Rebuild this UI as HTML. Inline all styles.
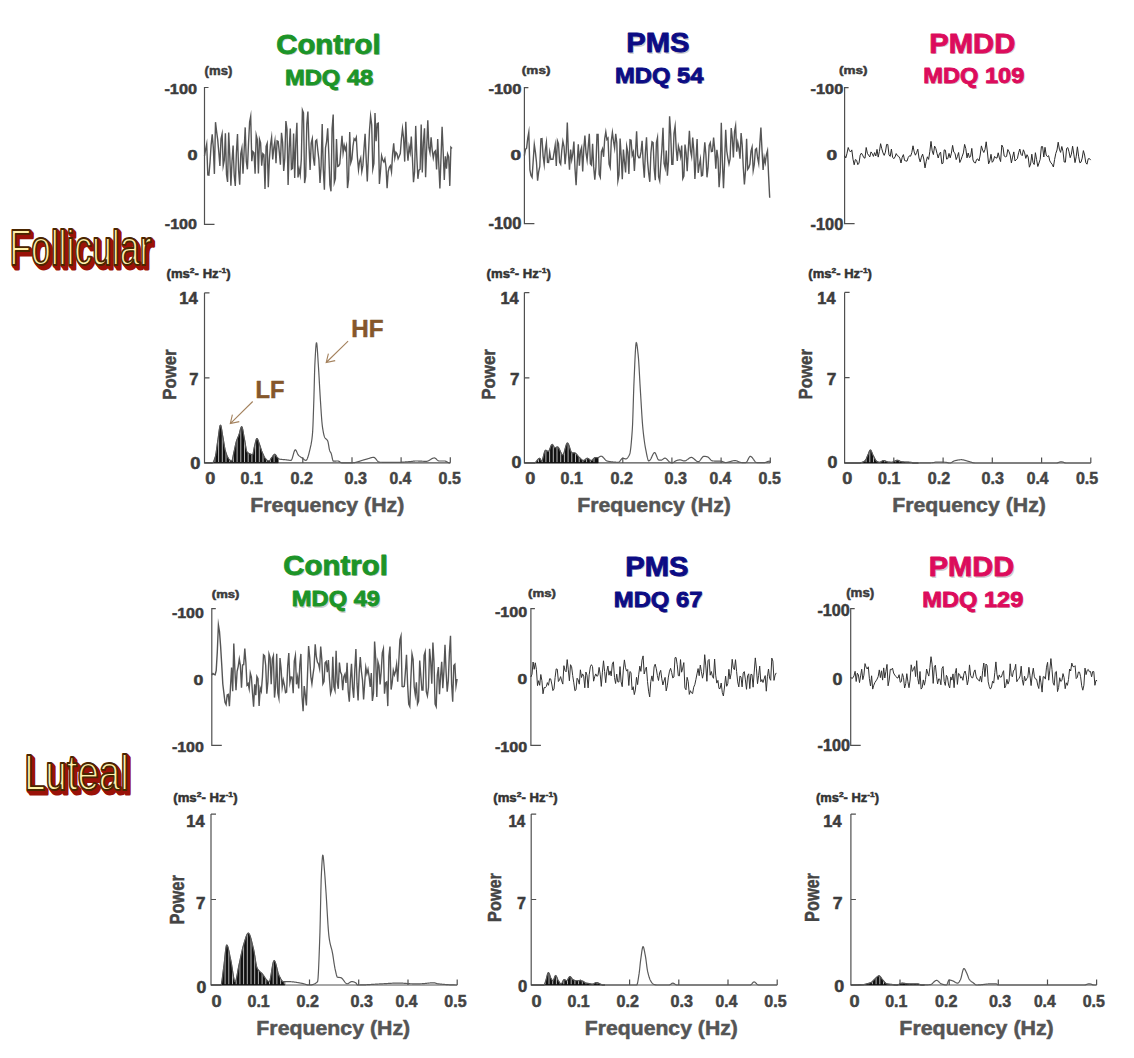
<!DOCTYPE html>
<html><head><meta charset="utf-8"><style>html,body{margin:0;padding:0;background:#fff;width:1134px;height:1058px;overflow:hidden}svg{display:block}text{font-family:"Liberation Sans",sans-serif}</style></head>
<body><svg width="1134" height="1058" viewBox="0 0 1134 1058" font-family="Liberation Sans, sans-serif">
<rect width="1134" height="1058" fill="#fff"/>
<path d="M208.5,87.5H204.5V224.3H214.5" fill="none" stroke="#505050" stroke-width="1.2"/><polyline points="204.5,155.9 205.6,149.5 206.7,144.1 207.8,174.9 208.9,175.2 210.0,162.6 211.1,145.4 212.2,134.3 213.3,147.3 214.4,173.9 215.5,122.2 216.6,131.7 217.7,139.6 218.8,152.1 219.9,165.9 221.0,138.9 222.1,134.0 223.2,165.9 224.3,160.2 225.4,133.3 226.5,174.5 227.6,181.9 228.7,132.6 229.8,156.1 230.9,185.8 232.0,161.5 233.1,145.6 234.2,175.3 235.3,186.0 236.4,152.6 237.5,134.1 238.6,170.3 239.7,184.8 240.8,153.5 241.9,148.0 243.0,173.8 244.1,151.2 245.2,127.4 246.3,161.5 247.4,169.3 248.5,143.7 249.6,122.1 250.7,116.3 251.8,161.2 252.9,151.6 254.0,152.8 255.1,173.8 256.2,135.1 257.3,139.7 258.4,173.6 259.5,139.3 260.6,142.9 261.7,165.7 262.8,153.6 263.9,154.8 265.0,189.1 266.1,146.5 267.2,143.4 268.3,187.2 269.4,159.1 270.5,144.7 271.6,137.5 272.7,159.4 273.8,148.0 274.9,141.1 276.0,163.3 277.1,140.9 278.2,141.5 279.3,152.1 280.4,164.7 281.5,132.8 282.6,142.3 283.7,171.0 284.8,158.4 285.9,121.0 287.0,129.3 288.1,184.9 289.2,148.4 290.3,128.5 291.4,169.3 292.5,168.4 293.6,133.6 294.7,177.9 295.8,142.2 296.9,122.7 298.0,177.5 299.1,169.2 300.2,175.0 301.3,159.4 302.4,110.0 303.5,112.9 304.6,183.1 305.7,176.3 306.8,124.2 307.9,111.6 309.0,145.6 310.1,170.0 311.2,143.1 312.3,138.7 313.4,158.2 314.5,165.7 315.6,141.0 316.7,139.8 317.8,150.3 318.9,159.6 320.0,182.9 321.1,165.7 322.2,123.9 323.3,169.4 324.4,189.7 325.5,147.9 326.6,141.6 327.7,128.4 328.8,153.7 329.9,185.0 331.0,191.3 332.1,128.6 333.2,114.6 334.3,182.5 335.4,178.6 336.5,139.1 337.6,166.4 338.7,165.9 339.8,163.7 340.9,149.1 342.0,135.7 343.1,152.8 344.2,145.3 345.3,150.0 346.4,145.9 347.5,188.1 348.6,179.3 349.7,132.0 350.8,162.8 351.9,159.2 353.0,146.2 354.1,138.7 355.2,140.2 356.3,137.3 357.4,157.0 358.5,169.8 359.6,161.3 360.7,157.8 361.8,171.5 362.9,165.4 364.0,148.9 365.1,133.9 366.2,159.5 367.3,181.4 368.4,155.3 369.5,130.3 370.6,116.1 371.7,124.8 372.8,169.0 373.9,163.4 375.0,113.0 376.1,141.2 377.2,123.6 378.3,123.1 379.4,183.9 380.5,171.0 381.6,155.8 382.7,159.9 383.8,161.8 384.9,158.7 386.0,167.0 387.1,188.1 388.2,171.5 389.3,167.4 390.4,165.6 391.5,171.9 392.6,154.1 393.7,143.2 394.8,158.0 395.9,152.3 397.0,153.9 398.1,158.8 399.2,156.3 400.3,153.5 401.4,139.0 402.5,128.7 403.6,138.1 404.7,161.6 405.8,121.7 406.9,147.5 408.0,160.7 409.1,146.6 410.2,152.3 411.3,136.5 412.4,157.8 413.5,182.2 414.6,171.7 415.7,125.9 416.8,156.4 417.9,178.8 419.0,170.2 420.1,169.2 421.2,124.4 422.3,172.5 423.4,142.4 424.5,128.2 425.6,177.3 426.7,147.8 427.8,120.3 428.9,147.7 430.0,152.8 431.1,137.2 432.2,150.1 433.3,157.9 434.4,152.1 435.5,150.8 436.6,169.4 437.7,139.1 438.8,164.7 439.9,188.4 441.0,158.0 442.1,126.7 443.2,152.4 444.3,179.9 445.4,156.3 446.5,168.8 447.6,154.0 448.7,156.9 449.8,185.9 450.9,147.3 452.0,148.5" fill="none" stroke="#555555" stroke-width="1.4" stroke-linejoin="miter" stroke-miterlimit="10"/><path d="M528.4,87.7H524.4V223.7H534.4" fill="none" stroke="#505050" stroke-width="1.2"/><polyline points="524.4,155.7 525.5,149.4 526.6,148.2 527.7,138.3 528.8,132.2 529.9,170.0 531.0,175.6 532.1,177.4 533.2,160.7 534.3,144.6 535.4,152.1 536.5,162.5 537.6,180.6 538.7,171.5 539.8,166.5 540.9,138.9 542.0,138.7 543.1,156.1 544.2,164.4 545.3,150.0 546.4,142.5 547.5,162.4 548.6,162.5 549.7,152.2 550.8,159.4 551.9,159.1 553.0,159.3 554.1,152.3 555.2,145.2 556.3,166.0 557.4,140.7 558.5,143.7 559.6,162.2 560.7,164.3 561.8,150.3 562.9,141.2 564.0,146.5 565.1,164.3 566.2,151.7 567.3,122.5 568.4,152.4 569.5,169.7 570.6,149.5 571.7,159.8 572.8,153.6 573.9,141.6 575.0,168.5 576.1,185.3 577.2,162.8 578.3,144.2 579.4,165.6 580.5,151.1 581.6,147.4 582.7,171.5 583.8,148.8 584.9,135.5 586.0,152.6 587.1,160.2 588.2,147.2 589.3,133.7 590.4,163.8 591.5,165.1 592.6,143.7 593.7,166.9 594.8,179.8 595.9,167.2 597.0,134.4 598.1,134.4 599.2,174.3 600.3,177.3 601.4,151.7 602.5,148.8 603.6,156.8 604.7,138.8 605.8,131.9 606.9,139.5 608.0,138.1 609.1,164.1 610.2,167.5 611.3,140.7 612.4,132.5 613.5,141.4 614.6,148.1 615.7,133.8 616.8,142.8 617.9,180.7 619.0,174.9 620.1,138.5 621.2,156.2 622.3,179.2 623.4,149.5 624.5,161.7 625.6,172.5 626.7,146.4 627.8,152.2 628.9,174.0 630.0,139.8 631.1,140.2 632.2,155.3 633.3,152.1 634.4,171.0 635.5,153.0 636.6,131.3 637.7,155.3 638.8,157.8 639.9,157.6 641.0,151.9 642.1,140.7 643.2,163.0 644.3,177.8 645.4,152.5 646.5,137.2 647.6,161.6 648.7,173.6 649.8,181.8 650.9,153.0 652.0,141.8 653.1,142.7 654.2,168.8 655.3,180.3 656.4,142.9 657.5,137.7 658.6,176.9 659.7,180.8 660.8,163.8 661.9,149.0 663.0,127.8 664.1,163.3 665.2,168.0 666.3,150.5 667.4,175.7 668.5,161.0 669.6,116.3 670.7,133.9 671.8,164.2 672.9,164.2 674.0,133.2 675.1,126.1 676.2,148.5 677.3,161.0 678.4,146.0 679.5,150.2 680.6,156.4 681.7,145.5 682.8,178.6 683.9,176.1 685.0,144.5 686.1,152.7 687.2,171.3 688.3,149.7 689.4,130.7 690.5,150.6 691.6,156.3 692.7,137.5 693.8,150.3 694.9,179.0 696.0,158.9 697.1,139.0 698.2,172.8 699.3,165.0 700.4,159.1 701.5,175.9 702.6,175.4 703.7,157.7 704.8,142.4 705.9,154.6 707.0,177.3 708.1,167.3 709.2,145.5 710.3,142.7 711.4,151.5 712.5,151.2 713.6,137.5 714.7,149.0 715.8,168.6 716.9,149.8 718.0,158.2 719.1,187.1 720.2,171.5 721.3,122.7 722.4,162.8 723.5,188.3 724.6,161.9 725.7,129.8 726.8,151.1 727.9,158.3 729.0,164.1 730.1,159.0 731.2,128.1 732.3,138.1 733.4,157.5 734.5,131.7 735.6,125.9 736.7,151.6 737.8,142.4 738.9,148.0 740.0,158.7 741.1,133.1 742.2,144.8 743.3,167.5 744.4,184.5 745.5,170.9 746.6,138.7 747.7,169.3 748.8,167.7 749.9,164.0 751.0,151.2 752.1,147.2 753.2,170.5 754.3,164.4 755.4,149.5 756.5,148.4 757.6,158.0 758.7,163.5 759.8,144.0 760.9,127.5 762.0,150.0 763.1,170.0 764.2,157.4 765.3,162.8 766.4,154.6 767.5,150.7 768.6,175.7 769.7,197.7" fill="none" stroke="#555555" stroke-width="1.4" stroke-linejoin="miter" stroke-miterlimit="10"/><path d="M848.6,87.7H844.6V223.7H854.6" fill="none" stroke="#505050" stroke-width="1.2"/><polyline points="844.6,155.7 845.8,157.9 847.0,153.3 848.2,147.5 849.4,150.7 850.6,152.0 851.8,149.9 853.0,159.2 854.2,164.8 855.4,159.5 856.6,160.3 857.8,164.7 859.0,163.1 860.2,155.2 861.4,153.1 862.6,155.1 863.8,157.6 865.0,158.2 866.2,147.5 867.4,153.3 868.6,155.3 869.8,156.9 871.0,151.9 872.2,153.5 873.4,156.4 874.6,152.6 875.8,156.0 877.0,149.4 878.2,157.1 879.4,151.5 880.6,143.7 881.8,148.8 883.0,152.9 884.2,155.4 885.4,152.2 886.6,144.4 887.8,144.5 889.0,154.9 890.2,156.4 891.4,149.1 892.6,157.2 893.8,158.7 895.0,157.0 896.2,153.6 897.4,155.7 898.6,156.3 899.8,158.1 901.0,163.0 902.2,157.3 903.4,154.6 904.6,160.5 905.8,160.9 907.0,161.2 908.2,157.6 909.4,155.8 910.6,156.2 911.8,152.6 913.0,145.8 914.2,151.9 915.4,155.2 916.6,152.6 917.8,149.2 919.0,158.0 920.2,161.9 921.4,157.2 922.6,154.1 923.8,159.0 925.0,167.9 926.2,161.4 927.4,156.8 928.6,159.4 929.8,151.6 931.0,141.4 932.2,150.9 933.4,154.6 934.6,146.1 935.8,148.5 937.0,153.3 938.2,158.0 939.4,153.7 940.6,152.1 941.8,163.7 943.0,163.2 944.2,149.9 945.4,150.2 946.6,159.1 947.8,158.6 949.0,153.4 950.2,157.8 951.4,153.2 952.6,145.4 953.8,152.2 955.0,153.3 956.2,159.6 957.4,156.6 958.6,152.5 959.8,162.5 961.0,159.8 962.2,156.3 963.4,152.9 964.6,144.4 965.8,148.6 967.0,157.9 968.2,153.0 969.4,157.5 970.6,156.6 971.8,148.4 973.0,160.0 974.2,162.5 975.4,163.0 976.6,159.5 977.8,158.9 979.0,161.0 980.2,155.0 981.4,145.9 982.6,150.0 983.8,152.5 985.0,149.5 986.2,141.8 987.4,152.0 988.6,163.9 989.8,160.9 991.0,154.3 992.2,162.3 993.4,160.8 994.6,156.4 995.8,157.8 997.0,158.1 998.2,152.8 999.4,157.9 1000.6,161.6 1001.8,145.1 1003.0,147.4 1004.2,156.0 1005.4,156.8 1006.6,156.4 1007.8,149.5 1009.0,151.7 1010.2,155.1 1011.4,162.9 1012.6,157.1 1013.8,151.9 1015.0,161.0 1016.2,159.8 1017.4,158.6 1018.6,152.8 1019.8,149.0 1021.0,154.4 1022.2,155.7 1023.4,149.8 1024.6,152.8 1025.8,158.4 1027.0,154.7 1028.2,157.1 1029.4,167.2 1030.6,164.0 1031.8,154.2 1033.0,162.5 1034.2,164.5 1035.4,152.7 1036.6,159.6 1037.8,166.5 1039.0,163.0 1040.2,159.2 1041.4,146.6 1042.6,146.6 1043.8,157.0 1045.0,147.3 1046.2,155.1 1047.4,156.6 1048.6,155.7 1049.8,160.9 1051.0,162.9 1052.2,164.3 1053.4,167.0 1054.6,159.5 1055.8,153.4 1057.0,150.0 1058.2,142.2 1059.4,149.2 1060.6,152.4 1061.8,146.5 1063.0,151.4 1064.2,162.0 1065.4,162.2 1066.6,148.4 1067.8,147.6 1069.0,151.8 1070.2,157.7 1071.4,154.2 1072.6,146.2 1073.8,154.1 1075.0,162.6 1076.2,156.8 1077.4,146.8 1078.6,156.2 1079.8,162.7 1081.0,162.2 1082.2,158.1 1083.4,150.6 1084.6,155.0 1085.8,162.7 1087.0,164.2 1088.2,158.8 1089.4,158.5 1090.6,160.1" fill="none" stroke="#2a2a2a" stroke-width="1.0" stroke-linejoin="miter" stroke-miterlimit="10"/><path d="M215.8,608.6H211.8V745.4H221.8" fill="none" stroke="#505050" stroke-width="1.2"/><polyline points="211.8,675.0 212.9,673.5 214.0,674.4 215.1,674.8 216.2,670.6 217.3,651.9 218.4,624.9 219.5,631.7 220.6,646.1 221.7,664.3 222.8,684.0 223.9,693.1 225.0,702.2 226.1,704.5 227.2,695.0 228.3,694.4 229.4,706.2 230.5,686.9 231.6,667.6 232.7,691.3 233.8,643.5 234.9,670.4 236.0,690.2 237.1,671.3 238.2,666.6 239.3,659.0 240.4,665.6 241.5,687.8 242.6,664.9 243.7,664.6 244.8,648.5 245.9,662.9 247.0,685.0 248.1,683.5 249.2,688.8 250.3,673.2 251.4,677.2 252.5,693.3 253.6,706.8 254.7,684.3 255.8,695.3 256.9,676.4 258.0,678.6 259.1,705.9 260.2,688.1 261.3,691.3 262.4,677.5 263.5,654.8 264.6,655.8 265.7,665.5 266.8,693.7 267.9,682.0 269.0,653.9 270.1,657.5 271.2,684.3 272.3,659.1 273.4,655.7 274.5,697.6 275.6,686.4 276.7,653.7 277.8,692.9 278.9,698.2 280.0,658.0 281.1,668.7 282.2,687.2 283.3,680.0 284.4,685.0 285.5,692.7 286.6,692.0 287.7,665.7 288.8,653.1 289.9,682.5 291.0,677.0 292.1,677.1 293.2,693.2 294.3,661.2 295.4,655.6 296.5,684.3 297.6,677.2 298.7,688.4 299.8,664.8 300.9,653.9 302.0,696.0 303.1,711.2 304.2,686.0 305.3,695.0 306.4,705.4 307.5,675.1 308.6,646.0 309.7,657.2 310.8,676.5 311.9,683.8 313.0,674.6 314.1,667.0 315.2,644.3 316.3,656.5 317.4,662.1 318.5,663.9 319.6,668.8 320.7,646.5 321.8,659.4 322.9,683.9 324.0,681.6 325.1,662.8 326.2,661.5 327.3,672.2 328.4,660.1 329.5,679.4 330.6,693.5 331.7,689.7 332.8,656.8 333.9,687.0 335.0,690.6 336.1,650.8 337.2,681.9 338.3,688.8 339.4,662.6 340.5,672.0 341.6,674.4 342.7,690.3 343.8,676.8 344.9,674.2 346.0,682.9 347.1,662.7 348.2,691.3 349.3,701.7 350.4,679.4 351.5,663.9 352.6,687.8 353.7,697.8 354.8,669.7 355.9,649.0 357.0,683.4 358.1,700.4 359.2,672.2 360.3,657.1 361.4,671.3 362.5,680.1 363.6,699.4 364.7,683.3 365.8,667.5 366.9,673.6 368.0,669.2 369.1,676.5 370.2,687.0 371.3,673.1 372.4,701.0 373.5,693.1 374.6,641.5 375.7,658.2 376.8,696.9 377.9,661.7 379.0,665.8 380.1,684.5 381.2,671.7 382.3,652.9 383.4,648.8 384.5,693.8 385.6,682.8 386.7,681.9 387.8,706.1 388.9,656.4 390.0,646.5 391.1,689.6 392.2,682.7 393.3,670.5 394.4,675.0 395.5,671.5 396.6,664.4 397.7,681.8 398.8,661.5 399.9,639.9 401.0,636.0 402.1,686.5 403.2,686.7 404.3,686.2 405.4,671.7 406.5,654.8 407.6,684.3 408.7,704.0 409.8,706.5 410.9,678.1 412.0,654.0 413.1,659.4 414.2,686.8 415.3,695.0 416.4,682.4 417.5,704.0 418.6,701.1 419.7,660.5 420.8,675.6 421.9,690.0 423.0,690.0 424.1,655.4 425.2,651.8 426.3,691.6 427.4,695.8 428.5,687.3 429.6,648.7 430.7,661.7 431.8,683.7 432.9,642.5 434.0,662.1 435.1,704.1 436.2,706.6 437.3,675.0 438.4,667.0 439.5,694.3 440.6,676.4 441.7,661.8 442.8,688.1 443.9,671.4 445.0,644.8 446.1,672.0 447.2,691.6 448.3,680.6 449.4,652.9 450.5,635.7 451.6,683.6 452.7,701.8 453.8,665.6 454.9,664.3 456.0,686.1 457.1,679.0" fill="none" stroke="#555555" stroke-width="1.4" stroke-linejoin="miter" stroke-miterlimit="10"/><path d="M534.9,608.6H530.9V745.4H540.9" fill="none" stroke="#505050" stroke-width="1.2"/><polyline points="530.9,677.0 532.0,674.2 533.1,662.0 534.2,669.3 535.3,662.8 536.4,669.3 537.5,685.6 538.6,680.7 539.7,685.3 540.8,674.5 541.9,680.7 543.0,693.8 544.1,687.6 545.2,687.7 546.3,686.6 547.4,682.6 548.5,685.3 549.6,678.7 550.7,678.9 551.8,684.1 552.9,690.6 554.0,688.9 555.1,677.5 556.2,668.9 557.3,669.3 558.4,681.5 559.5,679.9 560.6,676.6 561.7,680.9 562.8,684.1 563.9,665.7 565.0,670.5 566.1,671.8 567.2,659.6 568.3,669.8 569.4,680.8 570.5,664.7 571.6,666.7 572.7,675.6 573.8,682.8 574.9,690.7 576.0,689.8 577.1,678.2 578.2,680.0 579.3,684.2 580.4,669.8 581.5,677.5 582.6,673.9 583.7,676.2 584.8,687.8 585.9,672.0 587.0,675.2 588.1,687.9 589.2,674.7 590.3,666.9 591.4,664.7 592.5,666.5 593.6,681.2 594.7,676.7 595.8,673.9 596.9,676.3 598.0,675.5 599.1,667.4 600.2,674.2 601.3,686.4 602.4,672.2 603.5,660.8 604.6,671.5 605.7,682.7 606.8,671.3 607.9,666.0 609.0,675.2 610.1,670.9 611.2,675.9 612.3,664.2 613.4,661.8 614.5,677.6 615.6,683.5 616.7,674.1 617.8,681.9 618.9,682.0 620.0,666.6 621.1,681.8 622.2,686.7 623.3,670.1 624.4,659.9 625.5,667.7 626.6,671.1 627.7,669.5 628.8,685.5 629.9,671.5 631.0,672.5 632.1,689.9 633.2,686.7 634.3,694.6 635.4,689.9 636.5,677.3 637.6,684.6 638.7,674.8 639.8,666.2 640.9,671.4 642.0,660.1 643.1,655.9 644.2,674.0 645.3,669.6 646.4,667.1 647.5,681.4 648.6,691.2 649.7,696.9 650.8,681.6 651.9,675.9 653.0,681.3 654.1,666.9 655.2,664.2 656.3,668.8 657.4,675.6 658.5,680.5 659.6,673.0 660.7,670.3 661.8,678.8 662.9,685.0 664.0,680.9 665.1,677.4 666.2,690.9 667.3,685.8 668.4,677.1 669.5,671.2 670.6,668.3 671.7,672.6 672.8,678.0 673.9,677.0 675.0,657.7 676.1,657.6 677.2,664.7 678.3,675.6 679.4,675.9 680.5,659.6 681.6,672.2 682.7,668.1 683.8,662.6 684.9,687.9 686.0,689.8 687.1,677.3 688.2,681.5 689.3,694.4 690.4,690.7 691.5,692.9 692.6,693.6 693.7,687.2 694.8,684.7 695.9,679.5 697.0,673.9 698.1,668.6 699.2,675.7 700.3,665.0 701.4,671.6 702.5,678.2 703.6,672.9 704.7,654.7 705.8,665.9 706.9,681.3 708.0,660.7 709.1,659.4 710.2,675.2 711.3,671.5 712.4,676.3 713.5,678.3 714.6,659.0 715.7,675.2 716.8,683.1 717.9,680.4 719.0,688.5 720.1,688.6 721.2,683.0 722.3,692.5 723.4,696.0 724.5,687.0 725.6,676.2 726.7,686.3 727.8,683.6 728.9,669.3 730.0,679.1 731.1,673.7 732.2,659.3 733.3,667.8 734.4,669.7 735.5,659.7 736.6,671.6 737.7,681.9 738.8,686.9 739.9,676.1 741.0,676.8 742.1,686.9 743.2,673.1 744.3,671.6 745.4,679.9 746.5,689.3 747.6,675.7 748.7,673.8 749.8,688.6 750.9,674.3 752.0,674.6 753.1,687.2 754.2,672.1 755.3,657.9 756.4,668.1 757.5,683.7 758.6,675.7 759.7,666.1 760.8,681.8 761.9,679.5 763.0,682.5 764.1,678.9 765.2,675.6 766.3,691.2 767.4,676.8 768.5,669.0 769.6,678.4 770.7,680.3 771.8,658.1 772.9,661.1 774.0,680.4 775.1,675.1 776.2,672.9" fill="none" stroke="#333333" stroke-width="1.0" stroke-linejoin="miter" stroke-miterlimit="10"/><path d="M854.7,608.6H850.7V745.4H860.7" fill="none" stroke="#505050" stroke-width="1.2"/><polyline points="850.7,677.0 851.8,678.6 852.9,677.8 854.0,675.8 855.1,671.3 856.2,681.5 857.3,673.2 858.4,674.9 859.5,682.6 860.6,675.9 861.7,669.2 862.8,679.6 863.9,675.2 865.0,663.6 866.1,667.2 867.2,669.0 868.3,666.8 869.4,678.7 870.5,686.0 871.6,675.8 872.7,689.1 873.8,685.2 874.9,682.5 876.0,680.9 877.1,679.1 878.2,676.5 879.3,669.9 880.4,677.6 881.5,670.8 882.6,680.1 883.7,667.9 884.8,678.0 885.9,671.4 887.0,664.4 888.1,685.8 889.2,680.1 890.3,669.3 891.4,669.7 892.5,668.1 893.6,673.0 894.7,675.0 895.8,676.3 896.9,677.8 898.0,678.0 899.1,674.7 900.2,682.3 901.3,681.7 902.4,673.7 903.5,677.5 904.6,688.0 905.7,683.7 906.8,673.7 907.9,681.6 909.0,687.7 910.1,680.0 911.2,664.8 912.3,671.4 913.4,669.5 914.5,666.5 915.6,676.6 916.7,660.7 917.8,678.7 918.9,684.2 920.0,671.5 921.1,689.1 922.2,687.6 923.3,679.9 924.4,685.2 925.5,679.7 926.6,669.0 927.7,673.0 928.8,676.1 929.9,667.4 931.0,656.7 932.1,664.2 933.2,683.4 934.3,667.3 935.4,665.2 936.5,676.2 937.6,683.9 938.7,678.9 939.8,679.2 940.9,684.8 942.0,668.3 943.1,666.5 944.2,681.4 945.3,685.4 946.4,675.3 947.5,677.5 948.6,685.1 949.7,687.9 950.8,676.9 951.9,680.1 953.0,673.9 954.1,687.7 955.2,673.4 956.3,668.4 957.4,684.4 958.5,673.4 959.6,674.3 960.7,678.2 961.8,676.7 962.9,680.3 964.0,673.3 965.1,671.0 966.2,675.7 967.3,684.9 968.4,679.8 969.5,664.9 970.6,675.3 971.7,677.7 972.8,677.8 973.9,672.2 975.0,669.9 976.1,676.2 977.2,679.0 978.3,679.6 979.4,681.2 980.5,676.2 981.6,682.1 982.7,670.5 983.8,663.0 984.9,676.6 986.0,664.0 987.1,665.6 988.2,681.8 989.3,686.7 990.4,689.1 991.5,687.0 992.6,681.2 993.7,683.1 994.8,672.6 995.9,661.9 997.0,674.6 998.1,679.6 999.2,674.9 1000.3,677.2 1001.4,677.0 1002.5,673.3 1003.6,670.7 1004.7,688.0 1005.8,685.4 1006.9,679.3 1008.0,684.1 1009.1,681.0 1010.2,663.8 1011.3,675.7 1012.4,676.8 1013.5,670.5 1014.6,669.9 1015.7,664.3 1016.8,681.7 1017.9,679.7 1019.0,678.5 1020.1,676.0 1021.2,666.2 1022.3,679.7 1023.4,685.3 1024.5,676.2 1025.6,680.9 1026.7,678.8 1027.8,677.3 1028.9,667.3 1030.0,675.7 1031.1,685.6 1032.2,675.0 1033.3,668.2 1034.4,676.8 1035.5,679.1 1036.6,679.3 1037.7,685.1 1038.8,688.5 1039.9,675.8 1041.0,682.8 1042.1,692.1 1043.2,676.7 1044.3,676.8 1045.4,679.1 1046.5,667.2 1047.6,662.3 1048.7,680.2 1049.8,670.1 1050.9,658.6 1052.0,669.6 1053.1,682.9 1054.2,685.3 1055.3,672.4 1056.4,671.4 1057.5,691.6 1058.6,687.5 1059.7,677.7 1060.8,681.5 1061.9,680.5 1063.0,673.6 1064.1,677.7 1065.2,688.7 1066.3,682.8 1067.4,685.3 1068.5,679.5 1069.6,669.0 1070.7,671.0 1071.8,663.1 1072.9,666.5 1074.0,666.8 1075.1,665.7 1076.2,678.6 1077.3,677.3 1078.4,672.0 1079.5,672.1 1080.6,676.7 1081.7,685.8 1082.8,690.2 1083.9,685.2 1085.0,668.1 1086.1,674.6 1087.2,670.3 1088.3,669.5 1089.4,671.8 1090.5,671.5 1091.6,676.8 1092.7,671.5 1093.8,671.6 1094.9,685.3 1096.0,680.3 1097.1,680.8" fill="none" stroke="#333333" stroke-width="1.0" stroke-linejoin="miter" stroke-miterlimit="10"/>
<path d="M204.5,292.8V462.8H450.3M204.5,292.8H209.5M204.5,377.8H209.5M253.7,462.8V457.3M302.8,462.8V457.3M352.0,462.8V457.3M401.1,462.8V457.3M450.3,462.8V457.3" fill="none" stroke="#505050" stroke-width="1.2"/><clipPath id="lf0"><polygon points="204.5,462.8 204.50,462.80 204.81,462.80 205.11,462.80 205.42,462.80 205.73,462.80 206.04,462.80 206.34,462.80 206.65,462.80 206.96,462.80 207.27,462.80 207.57,462.80 207.88,462.80 208.19,462.80 208.49,462.80 208.80,462.80 209.11,462.80 209.42,462.80 209.72,462.80 210.03,462.80 210.34,462.80 210.65,462.80 210.95,462.80 211.26,462.80 211.57,462.80 211.87,462.80 212.18,462.80 212.49,462.78 212.80,462.62 213.10,462.29 213.41,461.81 213.72,461.21 214.02,460.49 214.33,459.69 214.64,458.81 214.95,457.88 215.25,456.92 215.56,455.79 215.87,454.23 216.18,452.33 216.48,450.20 216.79,447.93 217.10,445.62 217.40,443.39 217.71,441.33 218.02,439.32 218.33,437.07 218.63,434.68 218.94,432.29 219.25,430.04 219.56,428.05 219.86,426.46 220.17,425.42 220.48,425.04 220.78,425.43 221.09,426.48 221.40,428.04 221.71,429.91 222.01,431.94 222.32,433.95 222.63,435.76 222.94,437.40 223.24,439.17 223.55,441.01 223.86,442.89 224.16,444.75 224.47,446.54 224.78,448.22 225.09,449.73 225.39,451.02 225.70,452.06 226.01,452.97 226.31,453.84 226.62,454.65 226.93,455.42 227.24,456.13 227.54,456.79 227.85,457.39 228.16,457.93 228.47,458.40 228.77,458.81 229.08,459.16 229.39,459.46 229.69,459.76 230.00,460.05 230.31,460.31 230.62,460.54 230.92,460.73 231.23,460.87 231.54,460.96 231.85,460.96 232.15,460.52 232.46,459.55 232.77,458.21 233.07,456.62 233.38,454.94 233.69,453.31 234.00,451.87 234.30,450.53 234.61,449.11 234.92,447.67 235.22,446.22 235.53,444.82 235.84,443.48 236.15,442.26 236.45,441.19 236.76,440.25 237.07,439.40 237.38,438.62 237.68,437.88 237.99,437.16 238.30,436.43 238.60,435.68 238.91,434.87 239.22,433.93 239.53,432.83 239.83,431.64 240.14,430.44 240.45,429.29 240.76,428.26 241.06,427.43 241.37,426.86 241.68,426.62 241.98,426.85 242.29,427.64 242.60,428.86 242.91,430.40 243.21,432.16 243.52,434.02 243.83,435.87 244.14,437.59 244.44,439.12 244.75,440.80 245.06,442.64 245.36,444.54 245.67,446.41 245.98,448.16 246.29,449.68 246.59,450.89 246.90,451.69 247.21,452.07 247.52,452.38 247.82,452.65 248.13,452.88 248.44,453.09 248.74,453.28 249.05,453.44 249.36,453.59 249.67,453.73 249.97,453.86 250.28,453.98 250.59,454.11 250.89,454.25 251.20,454.40 251.51,454.56 251.82,454.72 252.12,454.84 252.43,454.90 252.74,454.73 253.05,453.90 253.35,452.56 253.66,450.92 253.97,449.15 254.27,447.46 254.58,446.04 254.89,444.84 255.20,443.54 255.50,442.22 255.81,440.97 256.12,439.89 256.43,439.06 256.73,438.59 257.04,438.54 257.35,438.81 257.65,439.30 257.96,439.98 258.27,440.80 258.58,441.70 258.88,442.63 259.19,443.56 259.50,444.42 259.81,445.25 260.11,446.16 260.42,447.11 260.73,448.10 261.03,449.08 261.34,450.03 261.65,450.92 261.96,451.72 262.26,452.45 262.57,453.18 262.88,453.90 263.18,454.59 263.49,455.27 263.80,455.91 264.11,456.52 264.41,457.08 264.72,457.58 265.03,458.03 265.34,458.42 265.64,458.74 265.95,459.06 266.26,459.37 266.56,459.67 266.87,459.95 267.18,460.21 267.49,460.44 267.79,460.64 268.10,460.79 268.41,460.91 268.72,460.97 269.02,460.97 269.33,460.83 269.64,460.56 269.94,460.20 270.25,459.76 270.56,459.28 270.87,458.77 271.17,458.27 271.48,457.81 271.79,457.41 272.10,457.04 272.40,456.65 272.71,456.23 273.02,455.81 273.32,455.40 273.63,455.04 273.94,454.72 274.25,454.49 274.55,454.34 274.86,454.30 275.17,454.44 275.47,454.74 275.78,455.15 276.09,455.63 276.40,456.14 276.70,456.64 277.01,457.07 277.32,457.39 277.63,457.68 277.93,457.98 278.24,458.26 278.2,462.8"/></clipPath><polygon points="204.5,462.8 204.50,462.80 204.81,462.80 205.11,462.80 205.42,462.80 205.73,462.80 206.04,462.80 206.34,462.80 206.65,462.80 206.96,462.80 207.27,462.80 207.57,462.80 207.88,462.80 208.19,462.80 208.49,462.80 208.80,462.80 209.11,462.80 209.42,462.80 209.72,462.80 210.03,462.80 210.34,462.80 210.65,462.80 210.95,462.80 211.26,462.80 211.57,462.80 211.87,462.80 212.18,462.80 212.49,462.78 212.80,462.62 213.10,462.29 213.41,461.81 213.72,461.21 214.02,460.49 214.33,459.69 214.64,458.81 214.95,457.88 215.25,456.92 215.56,455.79 215.87,454.23 216.18,452.33 216.48,450.20 216.79,447.93 217.10,445.62 217.40,443.39 217.71,441.33 218.02,439.32 218.33,437.07 218.63,434.68 218.94,432.29 219.25,430.04 219.56,428.05 219.86,426.46 220.17,425.42 220.48,425.04 220.78,425.43 221.09,426.48 221.40,428.04 221.71,429.91 222.01,431.94 222.32,433.95 222.63,435.76 222.94,437.40 223.24,439.17 223.55,441.01 223.86,442.89 224.16,444.75 224.47,446.54 224.78,448.22 225.09,449.73 225.39,451.02 225.70,452.06 226.01,452.97 226.31,453.84 226.62,454.65 226.93,455.42 227.24,456.13 227.54,456.79 227.85,457.39 228.16,457.93 228.47,458.40 228.77,458.81 229.08,459.16 229.39,459.46 229.69,459.76 230.00,460.05 230.31,460.31 230.62,460.54 230.92,460.73 231.23,460.87 231.54,460.96 231.85,460.96 232.15,460.52 232.46,459.55 232.77,458.21 233.07,456.62 233.38,454.94 233.69,453.31 234.00,451.87 234.30,450.53 234.61,449.11 234.92,447.67 235.22,446.22 235.53,444.82 235.84,443.48 236.15,442.26 236.45,441.19 236.76,440.25 237.07,439.40 237.38,438.62 237.68,437.88 237.99,437.16 238.30,436.43 238.60,435.68 238.91,434.87 239.22,433.93 239.53,432.83 239.83,431.64 240.14,430.44 240.45,429.29 240.76,428.26 241.06,427.43 241.37,426.86 241.68,426.62 241.98,426.85 242.29,427.64 242.60,428.86 242.91,430.40 243.21,432.16 243.52,434.02 243.83,435.87 244.14,437.59 244.44,439.12 244.75,440.80 245.06,442.64 245.36,444.54 245.67,446.41 245.98,448.16 246.29,449.68 246.59,450.89 246.90,451.69 247.21,452.07 247.52,452.38 247.82,452.65 248.13,452.88 248.44,453.09 248.74,453.28 249.05,453.44 249.36,453.59 249.67,453.73 249.97,453.86 250.28,453.98 250.59,454.11 250.89,454.25 251.20,454.40 251.51,454.56 251.82,454.72 252.12,454.84 252.43,454.90 252.74,454.73 253.05,453.90 253.35,452.56 253.66,450.92 253.97,449.15 254.27,447.46 254.58,446.04 254.89,444.84 255.20,443.54 255.50,442.22 255.81,440.97 256.12,439.89 256.43,439.06 256.73,438.59 257.04,438.54 257.35,438.81 257.65,439.30 257.96,439.98 258.27,440.80 258.58,441.70 258.88,442.63 259.19,443.56 259.50,444.42 259.81,445.25 260.11,446.16 260.42,447.11 260.73,448.10 261.03,449.08 261.34,450.03 261.65,450.92 261.96,451.72 262.26,452.45 262.57,453.18 262.88,453.90 263.18,454.59 263.49,455.27 263.80,455.91 264.11,456.52 264.41,457.08 264.72,457.58 265.03,458.03 265.34,458.42 265.64,458.74 265.95,459.06 266.26,459.37 266.56,459.67 266.87,459.95 267.18,460.21 267.49,460.44 267.79,460.64 268.10,460.79 268.41,460.91 268.72,460.97 269.02,460.97 269.33,460.83 269.64,460.56 269.94,460.20 270.25,459.76 270.56,459.28 270.87,458.77 271.17,458.27 271.48,457.81 271.79,457.41 272.10,457.04 272.40,456.65 272.71,456.23 273.02,455.81 273.32,455.40 273.63,455.04 273.94,454.72 274.25,454.49 274.55,454.34 274.86,454.30 275.17,454.44 275.47,454.74 275.78,455.15 276.09,455.63 276.40,456.14 276.70,456.64 277.01,457.07 277.32,457.39 277.63,457.68 277.93,457.98 278.24,458.26 278.2,462.8" fill="#111" stroke="#111" stroke-width="0.6"/><path d="M207.5,219.9V462.0M211.2,219.9V462.0M214.9,219.9V462.0M218.6,219.9V462.0M222.3,219.9V462.0M226.0,219.9V462.0M229.7,219.9V462.0M233.4,219.9V462.0M237.1,219.9V462.0M240.8,219.9V462.0M244.5,219.9V462.0M248.2,219.9V462.0M251.9,219.9V462.0M255.6,219.9V462.0M259.3,219.9V462.0M263.0,219.9V462.0M266.7,219.9V462.0M270.4,219.9V462.0M274.1,219.9V462.0" stroke="#c8c8c8" stroke-width="0.9" clip-path="url(#lf0)"/><polyline points="204.50,462.80 204.81,462.80 205.11,462.80 205.42,462.80 205.73,462.80 206.04,462.80 206.34,462.80 206.65,462.80 206.96,462.80 207.27,462.80 207.57,462.80 207.88,462.80 208.19,462.80 208.49,462.80 208.80,462.80 209.11,462.80 209.42,462.80 209.72,462.80 210.03,462.80 210.34,462.80 210.65,462.80 210.95,462.80 211.26,462.80 211.57,462.80 211.87,462.80 212.18,462.80 212.49,462.78 212.80,462.62 213.10,462.29 213.41,461.81 213.72,461.21 214.02,460.49 214.33,459.69 214.64,458.81 214.95,457.88 215.25,456.92 215.56,455.79 215.87,454.23 216.18,452.33 216.48,450.20 216.79,447.93 217.10,445.62 217.40,443.39 217.71,441.33 218.02,439.32 218.33,437.07 218.63,434.68 218.94,432.29 219.25,430.04 219.56,428.05 219.86,426.46 220.17,425.42 220.48,425.04 220.78,425.43 221.09,426.48 221.40,428.04 221.71,429.91 222.01,431.94 222.32,433.95 222.63,435.76 222.94,437.40 223.24,439.17 223.55,441.01 223.86,442.89 224.16,444.75 224.47,446.54 224.78,448.22 225.09,449.73 225.39,451.02 225.70,452.06 226.01,452.97 226.31,453.84 226.62,454.65 226.93,455.42 227.24,456.13 227.54,456.79 227.85,457.39 228.16,457.93 228.47,458.40 228.77,458.81 229.08,459.16 229.39,459.46 229.69,459.76 230.00,460.05 230.31,460.31 230.62,460.54 230.92,460.73 231.23,460.87 231.54,460.96 231.85,460.96 232.15,460.52 232.46,459.55 232.77,458.21 233.07,456.62 233.38,454.94 233.69,453.31 234.00,451.87 234.30,450.53 234.61,449.11 234.92,447.67 235.22,446.22 235.53,444.82 235.84,443.48 236.15,442.26 236.45,441.19 236.76,440.25 237.07,439.40 237.38,438.62 237.68,437.88 237.99,437.16 238.30,436.43 238.60,435.68 238.91,434.87 239.22,433.93 239.53,432.83 239.83,431.64 240.14,430.44 240.45,429.29 240.76,428.26 241.06,427.43 241.37,426.86 241.68,426.62 241.98,426.85 242.29,427.64 242.60,428.86 242.91,430.40 243.21,432.16 243.52,434.02 243.83,435.87 244.14,437.59 244.44,439.12 244.75,440.80 245.06,442.64 245.36,444.54 245.67,446.41 245.98,448.16 246.29,449.68 246.59,450.89 246.90,451.69 247.21,452.07 247.52,452.38 247.82,452.65 248.13,452.88 248.44,453.09 248.74,453.28 249.05,453.44 249.36,453.59 249.67,453.73 249.97,453.86 250.28,453.98 250.59,454.11 250.89,454.25 251.20,454.40 251.51,454.56 251.82,454.72 252.12,454.84 252.43,454.90 252.74,454.73 253.05,453.90 253.35,452.56 253.66,450.92 253.97,449.15 254.27,447.46 254.58,446.04 254.89,444.84 255.20,443.54 255.50,442.22 255.81,440.97 256.12,439.89 256.43,439.06 256.73,438.59 257.04,438.54 257.35,438.81 257.65,439.30 257.96,439.98 258.27,440.80 258.58,441.70 258.88,442.63 259.19,443.56 259.50,444.42 259.81,445.25 260.11,446.16 260.42,447.11 260.73,448.10 261.03,449.08 261.34,450.03 261.65,450.92 261.96,451.72 262.26,452.45 262.57,453.18 262.88,453.90 263.18,454.59 263.49,455.27 263.80,455.91 264.11,456.52 264.41,457.08 264.72,457.58 265.03,458.03 265.34,458.42 265.64,458.74 265.95,459.06 266.26,459.37 266.56,459.67 266.87,459.95 267.18,460.21 267.49,460.44 267.79,460.64 268.10,460.79 268.41,460.91 268.72,460.97 269.02,460.97 269.33,460.83 269.64,460.56 269.94,460.20 270.25,459.76 270.56,459.28 270.87,458.77 271.17,458.27 271.48,457.81 271.79,457.41 272.10,457.04 272.40,456.65 272.71,456.23 273.02,455.81 273.32,455.40 273.63,455.04 273.94,454.72 274.25,454.49 274.55,454.34 274.86,454.30 275.17,454.44 275.47,454.74 275.78,455.15 276.09,455.63 276.40,456.14 276.70,456.64 277.01,457.07 277.32,457.39 277.63,457.68 277.93,457.98 278.24,458.26 278.55,458.52 278.85,458.75 279.16,458.94 279.47,459.09 279.78,459.17 280.08,459.23 280.39,459.28 280.70,459.33 281.01,459.37 281.31,459.40 281.62,459.44 281.93,459.47 282.23,459.50 282.54,459.52 282.85,459.54 283.16,459.57 283.46,459.59 283.77,459.61 284.08,459.63 284.38,459.65 284.69,459.68 285.00,459.70 285.31,459.73 285.61,459.76 285.92,459.80 286.23,459.84 286.54,459.88 286.84,459.92 287.15,459.97 287.46,460.01 287.76,460.06 288.07,460.11 288.38,460.15 288.69,460.19 288.99,460.23 289.30,460.27 289.61,460.30 289.92,460.32 290.22,460.35 290.53,460.36 290.84,460.37 291.14,460.35 291.45,460.07 291.76,459.54 292.07,458.79 292.37,457.87 292.68,456.84 292.99,455.73 293.30,454.59 293.60,453.47 293.91,452.43 294.22,451.49 294.52,450.72 294.83,450.16 295.14,449.85 295.45,449.84 295.75,450.06 296.06,450.47 296.37,451.02 296.68,451.67 296.98,452.38 297.29,453.11 297.60,453.80 297.90,454.42 298.21,454.92 298.52,455.28 298.83,455.58 299.13,455.87 299.44,456.13 299.75,456.38 300.05,456.61 300.36,456.83 300.67,457.04 300.98,457.24 301.28,457.44 301.59,457.64 301.90,457.83 302.21,458.03 302.51,458.23 302.82,458.45 303.13,458.68 303.43,458.93 303.74,459.19 304.05,459.44 304.36,459.68 304.66,459.90 304.97,460.09 305.28,460.24 305.59,460.33 305.89,460.37 306.20,460.29 306.51,460.04 306.81,459.63 307.12,459.08 307.43,458.38 307.74,457.57 308.04,456.65 308.35,455.63 308.66,454.54 308.97,453.37 309.27,452.15 309.58,450.88 309.89,449.59 310.19,448.28 310.50,446.96 310.81,445.61 311.12,444.14 311.42,442.46 311.73,440.48 312.04,438.13 312.34,435.32 312.65,431.67 312.96,425.48 313.27,417.34 313.57,408.27 313.88,399.01 314.19,387.48 314.50,375.39 314.80,365.79 315.11,359.55 315.42,353.75 315.72,348.72 316.03,344.94 316.34,342.85 316.65,342.87 316.95,344.83 317.26,348.26 317.57,352.70 317.88,357.68 318.18,362.73 318.49,367.41 318.80,372.23 319.10,377.54 319.41,383.12 319.72,388.73 320.03,394.13 320.33,399.10 320.64,403.78 320.95,408.54 321.25,413.21 321.56,417.58 321.87,421.47 322.18,424.68 322.48,427.06 322.79,429.09 323.10,430.95 323.41,432.62 323.71,434.10 324.02,435.36 324.33,436.39 324.63,437.17 324.94,437.74 325.25,438.19 325.56,438.54 325.86,438.83 326.17,439.09 326.48,439.34 326.79,439.63 327.09,439.98 327.40,440.41 327.71,440.97 328.01,441.94 328.32,443.42 328.63,445.20 328.94,447.05 329.24,448.78 329.55,450.15 329.86,451.02 330.17,451.62 330.47,452.11 330.78,452.60 331.09,453.21 331.39,454.12 331.70,455.39 332.01,456.85 332.32,458.33 332.62,459.65 332.93,460.63 333.24,461.09 333.55,461.10 333.85,461.10 334.16,461.09 334.47,461.08 334.77,461.07 335.08,461.06 335.39,461.05 335.70,461.04 336.00,461.03 336.31,461.01 336.62,461.00 336.92,461.00 337.23,460.99 337.54,460.98 337.85,460.98 338.15,460.99 338.46,461.06 338.77,461.19 339.08,461.38 339.38,461.60 339.69,461.83 340.00,462.07 340.30,462.30 340.61,462.50 340.92,462.66 341.23,462.77 341.53,462.80 341.84,462.80 342.15,462.80 342.46,462.80 342.76,462.80 343.07,462.80 343.38,462.80 343.68,462.80 343.99,462.80 344.30,462.80 344.61,462.80 344.91,462.80 345.22,462.80 345.53,462.80 345.84,462.80 346.14,462.80 346.45,462.80 346.76,462.80 347.06,462.80 347.37,462.80 347.68,462.80 347.99,462.80 348.29,462.80 348.60,462.80 348.91,462.80 349.21,462.80 349.52,462.80 349.83,462.80 350.14,462.80 350.44,462.80 350.75,462.80 351.06,462.80 351.37,462.80 351.67,462.80 351.98,462.80 352.29,462.80 352.59,462.79 352.90,462.77 353.21,462.74 353.52,462.71 353.82,462.68 354.13,462.64 354.44,462.59 354.75,462.54 355.05,462.48 355.36,462.42 355.67,462.35 355.97,462.28 356.28,462.21 356.59,462.13 356.90,462.05 357.20,461.96 357.51,461.87 357.82,461.78 358.12,461.69 358.43,461.60 358.74,461.50 359.05,461.40 359.35,461.31 359.66,461.21 359.97,461.10 360.28,461.00 360.58,460.90 360.89,460.80 361.20,460.70 361.50,460.60 361.81,460.50 362.12,460.40 362.43,460.30 362.73,460.21 363.04,460.11 363.35,460.02 363.66,459.93 363.96,459.85 364.27,459.76 364.58,459.68 364.88,459.60 365.19,459.51 365.50,459.42 365.81,459.33 366.11,459.24 366.42,459.15 366.73,459.06 367.04,458.98 367.34,458.89 367.65,458.81 367.96,458.73 368.26,458.64 368.57,458.54 368.88,458.45 369.19,458.35 369.49,458.24 369.80,458.14 370.11,458.04 370.42,457.94 370.72,457.85 371.03,457.76 371.34,457.68 371.64,457.60 371.95,457.53 372.26,457.47 372.57,457.42 372.87,457.38 373.18,457.35 373.49,457.34 373.79,457.35 374.10,457.44 374.41,457.59 374.72,457.81 375.02,458.07 375.33,458.38 375.64,458.72 375.95,459.09 376.25,459.47 376.56,459.86 376.87,460.25 377.17,460.62 377.48,460.98 377.79,461.31 378.10,461.60 378.40,461.84 378.71,462.02 379.02,462.15 379.33,462.19 379.63,462.20 379.94,462.22 380.25,462.23 380.55,462.24 380.86,462.25 381.17,462.26 381.48,462.27 381.78,462.27 382.09,462.28 382.40,462.29 382.71,462.30 383.01,462.31 383.32,462.32 383.63,462.32 383.93,462.33 384.24,462.34 384.55,462.34 384.86,462.35 385.16,462.36 385.47,462.36 385.78,462.37 386.08,462.37 386.39,462.38 386.70,462.38 387.01,462.39 387.31,462.39 387.62,462.40 387.93,462.40 388.24,462.40 388.54,462.41 388.85,462.41 389.16,462.41 389.46,462.42 389.77,462.42 390.08,462.42 390.39,462.42 390.69,462.42 391.00,462.43 391.31,462.43 391.62,462.43 391.92,462.43 392.23,462.43 392.54,462.43 392.84,462.43 393.15,462.43 393.46,462.44 393.77,462.44 394.07,462.44 394.38,462.44 394.69,462.43 395.00,462.43 395.30,462.43 395.61,462.43 395.92,462.42 396.22,462.42 396.53,462.41 396.84,462.40 397.15,462.40 397.45,462.39 397.76,462.38 398.07,462.37 398.37,462.36 398.68,462.34 398.99,462.33 399.30,462.32 399.60,462.30 399.91,462.29 400.22,462.28 400.53,462.26 400.83,462.24 401.14,462.23 401.45,462.21 401.75,462.19 402.06,462.17 402.37,462.16 402.68,462.14 402.98,462.12 403.29,462.10 403.60,462.08 403.91,462.06 404.21,462.04 404.52,462.01 404.83,461.99 405.13,461.97 405.44,461.95 405.75,461.93 406.06,461.90 406.36,461.88 406.67,461.86 406.98,461.84 407.29,461.81 407.59,461.79 407.90,461.77 408.21,461.74 408.51,461.72 408.82,461.70 409.13,461.67 409.44,461.65 409.74,461.63 410.05,461.60 410.36,461.58 410.66,461.55 410.97,461.52 411.28,461.48 411.59,461.44 411.89,461.40 412.20,461.36 412.51,461.31 412.82,461.27 413.12,461.22 413.43,461.18 413.74,461.14 414.04,461.10 414.35,461.07 414.66,461.04 414.97,461.01 415.27,460.99 415.58,460.98 415.89,460.98 416.20,460.98 416.50,460.98 416.81,460.99 417.12,460.99 417.42,461.00 417.73,461.01 418.04,461.02 418.35,461.03 418.65,461.04 418.96,461.06 419.27,461.07 419.58,461.08 419.88,461.10 420.19,461.12 420.50,461.13 420.80,461.15 421.11,461.16 421.42,461.18 421.73,461.20 422.03,461.21 422.34,461.23 422.65,461.24 422.95,461.26 423.26,461.27 423.57,461.28 423.88,461.30 424.18,461.31 424.49,461.32 424.80,461.32 425.11,461.33 425.41,461.34 425.72,461.34 426.03,461.34 426.33,461.34 426.64,461.32 426.95,461.27 427.26,461.19 427.56,461.10 427.87,460.98 428.18,460.85 428.49,460.70 428.79,460.55 429.10,460.38 429.41,460.20 429.71,460.01 430.02,459.83 430.33,459.64 430.64,459.44 430.94,459.26 431.25,459.07 431.56,458.90 431.87,458.73 432.17,458.57 432.48,458.42 432.79,458.29 433.09,458.18 433.40,458.09 433.71,458.02 434.02,457.97 434.32,457.94 434.63,457.96 434.94,458.05 435.24,458.20 435.55,458.41 435.86,458.65 436.17,458.93 436.47,459.23 436.78,459.53 437.09,459.84 437.40,460.13 437.70,460.39 438.01,460.62 438.32,460.80 438.62,460.92 438.93,460.98 439.24,460.98 439.55,460.98 439.85,460.98 440.16,460.98 440.47,460.98 440.78,460.98 441.08,460.98 441.39,460.98 441.70,460.98 442.00,460.98 442.31,460.98 442.62,460.98 442.93,460.98 443.23,460.98 443.54,460.98 443.85,460.98 444.15,460.98 444.46,460.98 444.77,460.98 445.08,461.01 445.38,461.09 445.69,461.20 446.00,461.33 446.31,461.49 446.61,461.66 446.92,461.84 447.23,462.02 447.53,462.20 447.84,462.36 448.15,462.51 448.46,462.63 448.76,462.73 449.07,462.79 449.38,462.80 449.69,462.80 449.99,462.80 450.30,462.80" fill="none" stroke="#5a5a5a" stroke-width="1.2" stroke-linejoin="round"/><path d="M524.4,292.6V462.9H770.3M524.4,292.6H529.4M524.4,377.8H529.4M573.6,462.9V457.4M622.8,462.9V457.4M671.9,462.9V457.4M721.1,462.9V457.4M770.3,462.9V457.4" fill="none" stroke="#505050" stroke-width="1.2"/><clipPath id="lf1"><polygon points="524.4,462.9 524.40,462.90 524.71,462.90 525.01,462.90 525.32,462.90 525.63,462.90 525.94,462.90 526.24,462.90 526.55,462.90 526.86,462.90 527.17,462.90 527.47,462.90 527.78,462.90 528.09,462.90 528.40,462.90 528.70,462.90 529.01,462.90 529.32,462.90 529.63,462.90 529.93,462.90 530.24,462.90 530.55,462.90 530.85,462.90 531.16,462.90 531.47,462.90 531.78,462.90 532.08,462.90 532.39,462.90 532.70,462.90 533.01,462.90 533.31,462.90 533.62,462.90 533.93,462.90 534.24,462.90 534.54,462.89 534.85,462.80 535.16,462.63 535.47,462.39 535.77,462.10 536.08,461.77 536.39,461.40 536.69,461.01 537.00,460.60 537.31,460.20 537.62,459.81 537.92,459.44 538.23,459.10 538.54,458.80 538.85,458.57 539.15,458.39 539.46,458.29 539.77,458.31 540.08,458.62 540.38,459.16 540.69,459.81 541.00,460.43 541.31,460.89 541.61,461.08 541.92,460.89 542.23,460.37 542.54,459.57 542.84,458.56 543.15,457.41 543.46,456.17 543.76,454.90 544.07,453.67 544.38,452.55 544.69,451.58 544.99,450.83 545.30,450.37 545.61,450.25 545.92,450.30 546.22,450.41 546.53,450.57 546.84,450.75 547.15,450.93 547.45,451.10 547.76,451.23 548.07,451.32 548.38,451.34 548.68,451.16 548.99,450.77 549.30,450.21 549.60,449.53 549.91,448.76 550.22,447.94 550.53,447.13 550.83,446.35 551.14,445.65 551.45,445.07 551.76,444.65 552.06,444.43 552.37,444.45 552.68,444.70 552.99,445.10 553.29,445.61 553.60,446.16 553.91,446.71 554.22,447.18 554.52,447.53 554.83,447.69 555.14,447.68 555.44,447.61 555.75,447.51 556.06,447.40 556.37,447.27 556.67,447.15 556.98,447.05 557.29,446.98 557.60,446.97 557.90,447.07 558.21,447.32 558.52,447.69 558.83,448.16 559.13,448.72 559.44,449.34 559.75,450.00 560.06,450.69 560.36,451.39 560.67,452.08 560.98,452.73 561.28,453.33 561.59,453.86 561.90,454.30 562.21,454.62 562.51,454.82 562.82,454.87 563.13,454.66 563.44,454.19 563.74,453.51 564.05,452.64 564.36,451.64 564.67,450.54 564.97,449.38 565.28,448.21 565.59,447.06 565.90,445.97 566.20,444.99 566.51,444.16 566.82,443.52 567.13,443.10 567.43,442.95 567.74,443.07 568.05,443.42 568.35,443.96 568.66,444.66 568.97,445.48 569.28,446.39 569.58,447.35 569.89,448.33 570.20,449.30 570.51,450.22 570.81,451.06 571.12,451.79 571.43,452.36 571.74,452.75 572.04,452.92 572.35,452.93 572.66,452.93 572.97,452.93 573.27,452.93 573.58,452.93 573.89,452.93 574.19,452.93 574.50,452.93 574.81,452.95 575.12,453.04 575.42,453.20 575.73,453.41 576.04,453.67 576.35,453.97 576.65,454.30 576.96,454.66 577.27,455.03 577.58,455.41 577.88,455.80 578.19,456.18 578.50,456.55 578.81,456.89 579.11,457.21 579.42,457.50 579.73,457.76 580.03,458.04 580.34,458.34 580.65,458.64 580.96,458.95 581.26,459.24 581.57,459.52 581.88,459.78 582.19,460.01 582.49,460.20 582.80,460.34 583.11,460.43 583.42,460.47 583.72,460.43 584.03,460.32 584.34,460.16 584.65,459.96 584.95,459.73 585.26,459.47 585.57,459.22 585.88,458.97 586.18,458.74 586.49,458.55 586.80,458.40 587.10,458.30 587.41,458.28 587.72,458.33 588.03,458.45 588.33,458.62 588.64,458.83 588.95,459.07 589.26,459.32 589.56,459.58 589.87,459.82 590.18,460.04 590.49,460.23 590.79,460.37 591.10,460.45 591.41,460.46 591.72,460.37 592.02,460.20 592.33,459.96 592.64,459.67 592.94,459.35 593.25,459.01 593.56,458.67 593.87,458.35 594.17,458.06 594.48,457.82 594.79,457.64 595.10,457.56 595.40,457.55 595.71,457.55 596.02,457.55 596.33,457.55 596.63,457.55 596.94,457.55 597.25,457.55 597.56,457.55 597.86,457.54 598.17,457.47 598.2,462.9"/></clipPath><polygon points="524.4,462.9 524.40,462.90 524.71,462.90 525.01,462.90 525.32,462.90 525.63,462.90 525.94,462.90 526.24,462.90 526.55,462.90 526.86,462.90 527.17,462.90 527.47,462.90 527.78,462.90 528.09,462.90 528.40,462.90 528.70,462.90 529.01,462.90 529.32,462.90 529.63,462.90 529.93,462.90 530.24,462.90 530.55,462.90 530.85,462.90 531.16,462.90 531.47,462.90 531.78,462.90 532.08,462.90 532.39,462.90 532.70,462.90 533.01,462.90 533.31,462.90 533.62,462.90 533.93,462.90 534.24,462.90 534.54,462.89 534.85,462.80 535.16,462.63 535.47,462.39 535.77,462.10 536.08,461.77 536.39,461.40 536.69,461.01 537.00,460.60 537.31,460.20 537.62,459.81 537.92,459.44 538.23,459.10 538.54,458.80 538.85,458.57 539.15,458.39 539.46,458.29 539.77,458.31 540.08,458.62 540.38,459.16 540.69,459.81 541.00,460.43 541.31,460.89 541.61,461.08 541.92,460.89 542.23,460.37 542.54,459.57 542.84,458.56 543.15,457.41 543.46,456.17 543.76,454.90 544.07,453.67 544.38,452.55 544.69,451.58 544.99,450.83 545.30,450.37 545.61,450.25 545.92,450.30 546.22,450.41 546.53,450.57 546.84,450.75 547.15,450.93 547.45,451.10 547.76,451.23 548.07,451.32 548.38,451.34 548.68,451.16 548.99,450.77 549.30,450.21 549.60,449.53 549.91,448.76 550.22,447.94 550.53,447.13 550.83,446.35 551.14,445.65 551.45,445.07 551.76,444.65 552.06,444.43 552.37,444.45 552.68,444.70 552.99,445.10 553.29,445.61 553.60,446.16 553.91,446.71 554.22,447.18 554.52,447.53 554.83,447.69 555.14,447.68 555.44,447.61 555.75,447.51 556.06,447.40 556.37,447.27 556.67,447.15 556.98,447.05 557.29,446.98 557.60,446.97 557.90,447.07 558.21,447.32 558.52,447.69 558.83,448.16 559.13,448.72 559.44,449.34 559.75,450.00 560.06,450.69 560.36,451.39 560.67,452.08 560.98,452.73 561.28,453.33 561.59,453.86 561.90,454.30 562.21,454.62 562.51,454.82 562.82,454.87 563.13,454.66 563.44,454.19 563.74,453.51 564.05,452.64 564.36,451.64 564.67,450.54 564.97,449.38 565.28,448.21 565.59,447.06 565.90,445.97 566.20,444.99 566.51,444.16 566.82,443.52 567.13,443.10 567.43,442.95 567.74,443.07 568.05,443.42 568.35,443.96 568.66,444.66 568.97,445.48 569.28,446.39 569.58,447.35 569.89,448.33 570.20,449.30 570.51,450.22 570.81,451.06 571.12,451.79 571.43,452.36 571.74,452.75 572.04,452.92 572.35,452.93 572.66,452.93 572.97,452.93 573.27,452.93 573.58,452.93 573.89,452.93 574.19,452.93 574.50,452.93 574.81,452.95 575.12,453.04 575.42,453.20 575.73,453.41 576.04,453.67 576.35,453.97 576.65,454.30 576.96,454.66 577.27,455.03 577.58,455.41 577.88,455.80 578.19,456.18 578.50,456.55 578.81,456.89 579.11,457.21 579.42,457.50 579.73,457.76 580.03,458.04 580.34,458.34 580.65,458.64 580.96,458.95 581.26,459.24 581.57,459.52 581.88,459.78 582.19,460.01 582.49,460.20 582.80,460.34 583.11,460.43 583.42,460.47 583.72,460.43 584.03,460.32 584.34,460.16 584.65,459.96 584.95,459.73 585.26,459.47 585.57,459.22 585.88,458.97 586.18,458.74 586.49,458.55 586.80,458.40 587.10,458.30 587.41,458.28 587.72,458.33 588.03,458.45 588.33,458.62 588.64,458.83 588.95,459.07 589.26,459.32 589.56,459.58 589.87,459.82 590.18,460.04 590.49,460.23 590.79,460.37 591.10,460.45 591.41,460.46 591.72,460.37 592.02,460.20 592.33,459.96 592.64,459.67 592.94,459.35 593.25,459.01 593.56,458.67 593.87,458.35 594.17,458.06 594.48,457.82 594.79,457.64 595.10,457.56 595.40,457.55 595.71,457.55 596.02,457.55 596.33,457.55 596.63,457.55 596.94,457.55 597.25,457.55 597.56,457.55 597.86,457.54 598.17,457.47 598.2,462.9" fill="#111" stroke="#111" stroke-width="0.6"/><path d="M527.4,219.6V462.1M531.1,219.6V462.1M534.8,219.6V462.1M538.5,219.6V462.1M542.2,219.6V462.1M545.9,219.6V462.1M549.6,219.6V462.1M553.3,219.6V462.1M557.0,219.6V462.1M560.7,219.6V462.1M564.4,219.6V462.1M568.1,219.6V462.1M571.8,219.6V462.1M575.5,219.6V462.1M579.2,219.6V462.1M582.9,219.6V462.1M586.6,219.6V462.1M590.3,219.6V462.1M594.0,219.6V462.1" stroke="#c8c8c8" stroke-width="0.9" clip-path="url(#lf1)"/><polyline points="524.40,462.90 524.71,462.90 525.01,462.90 525.32,462.90 525.63,462.90 525.94,462.90 526.24,462.90 526.55,462.90 526.86,462.90 527.17,462.90 527.47,462.90 527.78,462.90 528.09,462.90 528.40,462.90 528.70,462.90 529.01,462.90 529.32,462.90 529.63,462.90 529.93,462.90 530.24,462.90 530.55,462.90 530.85,462.90 531.16,462.90 531.47,462.90 531.78,462.90 532.08,462.90 532.39,462.90 532.70,462.90 533.01,462.90 533.31,462.90 533.62,462.90 533.93,462.90 534.24,462.90 534.54,462.89 534.85,462.80 535.16,462.63 535.47,462.39 535.77,462.10 536.08,461.77 536.39,461.40 536.69,461.01 537.00,460.60 537.31,460.20 537.62,459.81 537.92,459.44 538.23,459.10 538.54,458.80 538.85,458.57 539.15,458.39 539.46,458.29 539.77,458.31 540.08,458.62 540.38,459.16 540.69,459.81 541.00,460.43 541.31,460.89 541.61,461.08 541.92,460.89 542.23,460.37 542.54,459.57 542.84,458.56 543.15,457.41 543.46,456.17 543.76,454.90 544.07,453.67 544.38,452.55 544.69,451.58 544.99,450.83 545.30,450.37 545.61,450.25 545.92,450.30 546.22,450.41 546.53,450.57 546.84,450.75 547.15,450.93 547.45,451.10 547.76,451.23 548.07,451.32 548.38,451.34 548.68,451.16 548.99,450.77 549.30,450.21 549.60,449.53 549.91,448.76 550.22,447.94 550.53,447.13 550.83,446.35 551.14,445.65 551.45,445.07 551.76,444.65 552.06,444.43 552.37,444.45 552.68,444.70 552.99,445.10 553.29,445.61 553.60,446.16 553.91,446.71 554.22,447.18 554.52,447.53 554.83,447.69 555.14,447.68 555.44,447.61 555.75,447.51 556.06,447.40 556.37,447.27 556.67,447.15 556.98,447.05 557.29,446.98 557.60,446.97 557.90,447.07 558.21,447.32 558.52,447.69 558.83,448.16 559.13,448.72 559.44,449.34 559.75,450.00 560.06,450.69 560.36,451.39 560.67,452.08 560.98,452.73 561.28,453.33 561.59,453.86 561.90,454.30 562.21,454.62 562.51,454.82 562.82,454.87 563.13,454.66 563.44,454.19 563.74,453.51 564.05,452.64 564.36,451.64 564.67,450.54 564.97,449.38 565.28,448.21 565.59,447.06 565.90,445.97 566.20,444.99 566.51,444.16 566.82,443.52 567.13,443.10 567.43,442.95 567.74,443.07 568.05,443.42 568.35,443.96 568.66,444.66 568.97,445.48 569.28,446.39 569.58,447.35 569.89,448.33 570.20,449.30 570.51,450.22 570.81,451.06 571.12,451.79 571.43,452.36 571.74,452.75 572.04,452.92 572.35,452.93 572.66,452.93 572.97,452.93 573.27,452.93 573.58,452.93 573.89,452.93 574.19,452.93 574.50,452.93 574.81,452.95 575.12,453.04 575.42,453.20 575.73,453.41 576.04,453.67 576.35,453.97 576.65,454.30 576.96,454.66 577.27,455.03 577.58,455.41 577.88,455.80 578.19,456.18 578.50,456.55 578.81,456.89 579.11,457.21 579.42,457.50 579.73,457.76 580.03,458.04 580.34,458.34 580.65,458.64 580.96,458.95 581.26,459.24 581.57,459.52 581.88,459.78 582.19,460.01 582.49,460.20 582.80,460.34 583.11,460.43 583.42,460.47 583.72,460.43 584.03,460.32 584.34,460.16 584.65,459.96 584.95,459.73 585.26,459.47 585.57,459.22 585.88,458.97 586.18,458.74 586.49,458.55 586.80,458.40 587.10,458.30 587.41,458.28 587.72,458.33 588.03,458.45 588.33,458.62 588.64,458.83 588.95,459.07 589.26,459.32 589.56,459.58 589.87,459.82 590.18,460.04 590.49,460.23 590.79,460.37 591.10,460.45 591.41,460.46 591.72,460.37 592.02,460.20 592.33,459.96 592.64,459.67 592.94,459.35 593.25,459.01 593.56,458.67 593.87,458.35 594.17,458.06 594.48,457.82 594.79,457.64 595.10,457.56 595.40,457.55 595.71,457.55 596.02,457.55 596.33,457.55 596.63,457.55 596.94,457.55 597.25,457.55 597.56,457.55 597.86,457.54 598.17,457.47 598.48,457.36 598.78,457.22 599.09,457.06 599.40,456.88 599.71,456.70 600.01,456.54 600.32,456.39 600.63,456.28 600.94,456.22 601.24,456.22 601.55,456.27 601.86,456.39 602.17,456.56 602.47,456.77 602.78,457.03 603.09,457.31 603.40,457.62 603.70,457.95 604.01,458.30 604.32,458.65 604.62,458.99 604.93,459.34 605.24,459.66 605.55,459.97 605.85,460.25 606.16,460.50 606.47,460.70 606.78,460.86 607.08,460.97 607.39,461.06 607.70,461.14 608.01,461.22 608.31,461.29 608.62,461.36 608.93,461.42 609.24,461.48 609.54,461.54 609.85,461.60 610.16,461.65 610.46,461.69 610.77,461.74 611.08,461.78 611.39,461.82 611.69,461.85 612.00,461.88 612.31,461.92 612.62,461.94 612.92,461.97 613.23,462.00 613.54,462.03 613.85,462.06 614.15,462.08 614.46,462.11 614.77,462.13 615.08,462.16 615.38,462.18 615.69,462.20 616.00,462.22 616.31,462.23 616.61,462.25 616.92,462.26 617.23,462.27 617.53,462.28 617.84,462.29 618.15,462.29 618.46,462.28 618.76,462.19 619.07,461.99 619.38,461.73 619.69,461.40 619.99,461.02 620.30,460.62 620.61,460.20 620.92,459.79 621.22,459.39 621.53,459.03 621.84,458.73 622.15,458.49 622.45,458.33 622.76,458.28 623.07,458.30 623.37,458.35 623.68,458.42 623.99,458.51 624.30,458.60 624.60,458.69 624.91,458.78 625.22,458.84 625.53,458.88 625.83,458.88 626.14,458.82 626.45,458.71 626.76,458.53 627.06,458.29 627.37,458.00 627.68,457.65 627.99,457.25 628.29,456.80 628.60,456.31 628.91,455.76 629.21,455.17 629.52,454.53 629.83,453.75 630.14,452.40 630.44,450.50 630.75,448.08 631.06,445.18 631.37,441.86 631.67,438.15 631.98,434.09 632.29,429.74 632.60,424.06 632.90,415.56 633.21,405.52 633.52,395.28 633.83,386.18 634.13,379.04 634.44,371.85 634.75,364.62 635.05,357.76 635.36,351.70 635.67,346.85 635.98,343.64 636.28,342.47 636.59,342.96 636.90,344.31 637.21,346.34 637.51,348.86 637.82,351.70 638.13,354.67 638.44,357.85 638.74,362.03 639.05,367.03 639.36,372.53 639.67,378.21 639.97,383.77 640.28,388.89 640.59,393.85 640.90,398.97 641.20,404.15 641.51,409.27 641.82,414.21 642.12,418.87 642.43,423.13 642.74,426.88 643.05,430.05 643.35,432.94 643.66,435.65 643.97,438.18 644.28,440.54 644.58,442.72 644.89,444.74 645.20,446.59 645.51,448.28 645.81,449.85 646.12,451.45 646.43,453.06 646.74,454.63 647.04,456.11 647.35,457.47 647.66,458.67 647.96,459.66 648.27,460.40 648.58,460.84 648.89,460.95 649.19,460.82 649.50,460.56 649.81,460.24 650.12,459.92 650.42,459.53 650.73,459.05 651.04,458.49 651.35,457.88 651.65,457.22 651.96,456.54 652.27,455.86 652.58,455.20 652.88,454.57 653.19,453.99 653.50,453.49 653.80,453.07 654.11,452.77 654.42,452.60 654.73,452.57 655.03,452.76 655.34,453.15 655.65,453.71 655.96,454.39 656.26,455.16 656.57,455.98 656.88,456.81 657.19,457.62 657.49,458.36 657.80,459.01 658.11,459.52 658.42,459.86 658.72,459.99 659.03,460.05 659.34,460.10 659.64,460.14 659.95,460.17 660.26,460.20 660.57,460.22 660.87,460.22 661.18,460.20 661.49,460.11 661.80,459.98 662.10,459.80 662.41,459.59 662.72,459.36 663.03,459.12 663.33,458.89 663.64,458.67 663.95,458.48 664.26,458.32 664.56,458.21 664.87,458.16 665.18,458.17 665.49,458.26 665.79,458.40 666.10,458.60 666.41,458.84 666.71,459.11 667.02,459.42 667.33,459.74 667.64,460.08 667.94,460.42 668.25,460.77 668.56,461.09 668.87,461.40 669.17,461.69 669.48,461.94 669.79,462.15 670.10,462.30 670.40,462.44 670.71,462.58 671.02,462.70 671.33,462.80 671.63,462.87 671.94,462.90 672.25,462.88 672.55,462.81 672.86,462.70 673.17,462.55 673.48,462.38 673.78,462.19 674.09,461.99 674.40,461.78 674.71,461.56 675.01,461.35 675.32,461.15 675.63,460.96 675.94,460.80 676.24,460.66 676.55,460.56 676.86,460.47 677.17,460.38 677.47,460.29 677.78,460.20 678.09,460.12 678.39,460.04 678.70,459.98 679.01,459.93 679.32,459.89 679.62,459.86 679.93,459.86 680.24,459.88 680.55,459.93 680.85,459.99 681.16,460.07 681.47,460.17 681.78,460.28 682.08,460.38 682.39,460.49 682.70,460.60 683.01,460.70 683.31,460.79 683.62,460.86 683.93,460.92 684.23,460.95 684.54,460.95 684.85,460.92 685.16,460.84 685.46,460.74 685.77,460.60 686.08,460.44 686.39,460.26 686.69,460.06 687.00,459.85 687.31,459.62 687.62,459.39 687.92,459.15 688.23,458.92 688.54,458.69 688.85,458.46 689.15,458.25 689.46,458.06 689.77,457.88 690.08,457.73 690.38,457.60 690.69,457.51 691.00,457.45 691.30,457.43 691.61,457.45 691.92,457.52 692.23,457.63 692.53,457.78 692.84,457.96 693.15,458.17 693.46,458.40 693.76,458.66 694.07,458.92 694.38,459.20 694.69,459.49 694.99,459.77 695.30,460.05 695.61,460.33 695.92,460.59 696.22,460.83 696.53,461.05 696.84,461.25 697.14,461.41 697.45,461.54 697.76,461.63 698.07,461.68 698.37,461.67 698.68,461.58 698.99,461.41 699.30,461.17 699.60,460.87 699.91,460.53 700.22,460.15 700.53,459.74 700.83,459.32 701.14,458.89 701.45,458.46 701.76,458.04 702.06,457.65 702.37,457.29 702.68,456.97 702.98,456.71 703.29,456.50 703.60,456.38 703.91,456.33 704.21,456.34 704.52,456.35 704.83,456.38 705.14,456.41 705.44,456.45 705.75,456.50 706.06,456.55 706.37,456.61 706.67,456.67 706.98,456.73 707.29,456.80 707.60,456.90 707.90,457.05 708.21,457.25 708.52,457.51 708.82,457.79 709.13,458.11 709.44,458.44 709.75,458.79 710.05,459.13 710.36,459.47 710.67,459.80 710.98,460.10 711.28,460.37 711.59,460.60 711.90,460.78 712.21,460.90 712.51,460.95 712.82,460.97 713.13,460.99 713.44,461.00 713.74,461.01 714.05,461.02 714.36,461.03 714.67,461.04 714.97,461.05 715.28,461.05 715.59,461.06 715.89,461.07 716.20,461.07 716.51,461.07 716.82,461.08 717.12,461.08 717.43,461.09 717.74,461.09 718.05,461.10 718.35,461.10 718.66,461.11 718.97,461.11 719.28,461.12 719.58,461.13 719.89,461.14 720.20,461.15 720.51,461.17 720.81,461.18 721.12,461.20 721.43,461.23 721.73,461.29 722.04,461.37 722.35,461.47 722.66,461.59 722.96,461.71 723.27,461.84 723.58,461.97 723.89,462.10 724.19,462.22 724.50,462.32 724.81,462.41 725.12,462.48 725.42,462.52 725.73,462.53 726.04,462.53 726.35,462.51 726.65,462.48 726.96,462.43 727.27,462.38 727.57,462.32 727.88,462.26 728.19,462.18 728.50,462.10 728.80,462.02 729.11,461.93 729.42,461.84 729.73,461.74 730.03,461.64 730.34,461.55 730.65,461.45 730.96,461.35 731.26,461.26 731.57,461.17 731.88,461.08 732.19,460.99 732.49,460.92 732.80,460.84 733.11,460.78 733.41,460.72 733.72,460.67 734.03,460.64 734.34,460.61 734.64,460.59 734.95,460.59 735.26,460.60 735.57,460.64 735.87,460.70 736.18,460.77 736.49,460.85 736.80,460.95 737.10,461.06 737.41,461.18 737.72,461.30 738.03,461.43 738.33,461.56 738.64,461.69 738.95,461.82 739.26,461.94 739.56,462.06 739.87,462.17 740.18,462.27 740.48,462.36 740.79,462.43 741.10,462.48 741.41,462.52 741.71,462.53 742.02,462.54 742.33,462.54 742.64,462.54 742.94,462.54 743.25,462.54 743.56,462.54 743.87,462.54 744.17,462.54 744.48,462.54 744.79,462.54 745.10,462.54 745.40,462.54 745.71,462.54 746.02,462.50 746.32,462.31 746.63,461.99 746.94,461.57 747.25,461.05 747.55,460.48 747.86,459.86 748.17,459.23 748.48,458.61 748.78,458.02 749.09,457.48 749.40,457.02 749.71,456.66 750.01,456.42 750.32,456.33 750.63,456.37 750.94,456.49 751.24,456.67 751.55,456.92 751.86,457.22 752.16,457.57 752.47,457.95 752.78,458.36 753.09,458.79 753.39,459.24 753.70,459.68 754.01,460.13 754.32,460.56 754.62,460.96 754.93,461.34 755.24,461.68 755.55,461.98 755.85,462.22 756.16,462.40 756.47,462.51 756.78,462.54 757.08,462.54 757.39,462.54 757.70,462.54 758.00,462.54 758.31,462.54 758.62,462.54 758.93,462.54 759.23,462.54 759.54,462.54 759.85,462.54 760.16,462.54 760.46,462.54 760.77,462.54 761.08,462.54 761.39,462.54 761.69,462.54 762.00,462.54 762.31,462.54 762.62,462.54 762.92,462.54 763.23,462.54 763.54,462.54 763.85,462.54 764.15,462.54 764.46,462.54 764.77,462.53 765.07,462.51 765.38,462.45 765.69,462.38 766.00,462.28 766.30,462.16 766.61,462.04 766.92,461.90 767.23,461.77 767.53,461.64 767.84,461.52 768.15,461.41 768.46,461.32 768.76,461.25 769.07,461.21 769.38,461.20 769.69,461.30 769.99,461.48 770.30,461.68" fill="none" stroke="#5a5a5a" stroke-width="1.2" stroke-linejoin="round"/><path d="M844.6,292.4V463.0H1090.8M844.6,292.4H849.6M844.6,377.7H849.6M893.8,463.0V457.5M943.1,463.0V457.5M992.3,463.0V457.5M1041.6,463.0V457.5M1090.8,463.0V457.5" fill="none" stroke="#505050" stroke-width="1.2"/><clipPath id="lf2"><polygon points="844.6,463.0 844.60,463.00 844.91,463.00 845.22,463.00 845.52,463.00 845.83,463.00 846.14,463.00 846.45,463.00 846.75,463.00 847.06,463.00 847.37,463.00 847.68,463.00 847.99,463.00 848.29,463.00 848.60,463.00 848.91,463.00 849.22,463.00 849.52,463.00 849.83,463.00 850.14,463.00 850.45,463.00 850.75,463.00 851.06,463.00 851.37,463.00 851.68,463.00 851.99,463.00 852.29,463.00 852.60,463.00 852.91,463.00 853.22,463.00 853.52,463.00 853.83,463.00 854.14,463.00 854.45,463.00 854.76,463.00 855.06,463.00 855.37,463.00 855.68,463.00 855.99,463.00 856.29,463.00 856.60,463.00 856.91,463.00 857.22,463.00 857.53,463.00 857.83,463.00 858.14,463.00 858.45,463.00 858.76,463.00 859.06,463.00 859.37,463.00 859.68,462.99 859.99,462.94 860.30,462.88 860.60,462.80 860.91,462.70 861.22,462.60 861.53,462.50 861.83,462.39 862.14,462.28 862.45,462.17 862.76,462.05 863.07,461.92 863.37,461.77 863.68,461.61 863.99,461.44 864.30,461.24 864.60,461.03 864.91,460.79 865.22,460.53 865.53,460.16 865.83,459.67 866.14,459.06 866.45,458.38 866.76,457.64 867.07,456.87 867.37,456.11 867.68,455.36 867.99,454.68 868.30,454.01 868.60,453.24 868.91,452.43 869.22,451.64 869.53,450.93 869.84,450.37 870.14,450.03 870.45,449.97 870.76,450.18 871.07,450.59 871.37,451.17 871.68,451.87 871.99,452.65 872.30,453.46 872.61,454.25 872.91,454.99 873.22,455.62 873.53,456.18 873.84,456.77 874.14,457.37 874.45,457.97 874.76,458.56 875.07,459.13 875.38,459.66 875.68,460.14 875.99,460.55 876.30,460.89 876.61,461.14 876.91,461.33 877.22,461.50 877.53,461.67 877.84,461.82 878.14,461.95 878.45,462.07 878.76,462.16 879.07,462.23 879.38,462.26 879.68,462.26 879.99,462.21 880.30,462.12 880.61,461.98 880.91,461.81 881.22,461.63 881.53,461.43 881.84,461.24 882.15,461.05 882.45,460.88 882.76,460.74 883.07,460.63 883.38,460.57 883.68,460.57 883.99,460.60 884.30,460.66 884.61,460.74 884.92,460.84 885.22,460.96 885.53,461.09 885.84,461.23 886.15,461.37 886.45,461.51 886.76,461.64 887.07,461.76 887.38,461.86 887.69,461.95 887.99,462.01 888.30,462.04 888.61,462.08 888.92,462.11 889.22,462.14 889.53,462.17 889.84,462.20 890.15,462.22 890.45,462.24 890.76,462.25 891.07,462.26 891.38,462.27 891.69,462.26 891.99,462.23 892.30,462.17 892.61,462.09 892.92,461.98 893.22,461.86 893.53,461.72 893.84,461.58 894.15,461.42 894.46,461.27 894.76,461.11 895.07,460.96 895.38,460.82 895.69,460.69 895.99,460.57 896.30,460.47 896.61,460.39 896.92,460.34 897.23,460.32 897.53,460.33 897.84,460.37 898.15,460.45 898.46,460.54 898.76,460.66 899.07,460.79 899.38,460.93 899.69,461.07 900.00,461.21 900.30,461.35 900.61,461.48 900.92,461.59 901.23,461.69 901.53,461.75 901.84,461.80 902.15,461.83 902.46,461.86 902.76,461.89 903.07,461.91 903.38,461.94 903.69,461.96 904.00,461.98 904.30,462.00 904.61,462.01 904.92,462.03 905.23,462.04 905.53,462.05 905.84,462.07 906.15,462.08 906.46,462.09 906.77,462.10 907.07,462.12 907.38,462.13 907.69,462.14 908.00,462.16 908.30,462.17 908.61,462.19 908.92,462.21 909.23,462.23 909.54,462.25 909.84,462.27 910.15,462.30 910.46,462.33 910.77,462.36 911.07,462.39 911.38,462.44 911.69,462.53 912.00,462.63 912.31,462.73 912.61,462.83 912.92,462.92 913.23,462.98 913.54,463.00 913.84,463.00 914.15,463.00 914.46,463.00 914.77,463.00 915.07,463.00 915.38,463.00 915.69,463.00 916.00,463.00 916.31,462.99 916.61,462.99 916.92,462.99 917.23,462.99 917.54,462.99 917.84,462.99 918.15,462.99 918.46,462.98 918.5,463.0"/></clipPath><polygon points="844.6,463.0 844.60,463.00 844.91,463.00 845.22,463.00 845.52,463.00 845.83,463.00 846.14,463.00 846.45,463.00 846.75,463.00 847.06,463.00 847.37,463.00 847.68,463.00 847.99,463.00 848.29,463.00 848.60,463.00 848.91,463.00 849.22,463.00 849.52,463.00 849.83,463.00 850.14,463.00 850.45,463.00 850.75,463.00 851.06,463.00 851.37,463.00 851.68,463.00 851.99,463.00 852.29,463.00 852.60,463.00 852.91,463.00 853.22,463.00 853.52,463.00 853.83,463.00 854.14,463.00 854.45,463.00 854.76,463.00 855.06,463.00 855.37,463.00 855.68,463.00 855.99,463.00 856.29,463.00 856.60,463.00 856.91,463.00 857.22,463.00 857.53,463.00 857.83,463.00 858.14,463.00 858.45,463.00 858.76,463.00 859.06,463.00 859.37,463.00 859.68,462.99 859.99,462.94 860.30,462.88 860.60,462.80 860.91,462.70 861.22,462.60 861.53,462.50 861.83,462.39 862.14,462.28 862.45,462.17 862.76,462.05 863.07,461.92 863.37,461.77 863.68,461.61 863.99,461.44 864.30,461.24 864.60,461.03 864.91,460.79 865.22,460.53 865.53,460.16 865.83,459.67 866.14,459.06 866.45,458.38 866.76,457.64 867.07,456.87 867.37,456.11 867.68,455.36 867.99,454.68 868.30,454.01 868.60,453.24 868.91,452.43 869.22,451.64 869.53,450.93 869.84,450.37 870.14,450.03 870.45,449.97 870.76,450.18 871.07,450.59 871.37,451.17 871.68,451.87 871.99,452.65 872.30,453.46 872.61,454.25 872.91,454.99 873.22,455.62 873.53,456.18 873.84,456.77 874.14,457.37 874.45,457.97 874.76,458.56 875.07,459.13 875.38,459.66 875.68,460.14 875.99,460.55 876.30,460.89 876.61,461.14 876.91,461.33 877.22,461.50 877.53,461.67 877.84,461.82 878.14,461.95 878.45,462.07 878.76,462.16 879.07,462.23 879.38,462.26 879.68,462.26 879.99,462.21 880.30,462.12 880.61,461.98 880.91,461.81 881.22,461.63 881.53,461.43 881.84,461.24 882.15,461.05 882.45,460.88 882.76,460.74 883.07,460.63 883.38,460.57 883.68,460.57 883.99,460.60 884.30,460.66 884.61,460.74 884.92,460.84 885.22,460.96 885.53,461.09 885.84,461.23 886.15,461.37 886.45,461.51 886.76,461.64 887.07,461.76 887.38,461.86 887.69,461.95 887.99,462.01 888.30,462.04 888.61,462.08 888.92,462.11 889.22,462.14 889.53,462.17 889.84,462.20 890.15,462.22 890.45,462.24 890.76,462.25 891.07,462.26 891.38,462.27 891.69,462.26 891.99,462.23 892.30,462.17 892.61,462.09 892.92,461.98 893.22,461.86 893.53,461.72 893.84,461.58 894.15,461.42 894.46,461.27 894.76,461.11 895.07,460.96 895.38,460.82 895.69,460.69 895.99,460.57 896.30,460.47 896.61,460.39 896.92,460.34 897.23,460.32 897.53,460.33 897.84,460.37 898.15,460.45 898.46,460.54 898.76,460.66 899.07,460.79 899.38,460.93 899.69,461.07 900.00,461.21 900.30,461.35 900.61,461.48 900.92,461.59 901.23,461.69 901.53,461.75 901.84,461.80 902.15,461.83 902.46,461.86 902.76,461.89 903.07,461.91 903.38,461.94 903.69,461.96 904.00,461.98 904.30,462.00 904.61,462.01 904.92,462.03 905.23,462.04 905.53,462.05 905.84,462.07 906.15,462.08 906.46,462.09 906.77,462.10 907.07,462.12 907.38,462.13 907.69,462.14 908.00,462.16 908.30,462.17 908.61,462.19 908.92,462.21 909.23,462.23 909.54,462.25 909.84,462.27 910.15,462.30 910.46,462.33 910.77,462.36 911.07,462.39 911.38,462.44 911.69,462.53 912.00,462.63 912.31,462.73 912.61,462.83 912.92,462.92 913.23,462.98 913.54,463.00 913.84,463.00 914.15,463.00 914.46,463.00 914.77,463.00 915.07,463.00 915.38,463.00 915.69,463.00 916.00,463.00 916.31,462.99 916.61,462.99 916.92,462.99 917.23,462.99 917.54,462.99 917.84,462.99 918.15,462.99 918.46,462.98 918.5,463.0" fill="#111" stroke="#111" stroke-width="0.6"/><path d="M847.6,219.3V462.2M851.3,219.3V462.2M855.0,219.3V462.2M858.7,219.3V462.2M862.4,219.3V462.2M866.1,219.3V462.2M869.8,219.3V462.2M873.5,219.3V462.2M877.2,219.3V462.2M880.9,219.3V462.2M884.6,219.3V462.2M888.3,219.3V462.2M892.0,219.3V462.2M895.7,219.3V462.2M899.4,219.3V462.2M903.1,219.3V462.2M906.8,219.3V462.2M910.5,219.3V462.2M914.2,219.3V462.2M917.9,219.3V462.2" stroke="#c8c8c8" stroke-width="0.9" clip-path="url(#lf2)"/><polyline points="844.60,463.00 844.91,463.00 845.22,463.00 845.52,463.00 845.83,463.00 846.14,463.00 846.45,463.00 846.75,463.00 847.06,463.00 847.37,463.00 847.68,463.00 847.99,463.00 848.29,463.00 848.60,463.00 848.91,463.00 849.22,463.00 849.52,463.00 849.83,463.00 850.14,463.00 850.45,463.00 850.75,463.00 851.06,463.00 851.37,463.00 851.68,463.00 851.99,463.00 852.29,463.00 852.60,463.00 852.91,463.00 853.22,463.00 853.52,463.00 853.83,463.00 854.14,463.00 854.45,463.00 854.76,463.00 855.06,463.00 855.37,463.00 855.68,463.00 855.99,463.00 856.29,463.00 856.60,463.00 856.91,463.00 857.22,463.00 857.53,463.00 857.83,463.00 858.14,463.00 858.45,463.00 858.76,463.00 859.06,463.00 859.37,463.00 859.68,462.99 859.99,462.94 860.30,462.88 860.60,462.80 860.91,462.70 861.22,462.60 861.53,462.50 861.83,462.39 862.14,462.28 862.45,462.17 862.76,462.05 863.07,461.92 863.37,461.77 863.68,461.61 863.99,461.44 864.30,461.24 864.60,461.03 864.91,460.79 865.22,460.53 865.53,460.16 865.83,459.67 866.14,459.06 866.45,458.38 866.76,457.64 867.07,456.87 867.37,456.11 867.68,455.36 867.99,454.68 868.30,454.01 868.60,453.24 868.91,452.43 869.22,451.64 869.53,450.93 869.84,450.37 870.14,450.03 870.45,449.97 870.76,450.18 871.07,450.59 871.37,451.17 871.68,451.87 871.99,452.65 872.30,453.46 872.61,454.25 872.91,454.99 873.22,455.62 873.53,456.18 873.84,456.77 874.14,457.37 874.45,457.97 874.76,458.56 875.07,459.13 875.38,459.66 875.68,460.14 875.99,460.55 876.30,460.89 876.61,461.14 876.91,461.33 877.22,461.50 877.53,461.67 877.84,461.82 878.14,461.95 878.45,462.07 878.76,462.16 879.07,462.23 879.38,462.26 879.68,462.26 879.99,462.21 880.30,462.12 880.61,461.98 880.91,461.81 881.22,461.63 881.53,461.43 881.84,461.24 882.15,461.05 882.45,460.88 882.76,460.74 883.07,460.63 883.38,460.57 883.68,460.57 883.99,460.60 884.30,460.66 884.61,460.74 884.92,460.84 885.22,460.96 885.53,461.09 885.84,461.23 886.15,461.37 886.45,461.51 886.76,461.64 887.07,461.76 887.38,461.86 887.69,461.95 887.99,462.01 888.30,462.04 888.61,462.08 888.92,462.11 889.22,462.14 889.53,462.17 889.84,462.20 890.15,462.22 890.45,462.24 890.76,462.25 891.07,462.26 891.38,462.27 891.69,462.26 891.99,462.23 892.30,462.17 892.61,462.09 892.92,461.98 893.22,461.86 893.53,461.72 893.84,461.58 894.15,461.42 894.46,461.27 894.76,461.11 895.07,460.96 895.38,460.82 895.69,460.69 895.99,460.57 896.30,460.47 896.61,460.39 896.92,460.34 897.23,460.32 897.53,460.33 897.84,460.37 898.15,460.45 898.46,460.54 898.76,460.66 899.07,460.79 899.38,460.93 899.69,461.07 900.00,461.21 900.30,461.35 900.61,461.48 900.92,461.59 901.23,461.69 901.53,461.75 901.84,461.80 902.15,461.83 902.46,461.86 902.76,461.89 903.07,461.91 903.38,461.94 903.69,461.96 904.00,461.98 904.30,462.00 904.61,462.01 904.92,462.03 905.23,462.04 905.53,462.05 905.84,462.07 906.15,462.08 906.46,462.09 906.77,462.10 907.07,462.12 907.38,462.13 907.69,462.14 908.00,462.16 908.30,462.17 908.61,462.19 908.92,462.21 909.23,462.23 909.54,462.25 909.84,462.27 910.15,462.30 910.46,462.33 910.77,462.36 911.07,462.39 911.38,462.44 911.69,462.53 912.00,462.63 912.31,462.73 912.61,462.83 912.92,462.92 913.23,462.98 913.54,463.00 913.84,463.00 914.15,463.00 914.46,463.00 914.77,463.00 915.07,463.00 915.38,463.00 915.69,463.00 916.00,463.00 916.31,462.99 916.61,462.99 916.92,462.99 917.23,462.99 917.54,462.99 917.84,462.99 918.15,462.99 918.46,462.98 918.77,462.98 919.08,462.98 919.38,462.98 919.69,462.97 920.00,462.97 920.31,462.97 920.61,462.97 920.92,462.96 921.23,462.96 921.54,462.96 921.85,462.95 922.15,462.95 922.46,462.94 922.77,462.94 923.08,462.94 923.38,462.93 923.69,462.93 924.00,462.92 924.31,462.92 924.62,462.91 924.92,462.91 925.23,462.90 925.54,462.90 925.85,462.89 926.15,462.89 926.46,462.88 926.77,462.87 927.08,462.87 927.38,462.86 927.69,462.85 928.00,462.85 928.31,462.84 928.62,462.83 928.92,462.83 929.23,462.82 929.54,462.81 929.85,462.80 930.15,462.80 930.46,462.79 930.77,462.78 931.08,462.77 931.39,462.76 931.69,462.75 932.00,462.74 932.31,462.71 932.62,462.67 932.92,462.63 933.23,462.58 933.54,462.53 933.85,462.47 934.16,462.42 934.46,462.36 934.77,462.30 935.08,462.24 935.39,462.19 935.69,462.14 936.00,462.10 936.31,462.07 936.62,462.04 936.92,462.03 937.23,462.03 937.54,462.03 937.85,462.03 938.16,462.03 938.46,462.03 938.77,462.04 939.08,462.04 939.39,462.05 939.69,462.05 940.00,462.06 940.31,462.07 940.62,462.07 940.93,462.08 941.23,462.09 941.54,462.10 941.85,462.11 942.16,462.12 942.46,462.13 942.77,462.15 943.08,462.16 943.39,462.17 943.70,462.19 944.00,462.20 944.31,462.22 944.62,462.23 944.93,462.25 945.23,462.26 945.54,462.28 945.85,462.31 946.16,462.36 946.47,462.41 946.77,462.47 947.08,462.54 947.39,462.60 947.70,462.67 948.00,462.74 948.31,462.81 948.62,462.86 948.93,462.91 949.24,462.96 949.54,462.98 949.85,463.00 950.16,462.99 950.47,462.94 950.77,462.85 951.08,462.73 951.39,462.58 951.70,462.40 952.00,462.21 952.31,462.01 952.62,461.81 952.93,461.61 953.24,461.41 953.54,461.23 953.85,461.07 954.16,460.93 954.47,460.83 954.77,460.75 955.08,460.68 955.39,460.60 955.70,460.53 956.01,460.46 956.31,460.39 956.62,460.32 956.93,460.25 957.24,460.19 957.54,460.13 957.85,460.07 958.16,460.02 958.47,459.97 958.78,459.92 959.08,459.88 959.39,459.84 959.70,459.80 960.01,459.77 960.31,459.75 960.62,459.73 960.93,459.72 961.24,459.71 961.54,459.71 961.85,459.72 962.16,459.74 962.47,459.78 962.78,459.82 963.08,459.87 963.39,459.93 963.70,460.00 964.01,460.07 964.31,460.15 964.62,460.23 964.93,460.32 965.24,460.41 965.55,460.51 965.85,460.60 966.16,460.70 966.47,460.79 966.78,460.89 967.08,460.98 967.39,461.07 967.70,461.15 968.01,461.24 968.32,461.31 968.62,461.39 968.93,461.48 969.24,461.57 969.55,461.66 969.85,461.76 970.16,461.86 970.47,461.96 970.78,462.07 971.09,462.17 971.39,462.27 971.70,462.36 972.01,462.46 972.32,462.55 972.62,462.63 972.93,462.71 973.24,462.78 973.55,462.84 973.86,462.90 974.16,462.94 974.47,462.97 974.78,462.99 975.09,463.00 975.39,463.00 975.70,463.00 976.01,463.00 976.32,463.00 976.62,463.00 976.93,463.00 977.24,463.00 977.55,463.00 977.86,463.00 978.16,463.00 978.47,463.00 978.78,463.00 979.09,463.00 979.39,463.00 979.70,463.00 980.01,463.00 980.32,463.00 980.63,463.00 980.93,463.00 981.24,463.00 981.55,463.00 981.86,463.00 982.16,463.00 982.47,463.00 982.78,463.00 983.09,463.00 983.40,463.00 983.70,463.00 984.01,463.00 984.32,463.00 984.63,463.00 984.93,463.00 985.24,463.00 985.55,463.00 985.86,463.00 986.16,463.00 986.47,463.00 986.78,463.00 987.09,463.00 987.40,463.00 987.70,463.00 988.01,463.00 988.32,463.00 988.63,463.00 988.93,463.00 989.24,463.00 989.55,463.00 989.86,463.00 990.17,463.00 990.47,463.00 990.78,463.00 991.09,463.00 991.40,463.00 991.70,463.00 992.01,463.00 992.32,463.00 992.63,463.00 992.94,463.00 993.24,463.00 993.55,463.00 993.86,463.00 994.17,463.00 994.47,463.00 994.78,463.00 995.09,463.00 995.40,463.00 995.71,463.00 996.01,463.00 996.32,463.00 996.63,463.00 996.94,463.00 997.24,463.00 997.55,463.00 997.86,463.00 998.17,463.00 998.47,463.00 998.78,463.00 999.09,463.00 999.40,463.00 999.71,463.00 1000.01,463.00 1000.32,463.00 1000.63,463.00 1000.94,463.00 1001.24,463.00 1001.55,463.00 1001.86,463.00 1002.17,463.00 1002.48,463.00 1002.78,463.00 1003.09,463.00 1003.40,463.00 1003.71,463.00 1004.01,463.00 1004.32,463.00 1004.63,463.00 1004.94,463.00 1005.25,463.00 1005.55,463.00 1005.86,463.00 1006.17,463.00 1006.48,463.00 1006.78,463.00 1007.09,463.00 1007.40,463.00 1007.71,463.00 1008.02,463.00 1008.32,463.00 1008.63,463.00 1008.94,463.00 1009.25,463.00 1009.55,463.00 1009.86,463.00 1010.17,463.00 1010.48,463.00 1010.78,463.00 1011.09,463.00 1011.40,463.00 1011.71,463.00 1012.02,463.00 1012.32,463.00 1012.63,463.00 1012.94,463.00 1013.25,463.00 1013.55,463.00 1013.86,463.00 1014.17,463.00 1014.48,463.00 1014.79,463.00 1015.09,463.00 1015.40,463.00 1015.71,463.00 1016.02,463.00 1016.32,463.00 1016.63,463.00 1016.94,463.00 1017.25,463.00 1017.56,463.00 1017.86,463.00 1018.17,463.00 1018.48,463.00 1018.79,463.00 1019.09,463.00 1019.40,463.00 1019.71,463.00 1020.02,463.00 1020.33,463.00 1020.63,463.00 1020.94,463.00 1021.25,463.00 1021.56,463.00 1021.86,463.00 1022.17,463.00 1022.48,463.00 1022.79,463.00 1023.10,463.00 1023.40,463.00 1023.71,463.00 1024.02,463.00 1024.33,463.00 1024.63,463.00 1024.94,463.00 1025.25,463.00 1025.56,463.00 1025.86,463.00 1026.17,463.00 1026.48,463.00 1026.79,463.00 1027.10,463.00 1027.40,463.00 1027.71,463.00 1028.02,463.00 1028.33,463.00 1028.63,463.00 1028.94,463.00 1029.25,463.00 1029.56,463.00 1029.87,463.00 1030.17,463.00 1030.48,463.00 1030.79,463.00 1031.10,463.00 1031.40,463.00 1031.71,463.00 1032.02,463.00 1032.33,463.00 1032.64,463.00 1032.94,463.00 1033.25,463.00 1033.56,463.00 1033.87,463.00 1034.17,463.00 1034.48,463.00 1034.79,463.00 1035.10,463.00 1035.40,463.00 1035.71,463.00 1036.02,463.00 1036.33,463.00 1036.64,463.00 1036.94,463.00 1037.25,463.00 1037.56,463.00 1037.87,463.00 1038.17,463.00 1038.48,463.00 1038.79,463.00 1039.10,463.00 1039.41,463.00 1039.71,463.00 1040.02,463.00 1040.33,463.00 1040.64,463.00 1040.94,463.00 1041.25,463.00 1041.56,463.00 1041.87,463.00 1042.18,463.00 1042.48,463.00 1042.79,463.00 1043.10,463.00 1043.41,463.00 1043.71,463.00 1044.02,463.00 1044.33,463.00 1044.64,463.00 1044.95,463.00 1045.25,463.00 1045.56,463.00 1045.87,463.00 1046.18,463.00 1046.48,463.00 1046.79,463.00 1047.10,463.00 1047.41,463.00 1047.71,463.00 1048.02,463.00 1048.33,463.00 1048.64,463.00 1048.95,463.00 1049.25,463.00 1049.56,463.00 1049.87,463.00 1050.18,463.00 1050.48,463.00 1050.79,463.00 1051.10,463.00 1051.41,463.00 1051.72,463.00 1052.02,463.00 1052.33,463.00 1052.64,463.00 1052.95,463.00 1053.25,463.00 1053.56,463.00 1053.87,463.00 1054.18,463.00 1054.49,463.00 1054.79,463.00 1055.10,463.00 1055.41,463.00 1055.72,463.00 1056.02,463.00 1056.33,463.00 1056.64,462.99 1056.95,462.95 1057.26,462.89 1057.56,462.81 1057.87,462.72 1058.18,462.61 1058.49,462.50 1058.79,462.39 1059.10,462.28 1059.41,462.17 1059.72,462.06 1060.03,461.97 1060.33,461.89 1060.64,461.83 1060.95,461.80 1061.26,461.78 1061.56,461.80 1061.87,461.83 1062.18,461.89 1062.49,461.97 1062.79,462.06 1063.10,462.17 1063.41,462.28 1063.72,462.39 1064.03,462.50 1064.33,462.61 1064.64,462.72 1064.95,462.81 1065.26,462.89 1065.56,462.95 1065.87,462.99 1066.18,463.00 1066.49,463.00 1066.80,463.00 1067.10,463.00 1067.41,463.00 1067.72,463.00 1068.03,463.00 1068.33,463.00 1068.64,463.00 1068.95,463.00 1069.26,463.00 1069.57,463.00 1069.87,463.00 1070.18,463.00 1070.49,463.00 1070.80,463.00 1071.10,463.00 1071.41,463.00 1071.72,463.00 1072.03,463.00 1072.34,463.00 1072.64,463.00 1072.95,463.00 1073.26,463.00 1073.57,463.00 1073.87,463.00 1074.18,463.00 1074.49,463.00 1074.80,463.00 1075.10,463.00 1075.41,463.00 1075.72,463.00 1076.03,463.00 1076.34,463.00 1076.64,463.00 1076.95,463.00 1077.26,463.00 1077.57,463.00 1077.87,463.00 1078.18,463.00 1078.49,463.00 1078.80,463.00 1079.11,463.00 1079.41,463.00 1079.72,463.00 1080.03,463.00 1080.34,463.00 1080.64,463.00 1080.95,463.00 1081.26,463.00 1081.57,463.00 1081.88,463.00 1082.18,463.00 1082.49,463.00 1082.80,463.00 1083.11,463.00 1083.41,463.00 1083.72,463.00 1084.03,463.00 1084.34,463.00 1084.64,463.00 1084.95,463.00 1085.26,463.00 1085.57,463.00 1085.88,463.00 1086.18,463.00 1086.49,463.00 1086.80,463.00 1087.11,463.00 1087.41,463.00 1087.72,463.00 1088.03,463.00 1088.34,463.00 1088.65,463.00 1088.95,463.00 1089.26,463.00 1089.57,463.00 1089.88,463.00 1090.18,463.00 1090.49,463.00 1090.80,463.00" fill="none" stroke="#5a5a5a" stroke-width="1.2" stroke-linejoin="round"/><path d="M211.0,814.1V985.0H457.2M211.0,814.1H216.0M211.0,899.5H216.0M260.2,985.0V979.5M309.5,985.0V979.5M358.7,985.0V979.5M408.0,985.0V979.5M457.2,985.0V979.5" fill="none" stroke="#505050" stroke-width="1.2"/><clipPath id="lf3"><polygon points="211.0,985.0 211.00,985.00 211.31,985.00 211.62,985.00 211.92,985.00 212.23,985.00 212.54,985.00 212.85,985.00 213.15,985.00 213.46,985.00 213.77,985.00 214.08,985.00 214.39,985.00 214.69,985.00 215.00,985.00 215.31,985.00 215.62,985.00 215.92,985.00 216.23,985.00 216.54,985.00 216.85,985.00 217.16,985.00 217.46,985.00 217.77,985.00 218.08,985.00 218.39,985.00 218.69,985.00 219.00,985.00 219.31,985.00 219.62,985.00 219.92,985.00 220.23,985.00 220.54,985.00 220.85,985.00 221.16,984.64 221.46,983.63 221.77,982.09 222.08,980.12 222.39,977.86 222.69,975.39 223.00,972.85 223.31,970.35 223.62,967.99 223.93,965.82 224.23,963.32 224.54,960.50 224.85,957.51 225.16,954.51 225.46,951.66 225.77,949.12 226.08,947.06 226.39,945.62 226.70,944.98 227.00,945.07 227.31,945.48 227.62,946.17 227.93,947.10 228.23,948.23 228.54,949.52 228.85,950.93 229.16,952.42 229.47,953.96 229.77,955.50 230.08,957.01 230.39,958.45 230.70,959.80 231.00,961.30 231.31,963.01 231.62,964.86 231.93,966.82 232.23,968.84 232.54,970.87 232.85,972.86 233.16,974.76 233.47,976.53 233.77,978.11 234.08,979.47 234.39,980.54 234.70,981.29 235.00,981.67 235.31,981.63 235.62,981.20 235.93,980.42 236.24,979.35 236.54,978.04 236.85,976.55 237.16,974.92 237.47,973.20 237.77,971.44 238.08,969.70 238.39,968.03 238.70,966.48 239.01,965.09 239.31,963.71 239.62,962.29 239.93,960.84 240.24,959.36 240.54,957.88 240.85,956.39 241.16,954.92 241.47,953.46 241.78,952.04 242.08,950.67 242.39,949.35 242.70,948.09 243.01,946.91 243.31,945.82 243.62,944.81 243.93,943.79 244.24,942.74 244.54,941.69 244.85,940.64 245.16,939.60 245.47,938.60 245.78,937.63 246.08,936.73 246.39,935.89 246.70,935.14 247.01,934.49 247.31,933.95 247.62,933.53 247.93,933.25 248.24,933.13 248.55,933.17 248.85,933.40 249.16,933.80 249.47,934.36 249.78,935.05 250.08,935.87 250.39,936.81 250.70,937.84 251.01,938.94 251.32,940.12 251.62,941.34 251.93,942.59 252.24,943.87 252.55,945.15 252.85,946.41 253.16,947.65 253.47,948.88 253.78,950.31 254.09,951.96 254.39,953.77 254.70,955.68 255.01,957.64 255.32,959.59 255.62,961.49 255.93,963.26 256.24,964.86 256.55,966.24 256.85,967.33 257.16,968.08 257.47,968.64 257.78,969.14 258.09,969.60 258.39,970.01 258.70,970.39 259.01,970.73 259.32,971.05 259.62,971.34 259.93,971.62 260.24,971.90 260.55,972.16 260.86,972.43 261.16,972.71 261.47,973.00 261.78,973.30 262.09,973.64 262.39,974.00 262.70,974.39 263.01,974.81 263.32,975.24 263.63,975.69 263.93,976.15 264.24,976.61 264.55,977.08 264.86,977.53 265.16,977.98 265.47,978.41 265.78,978.83 266.09,979.21 266.39,979.57 266.70,979.90 267.01,980.18 267.32,980.47 267.63,980.77 267.93,981.05 268.24,981.30 268.55,981.50 268.86,981.64 269.16,981.70 269.47,981.52 269.78,980.90 270.09,979.90 270.40,978.58 270.70,977.01 271.01,975.24 271.32,973.35 271.63,971.38 271.93,969.41 272.24,967.49 272.55,965.69 272.86,964.07 273.17,962.68 273.47,961.60 273.78,960.88 274.09,960.59 274.40,960.69 274.70,961.05 275.01,961.63 275.32,962.40 275.63,963.33 275.94,964.39 276.24,965.56 276.55,966.79 276.86,968.06 277.17,969.35 277.47,970.61 277.78,971.82 278.09,972.95 278.40,973.96 278.70,974.83 279.01,975.53 279.32,976.11 279.63,976.70 279.94,977.29 280.24,977.87 280.55,978.44 280.86,978.99 281.17,979.50 281.47,979.98 281.78,980.42 282.09,980.81 282.40,981.13 282.71,981.39 283.01,981.58 283.32,981.68 283.63,981.70 283.94,981.70 284.24,981.70 284.55,981.70 284.86,981.70 284.9,985.0"/></clipPath><polygon points="211.0,985.0 211.00,985.00 211.31,985.00 211.62,985.00 211.92,985.00 212.23,985.00 212.54,985.00 212.85,985.00 213.15,985.00 213.46,985.00 213.77,985.00 214.08,985.00 214.39,985.00 214.69,985.00 215.00,985.00 215.31,985.00 215.62,985.00 215.92,985.00 216.23,985.00 216.54,985.00 216.85,985.00 217.16,985.00 217.46,985.00 217.77,985.00 218.08,985.00 218.39,985.00 218.69,985.00 219.00,985.00 219.31,985.00 219.62,985.00 219.92,985.00 220.23,985.00 220.54,985.00 220.85,985.00 221.16,984.64 221.46,983.63 221.77,982.09 222.08,980.12 222.39,977.86 222.69,975.39 223.00,972.85 223.31,970.35 223.62,967.99 223.93,965.82 224.23,963.32 224.54,960.50 224.85,957.51 225.16,954.51 225.46,951.66 225.77,949.12 226.08,947.06 226.39,945.62 226.70,944.98 227.00,945.07 227.31,945.48 227.62,946.17 227.93,947.10 228.23,948.23 228.54,949.52 228.85,950.93 229.16,952.42 229.47,953.96 229.77,955.50 230.08,957.01 230.39,958.45 230.70,959.80 231.00,961.30 231.31,963.01 231.62,964.86 231.93,966.82 232.23,968.84 232.54,970.87 232.85,972.86 233.16,974.76 233.47,976.53 233.77,978.11 234.08,979.47 234.39,980.54 234.70,981.29 235.00,981.67 235.31,981.63 235.62,981.20 235.93,980.42 236.24,979.35 236.54,978.04 236.85,976.55 237.16,974.92 237.47,973.20 237.77,971.44 238.08,969.70 238.39,968.03 238.70,966.48 239.01,965.09 239.31,963.71 239.62,962.29 239.93,960.84 240.24,959.36 240.54,957.88 240.85,956.39 241.16,954.92 241.47,953.46 241.78,952.04 242.08,950.67 242.39,949.35 242.70,948.09 243.01,946.91 243.31,945.82 243.62,944.81 243.93,943.79 244.24,942.74 244.54,941.69 244.85,940.64 245.16,939.60 245.47,938.60 245.78,937.63 246.08,936.73 246.39,935.89 246.70,935.14 247.01,934.49 247.31,933.95 247.62,933.53 247.93,933.25 248.24,933.13 248.55,933.17 248.85,933.40 249.16,933.80 249.47,934.36 249.78,935.05 250.08,935.87 250.39,936.81 250.70,937.84 251.01,938.94 251.32,940.12 251.62,941.34 251.93,942.59 252.24,943.87 252.55,945.15 252.85,946.41 253.16,947.65 253.47,948.88 253.78,950.31 254.09,951.96 254.39,953.77 254.70,955.68 255.01,957.64 255.32,959.59 255.62,961.49 255.93,963.26 256.24,964.86 256.55,966.24 256.85,967.33 257.16,968.08 257.47,968.64 257.78,969.14 258.09,969.60 258.39,970.01 258.70,970.39 259.01,970.73 259.32,971.05 259.62,971.34 259.93,971.62 260.24,971.90 260.55,972.16 260.86,972.43 261.16,972.71 261.47,973.00 261.78,973.30 262.09,973.64 262.39,974.00 262.70,974.39 263.01,974.81 263.32,975.24 263.63,975.69 263.93,976.15 264.24,976.61 264.55,977.08 264.86,977.53 265.16,977.98 265.47,978.41 265.78,978.83 266.09,979.21 266.39,979.57 266.70,979.90 267.01,980.18 267.32,980.47 267.63,980.77 267.93,981.05 268.24,981.30 268.55,981.50 268.86,981.64 269.16,981.70 269.47,981.52 269.78,980.90 270.09,979.90 270.40,978.58 270.70,977.01 271.01,975.24 271.32,973.35 271.63,971.38 271.93,969.41 272.24,967.49 272.55,965.69 272.86,964.07 273.17,962.68 273.47,961.60 273.78,960.88 274.09,960.59 274.40,960.69 274.70,961.05 275.01,961.63 275.32,962.40 275.63,963.33 275.94,964.39 276.24,965.56 276.55,966.79 276.86,968.06 277.17,969.35 277.47,970.61 277.78,971.82 278.09,972.95 278.40,973.96 278.70,974.83 279.01,975.53 279.32,976.11 279.63,976.70 279.94,977.29 280.24,977.87 280.55,978.44 280.86,978.99 281.17,979.50 281.47,979.98 281.78,980.42 282.09,980.81 282.40,981.13 282.71,981.39 283.01,981.58 283.32,981.68 283.63,981.70 283.94,981.70 284.24,981.70 284.55,981.70 284.86,981.70 284.9,985.0" fill="#111" stroke="#111" stroke-width="0.6"/><path d="M214.0,740.9V984.2M217.7,740.9V984.2M221.4,740.9V984.2M225.1,740.9V984.2M228.8,740.9V984.2M232.5,740.9V984.2M236.2,740.9V984.2M239.9,740.9V984.2M243.6,740.9V984.2M247.3,740.9V984.2M251.0,740.9V984.2M254.7,740.9V984.2M258.4,740.9V984.2M262.1,740.9V984.2M265.8,740.9V984.2M269.5,740.9V984.2M273.2,740.9V984.2M276.9,740.9V984.2M280.6,740.9V984.2M284.3,740.9V984.2" stroke="#c8c8c8" stroke-width="0.9" clip-path="url(#lf3)"/><polyline points="211.00,985.00 211.31,985.00 211.62,985.00 211.92,985.00 212.23,985.00 212.54,985.00 212.85,985.00 213.15,985.00 213.46,985.00 213.77,985.00 214.08,985.00 214.39,985.00 214.69,985.00 215.00,985.00 215.31,985.00 215.62,985.00 215.92,985.00 216.23,985.00 216.54,985.00 216.85,985.00 217.16,985.00 217.46,985.00 217.77,985.00 218.08,985.00 218.39,985.00 218.69,985.00 219.00,985.00 219.31,985.00 219.62,985.00 219.92,985.00 220.23,985.00 220.54,985.00 220.85,985.00 221.16,984.64 221.46,983.63 221.77,982.09 222.08,980.12 222.39,977.86 222.69,975.39 223.00,972.85 223.31,970.35 223.62,967.99 223.93,965.82 224.23,963.32 224.54,960.50 224.85,957.51 225.16,954.51 225.46,951.66 225.77,949.12 226.08,947.06 226.39,945.62 226.70,944.98 227.00,945.07 227.31,945.48 227.62,946.17 227.93,947.10 228.23,948.23 228.54,949.52 228.85,950.93 229.16,952.42 229.47,953.96 229.77,955.50 230.08,957.01 230.39,958.45 230.70,959.80 231.00,961.30 231.31,963.01 231.62,964.86 231.93,966.82 232.23,968.84 232.54,970.87 232.85,972.86 233.16,974.76 233.47,976.53 233.77,978.11 234.08,979.47 234.39,980.54 234.70,981.29 235.00,981.67 235.31,981.63 235.62,981.20 235.93,980.42 236.24,979.35 236.54,978.04 236.85,976.55 237.16,974.92 237.47,973.20 237.77,971.44 238.08,969.70 238.39,968.03 238.70,966.48 239.01,965.09 239.31,963.71 239.62,962.29 239.93,960.84 240.24,959.36 240.54,957.88 240.85,956.39 241.16,954.92 241.47,953.46 241.78,952.04 242.08,950.67 242.39,949.35 242.70,948.09 243.01,946.91 243.31,945.82 243.62,944.81 243.93,943.79 244.24,942.74 244.54,941.69 244.85,940.64 245.16,939.60 245.47,938.60 245.78,937.63 246.08,936.73 246.39,935.89 246.70,935.14 247.01,934.49 247.31,933.95 247.62,933.53 247.93,933.25 248.24,933.13 248.55,933.17 248.85,933.40 249.16,933.80 249.47,934.36 249.78,935.05 250.08,935.87 250.39,936.81 250.70,937.84 251.01,938.94 251.32,940.12 251.62,941.34 251.93,942.59 252.24,943.87 252.55,945.15 252.85,946.41 253.16,947.65 253.47,948.88 253.78,950.31 254.09,951.96 254.39,953.77 254.70,955.68 255.01,957.64 255.32,959.59 255.62,961.49 255.93,963.26 256.24,964.86 256.55,966.24 256.85,967.33 257.16,968.08 257.47,968.64 257.78,969.14 258.09,969.60 258.39,970.01 258.70,970.39 259.01,970.73 259.32,971.05 259.62,971.34 259.93,971.62 260.24,971.90 260.55,972.16 260.86,972.43 261.16,972.71 261.47,973.00 261.78,973.30 262.09,973.64 262.39,974.00 262.70,974.39 263.01,974.81 263.32,975.24 263.63,975.69 263.93,976.15 264.24,976.61 264.55,977.08 264.86,977.53 265.16,977.98 265.47,978.41 265.78,978.83 266.09,979.21 266.39,979.57 266.70,979.90 267.01,980.18 267.32,980.47 267.63,980.77 267.93,981.05 268.24,981.30 268.55,981.50 268.86,981.64 269.16,981.70 269.47,981.52 269.78,980.90 270.09,979.90 270.40,978.58 270.70,977.01 271.01,975.24 271.32,973.35 271.63,971.38 271.93,969.41 272.24,967.49 272.55,965.69 272.86,964.07 273.17,962.68 273.47,961.60 273.78,960.88 274.09,960.59 274.40,960.69 274.70,961.05 275.01,961.63 275.32,962.40 275.63,963.33 275.94,964.39 276.24,965.56 276.55,966.79 276.86,968.06 277.17,969.35 277.47,970.61 277.78,971.82 278.09,972.95 278.40,973.96 278.70,974.83 279.01,975.53 279.32,976.11 279.63,976.70 279.94,977.29 280.24,977.87 280.55,978.44 280.86,978.99 281.17,979.50 281.47,979.98 281.78,980.42 282.09,980.81 282.40,981.13 282.71,981.39 283.01,981.58 283.32,981.68 283.63,981.70 283.94,981.70 284.24,981.70 284.55,981.70 284.86,981.70 285.17,981.70 285.48,981.70 285.78,981.70 286.09,981.70 286.40,981.70 286.71,981.70 287.01,981.70 287.32,981.70 287.63,981.70 287.94,981.70 288.25,981.70 288.55,981.70 288.86,981.70 289.17,981.70 289.48,981.70 289.78,981.70 290.09,981.71 290.40,981.71 290.71,981.72 291.01,981.73 291.32,981.75 291.63,981.76 291.94,981.79 292.25,981.81 292.55,981.84 292.86,981.86 293.17,981.90 293.48,981.93 293.78,981.97 294.09,982.00 294.40,982.04 294.71,982.08 295.02,982.13 295.32,982.17 295.63,982.22 295.94,982.27 296.25,982.32 296.55,982.37 296.86,982.42 297.17,982.47 297.48,982.53 297.79,982.58 298.09,982.64 298.40,982.69 298.71,982.75 299.02,982.80 299.32,982.86 299.63,982.91 299.94,982.97 300.25,983.03 300.56,983.08 300.86,983.14 301.17,983.19 301.48,983.24 301.79,983.30 302.09,983.36 302.40,983.42 302.71,983.49 303.02,983.57 303.32,983.65 303.63,983.74 303.94,983.83 304.25,983.93 304.56,984.02 304.86,984.11 305.17,984.21 305.48,984.30 305.79,984.39 306.09,984.48 306.40,984.57 306.71,984.64 307.02,984.72 307.33,984.79 307.63,984.85 307.94,984.90 308.25,984.94 308.56,984.97 308.86,984.99 309.17,985.00 309.48,985.00 309.79,984.99 310.10,984.98 310.40,984.96 310.71,984.93 311.02,984.90 311.33,984.85 311.63,984.80 311.94,984.75 312.25,984.68 312.56,984.60 312.87,984.51 313.17,984.42 313.48,984.31 313.79,984.19 314.10,984.06 314.40,983.92 314.71,983.77 315.02,983.60 315.33,983.42 315.63,983.23 315.94,983.02 316.25,982.80 316.56,982.57 316.87,982.32 317.17,982.05 317.48,981.77 317.79,980.76 318.10,977.53 318.40,972.42 318.71,965.84 319.02,958.18 319.33,949.86 319.64,941.28 319.94,932.38 320.25,920.03 320.56,905.49 320.87,891.20 321.17,879.57 321.48,872.39 321.79,866.38 322.10,861.13 322.41,857.20 322.71,855.16 323.02,855.39 323.33,857.35 323.64,860.45 323.94,864.16 324.25,867.91 324.56,871.49 324.87,875.52 325.18,879.90 325.48,884.46 325.79,889.03 326.10,893.56 326.41,898.45 326.71,903.61 327.02,908.92 327.33,914.22 327.64,919.37 327.94,924.23 328.25,928.66 328.56,932.51 328.87,935.64 329.18,938.06 329.48,940.05 329.79,941.76 330.10,943.30 330.41,944.65 330.71,945.85 331.02,946.97 331.33,948.06 331.64,949.19 331.95,950.41 332.25,951.79 332.56,953.40 332.87,955.21 333.18,957.17 333.48,959.22 333.79,961.29 334.10,963.33 334.41,965.27 334.72,967.06 335.02,968.63 335.33,970.01 335.64,971.43 335.95,972.85 336.25,974.19 336.56,975.36 336.87,976.31 337.18,976.94 337.49,977.20 337.79,977.28 338.10,977.34 338.41,977.38 338.72,977.42 339.02,977.45 339.33,977.47 339.64,977.50 339.95,977.53 340.25,977.57 340.56,977.62 340.87,977.68 341.18,977.79 341.49,977.97 341.79,978.21 342.10,978.49 342.41,978.82 342.72,979.19 343.02,979.58 343.33,979.99 343.64,980.41 343.95,980.84 344.26,981.27 344.56,981.69 344.87,982.09 345.18,982.46 345.49,982.81 345.79,983.11 346.10,983.36 346.41,983.57 346.72,983.70 347.03,983.77 347.33,983.77 347.64,983.71 347.95,983.60 348.26,983.46 348.56,983.28 348.87,983.08 349.18,982.87 349.49,982.65 349.80,982.43 350.10,982.22 350.41,982.02 350.72,981.86 351.03,981.72 351.33,981.63 351.64,981.58 351.95,981.59 352.26,981.61 352.56,981.64 352.87,981.70 353.18,981.76 353.49,981.85 353.80,981.94 354.10,982.05 354.41,982.16 354.72,982.29 355.03,982.43 355.33,982.58 355.64,982.74 355.95,982.95 356.26,983.37 356.57,983.91 356.87,984.43 357.18,984.84 357.49,985.00 357.80,985.00 358.10,985.00 358.41,985.00 358.72,984.99 359.03,984.99 359.34,984.99 359.64,984.98 359.95,984.98 360.26,984.97 360.57,984.97 360.87,984.96 361.18,984.95 361.49,984.94 361.80,984.93 362.11,984.92 362.41,984.92 362.72,984.90 363.03,984.89 363.34,984.88 363.64,984.87 363.95,984.86 364.26,984.85 364.57,984.83 364.88,984.82 365.18,984.81 365.49,984.79 365.80,984.78 366.11,984.76 366.41,984.75 366.72,984.73 367.03,984.71 367.34,984.70 367.64,984.68 367.95,984.66 368.26,984.65 368.57,984.63 368.88,984.61 369.18,984.59 369.49,984.58 369.80,984.56 370.11,984.54 370.41,984.52 370.72,984.50 371.03,984.48 371.34,984.46 371.65,984.44 371.95,984.42 372.26,984.40 372.57,984.38 372.88,984.36 373.18,984.35 373.49,984.33 373.80,984.31 374.11,984.29 374.42,984.27 374.72,984.25 375.03,984.23 375.34,984.21 375.65,984.19 375.95,984.17 376.26,984.15 376.57,984.13 376.88,984.11 377.19,984.09 377.49,984.07 377.80,984.05 378.11,984.03 378.42,984.01 378.72,984.00 379.03,983.98 379.34,983.96 379.65,983.94 379.95,983.92 380.26,983.91 380.57,983.89 380.88,983.87 381.19,983.86 381.49,983.84 381.80,983.83 382.11,983.81 382.42,983.80 382.72,983.78 383.03,983.77 383.34,983.75 383.65,983.74 383.96,983.72 384.26,983.70 384.57,983.69 384.88,983.67 385.19,983.65 385.49,983.63 385.80,983.62 386.11,983.60 386.42,983.58 386.73,983.56 387.03,983.54 387.34,983.52 387.65,983.50 387.96,983.49 388.26,983.47 388.57,983.45 388.88,983.43 389.19,983.41 389.50,983.39 389.80,983.37 390.11,983.36 390.42,983.34 390.73,983.32 391.03,983.30 391.34,983.29 391.65,983.27 391.96,983.25 392.26,983.24 392.57,983.22 392.88,983.21 393.19,983.19 393.50,983.18 393.80,983.16 394.11,983.15 394.42,983.14 394.73,983.13 395.03,983.12 395.34,983.11 395.65,983.10 395.96,983.09 396.27,983.08 396.57,983.07 396.88,983.07 397.19,983.06 397.50,983.06 397.80,983.05 398.11,983.05 398.42,983.05 398.73,983.05 399.04,983.05 399.34,983.05 399.65,983.06 399.96,983.06 400.27,983.07 400.57,983.08 400.88,983.09 401.19,983.11 401.50,983.12 401.81,983.14 402.11,983.16 402.42,983.17 402.73,983.19 403.04,983.21 403.34,983.24 403.65,983.26 403.96,983.28 404.27,983.30 404.57,983.33 404.88,983.35 405.19,983.38 405.50,983.40 405.81,983.42 406.11,983.45 406.42,983.47 406.73,983.50 407.04,983.52 407.34,983.54 407.65,983.57 407.96,983.59 408.27,983.61 408.58,983.63 408.88,983.65 409.19,983.67 409.50,983.69 409.81,983.70 410.11,983.72 410.42,983.73 410.73,983.74 411.04,983.75 411.35,983.76 411.65,983.77 411.96,983.77 412.27,983.78 412.58,983.78 412.88,983.78 413.19,983.78 413.50,983.78 413.81,983.78 414.12,983.78 414.42,983.78 414.73,983.78 415.04,983.78 415.35,983.78 415.65,983.78 415.96,983.78 416.27,983.78 416.58,983.78 416.88,983.78 417.19,983.78 417.50,983.78 417.81,983.78 418.12,983.78 418.42,983.78 418.73,983.78 419.04,983.78 419.35,983.78 419.65,983.78 419.96,983.78 420.27,983.78 420.58,983.77 420.89,983.77 421.19,983.76 421.50,983.75 421.81,983.73 422.12,983.72 422.42,983.70 422.73,983.68 423.04,983.66 423.35,983.63 423.66,983.61 423.96,983.58 424.27,983.55 424.58,983.53 424.89,983.50 425.19,983.47 425.50,983.43 425.81,983.40 426.12,983.37 426.42,983.34 426.73,983.31 427.04,983.27 427.35,983.24 427.66,983.21 427.96,983.18 428.27,983.14 428.58,983.11 428.89,983.08 429.19,983.05 429.50,983.02 429.81,983.00 430.12,982.97 430.43,982.95 430.73,982.92 431.04,982.90 431.35,982.88 431.66,982.86 431.96,982.85 432.27,982.83 432.58,982.82 432.89,982.81 433.20,982.81 433.50,982.80 433.81,982.80 434.12,982.82 434.43,982.86 434.73,982.93 435.04,983.00 435.35,983.09 435.66,983.19 435.97,983.30 436.27,983.40 436.58,983.50 436.89,983.59 437.20,983.67 437.50,983.74 437.81,983.78 438.12,983.82 438.43,983.85 438.74,983.88 439.04,983.92 439.35,983.95 439.66,983.98 439.97,984.02 440.27,984.05 440.58,984.08 440.89,984.11 441.20,984.14 441.50,984.17 441.81,984.20 442.12,984.23 442.43,984.26 442.74,984.29 443.04,984.32 443.35,984.35 443.66,984.37 443.97,984.40 444.27,984.43 444.58,984.45 444.89,984.48 445.20,984.50 445.51,984.52 445.81,984.55 446.12,984.57 446.43,984.59 446.74,984.62 447.04,984.64 447.35,984.66 447.66,984.68 447.97,984.70 448.28,984.72 448.58,984.74 448.89,984.75 449.20,984.77 449.51,984.79 449.81,984.80 450.12,984.82 450.43,984.83 450.74,984.85 451.04,984.86 451.35,984.88 451.66,984.89 451.97,984.90 452.28,984.91 452.58,984.92 452.89,984.93 453.20,984.94 453.51,984.95 453.81,984.96 454.12,984.96 454.43,984.97 454.74,984.98 455.05,984.98 455.35,984.99 455.66,984.99 455.97,984.99 456.28,985.00 456.58,985.00 456.89,985.00 457.20,985.00" fill="none" stroke="#5a5a5a" stroke-width="1.2" stroke-linejoin="round"/><path d="M531.2,814.1V985.0H777.2M531.2,814.1H536.2M531.2,899.5H536.2M580.4,985.0V979.5M629.6,985.0V979.5M678.8,985.0V979.5M728.0,985.0V979.5M777.2,985.0V979.5" fill="none" stroke="#505050" stroke-width="1.2"/><clipPath id="lf4"><polygon points="531.2,985.0 531.20,985.00 531.51,985.00 531.82,985.00 532.12,985.00 532.43,985.00 532.74,985.00 533.05,985.00 533.35,985.00 533.66,985.00 533.97,985.00 534.28,985.00 534.58,985.00 534.89,985.00 535.20,985.00 535.50,985.00 535.81,985.00 536.12,985.00 536.43,985.00 536.74,985.00 537.04,985.00 537.35,985.00 537.66,985.00 537.97,985.00 538.27,985.00 538.58,985.00 538.89,985.00 539.20,985.00 539.50,985.00 539.81,985.00 540.12,985.00 540.43,985.00 540.73,985.00 541.04,985.00 541.35,985.00 541.66,985.00 541.96,985.00 542.27,985.00 542.58,985.00 542.88,985.00 543.19,985.00 543.50,985.00 543.81,985.00 544.12,984.96 544.42,984.58 544.73,983.87 545.04,982.97 545.35,981.98 545.65,981.04 545.96,980.15 546.27,979.07 546.58,977.85 546.88,976.59 547.19,975.36 547.50,974.26 547.81,973.37 548.11,972.77 548.42,972.55 548.73,972.73 549.04,973.21 549.34,973.92 549.65,974.77 549.96,975.70 550.27,976.62 550.57,977.45 550.88,978.12 551.19,978.62 551.50,979.13 551.80,979.62 552.11,980.07 552.42,980.42 552.73,980.66 553.03,980.72 553.34,980.48 553.65,979.91 553.96,979.12 554.26,978.21 554.57,977.30 554.88,976.47 555.19,975.84 555.49,975.51 555.80,975.53 556.11,975.82 556.42,976.31 556.72,976.94 557.03,977.67 557.34,978.44 557.65,979.21 557.95,979.91 558.26,980.50 558.57,980.96 558.88,981.42 559.18,981.89 559.49,982.35 559.80,982.78 560.11,983.15 560.41,983.46 560.72,983.67 561.03,983.77 561.34,983.72 561.64,983.45 561.95,983.01 562.26,982.46 562.57,981.85 562.87,981.21 563.18,980.61 563.49,980.10 563.80,979.72 564.10,979.52 564.41,979.53 564.72,979.66 565.03,979.85 565.33,980.09 565.64,980.33 565.95,980.54 566.26,980.68 566.56,980.73 566.87,980.61 567.18,980.34 567.49,979.94 567.79,979.46 568.10,978.92 568.41,978.36 568.72,977.83 569.02,977.35 569.33,976.95 569.64,976.69 569.95,976.58 570.25,976.64 570.56,976.84 570.87,977.14 571.18,977.52 571.48,977.93 571.79,978.36 572.10,978.77 572.41,979.13 572.71,979.40 573.02,979.59 573.33,979.75 573.63,979.91 573.94,980.06 574.25,980.21 574.56,980.34 574.87,980.46 575.17,980.56 575.48,980.64 575.79,980.69 576.10,980.72 576.40,980.73 576.71,980.73 577.02,980.73 577.33,980.73 577.63,980.73 577.94,980.73 578.25,980.73 578.56,980.73 578.86,980.73 579.17,980.73 579.48,980.73 579.79,980.73 580.09,980.73 580.40,980.73 580.71,980.74 581.02,980.78 581.32,980.82 581.63,980.89 581.94,980.96 582.25,981.04 582.55,981.13 582.86,981.23 583.17,981.33 583.48,981.46 583.78,981.66 584.09,981.91 584.40,982.17 584.71,982.43 585.01,982.67 585.32,982.85 585.63,982.96 585.94,983.04 586.24,983.11 586.55,983.17 586.86,983.22 587.17,983.27 587.47,983.32 587.78,983.36 588.09,983.41 588.40,983.45 588.70,983.50 589.01,983.55 589.32,983.61 589.62,983.68 589.93,983.75 590.24,983.82 590.55,983.89 590.86,983.95 591.16,984.01 591.47,984.07 591.78,984.11 592.09,984.13 592.39,984.15 592.70,984.13 593.01,984.06 593.32,983.96 593.62,983.82 593.93,983.66 594.24,983.49 594.55,983.31 594.85,983.13 595.16,982.96 595.47,982.81 595.78,982.69 596.08,982.60 596.39,982.56 596.70,982.57 597.01,982.61 597.31,982.68 597.62,982.78 597.93,982.90 598.24,983.04 598.54,983.19 598.85,983.35 599.16,983.52 599.47,983.68 599.77,983.83 600.08,983.98 600.39,984.11 600.70,984.24 601.00,984.38 601.31,984.53 601.62,984.68 601.93,984.81 602.23,984.92 602.54,984.98 602.85,985.00 603.16,985.00 603.46,985.00 603.77,985.00 604.08,985.00 604.38,985.00 604.69,985.00 605.00,985.00 605.0,985.0"/></clipPath><polygon points="531.2,985.0 531.20,985.00 531.51,985.00 531.82,985.00 532.12,985.00 532.43,985.00 532.74,985.00 533.05,985.00 533.35,985.00 533.66,985.00 533.97,985.00 534.28,985.00 534.58,985.00 534.89,985.00 535.20,985.00 535.50,985.00 535.81,985.00 536.12,985.00 536.43,985.00 536.74,985.00 537.04,985.00 537.35,985.00 537.66,985.00 537.97,985.00 538.27,985.00 538.58,985.00 538.89,985.00 539.20,985.00 539.50,985.00 539.81,985.00 540.12,985.00 540.43,985.00 540.73,985.00 541.04,985.00 541.35,985.00 541.66,985.00 541.96,985.00 542.27,985.00 542.58,985.00 542.88,985.00 543.19,985.00 543.50,985.00 543.81,985.00 544.12,984.96 544.42,984.58 544.73,983.87 545.04,982.97 545.35,981.98 545.65,981.04 545.96,980.15 546.27,979.07 546.58,977.85 546.88,976.59 547.19,975.36 547.50,974.26 547.81,973.37 548.11,972.77 548.42,972.55 548.73,972.73 549.04,973.21 549.34,973.92 549.65,974.77 549.96,975.70 550.27,976.62 550.57,977.45 550.88,978.12 551.19,978.62 551.50,979.13 551.80,979.62 552.11,980.07 552.42,980.42 552.73,980.66 553.03,980.72 553.34,980.48 553.65,979.91 553.96,979.12 554.26,978.21 554.57,977.30 554.88,976.47 555.19,975.84 555.49,975.51 555.80,975.53 556.11,975.82 556.42,976.31 556.72,976.94 557.03,977.67 557.34,978.44 557.65,979.21 557.95,979.91 558.26,980.50 558.57,980.96 558.88,981.42 559.18,981.89 559.49,982.35 559.80,982.78 560.11,983.15 560.41,983.46 560.72,983.67 561.03,983.77 561.34,983.72 561.64,983.45 561.95,983.01 562.26,982.46 562.57,981.85 562.87,981.21 563.18,980.61 563.49,980.10 563.80,979.72 564.10,979.52 564.41,979.53 564.72,979.66 565.03,979.85 565.33,980.09 565.64,980.33 565.95,980.54 566.26,980.68 566.56,980.73 566.87,980.61 567.18,980.34 567.49,979.94 567.79,979.46 568.10,978.92 568.41,978.36 568.72,977.83 569.02,977.35 569.33,976.95 569.64,976.69 569.95,976.58 570.25,976.64 570.56,976.84 570.87,977.14 571.18,977.52 571.48,977.93 571.79,978.36 572.10,978.77 572.41,979.13 572.71,979.40 573.02,979.59 573.33,979.75 573.63,979.91 573.94,980.06 574.25,980.21 574.56,980.34 574.87,980.46 575.17,980.56 575.48,980.64 575.79,980.69 576.10,980.72 576.40,980.73 576.71,980.73 577.02,980.73 577.33,980.73 577.63,980.73 577.94,980.73 578.25,980.73 578.56,980.73 578.86,980.73 579.17,980.73 579.48,980.73 579.79,980.73 580.09,980.73 580.40,980.73 580.71,980.74 581.02,980.78 581.32,980.82 581.63,980.89 581.94,980.96 582.25,981.04 582.55,981.13 582.86,981.23 583.17,981.33 583.48,981.46 583.78,981.66 584.09,981.91 584.40,982.17 584.71,982.43 585.01,982.67 585.32,982.85 585.63,982.96 585.94,983.04 586.24,983.11 586.55,983.17 586.86,983.22 587.17,983.27 587.47,983.32 587.78,983.36 588.09,983.41 588.40,983.45 588.70,983.50 589.01,983.55 589.32,983.61 589.62,983.68 589.93,983.75 590.24,983.82 590.55,983.89 590.86,983.95 591.16,984.01 591.47,984.07 591.78,984.11 592.09,984.13 592.39,984.15 592.70,984.13 593.01,984.06 593.32,983.96 593.62,983.82 593.93,983.66 594.24,983.49 594.55,983.31 594.85,983.13 595.16,982.96 595.47,982.81 595.78,982.69 596.08,982.60 596.39,982.56 596.70,982.57 597.01,982.61 597.31,982.68 597.62,982.78 597.93,982.90 598.24,983.04 598.54,983.19 598.85,983.35 599.16,983.52 599.47,983.68 599.77,983.83 600.08,983.98 600.39,984.11 600.70,984.24 601.00,984.38 601.31,984.53 601.62,984.68 601.93,984.81 602.23,984.92 602.54,984.98 602.85,985.00 603.16,985.00 603.46,985.00 603.77,985.00 604.08,985.00 604.38,985.00 604.69,985.00 605.00,985.00 605.0,985.0" fill="#111" stroke="#111" stroke-width="0.6"/><path d="M534.2,740.9V984.2M537.9,740.9V984.2M541.6,740.9V984.2M545.3,740.9V984.2M549.0,740.9V984.2M552.7,740.9V984.2M556.4,740.9V984.2M560.1,740.9V984.2M563.8,740.9V984.2M567.5,740.9V984.2M571.2,740.9V984.2M574.9,740.9V984.2M578.6,740.9V984.2M582.3,740.9V984.2M586.0,740.9V984.2M589.7,740.9V984.2M593.4,740.9V984.2M597.1,740.9V984.2M600.8,740.9V984.2" stroke="#c8c8c8" stroke-width="0.9" clip-path="url(#lf4)"/><polyline points="531.20,985.00 531.51,985.00 531.82,985.00 532.12,985.00 532.43,985.00 532.74,985.00 533.05,985.00 533.35,985.00 533.66,985.00 533.97,985.00 534.28,985.00 534.58,985.00 534.89,985.00 535.20,985.00 535.50,985.00 535.81,985.00 536.12,985.00 536.43,985.00 536.74,985.00 537.04,985.00 537.35,985.00 537.66,985.00 537.97,985.00 538.27,985.00 538.58,985.00 538.89,985.00 539.20,985.00 539.50,985.00 539.81,985.00 540.12,985.00 540.43,985.00 540.73,985.00 541.04,985.00 541.35,985.00 541.66,985.00 541.96,985.00 542.27,985.00 542.58,985.00 542.88,985.00 543.19,985.00 543.50,985.00 543.81,985.00 544.12,984.96 544.42,984.58 544.73,983.87 545.04,982.97 545.35,981.98 545.65,981.04 545.96,980.15 546.27,979.07 546.58,977.85 546.88,976.59 547.19,975.36 547.50,974.26 547.81,973.37 548.11,972.77 548.42,972.55 548.73,972.73 549.04,973.21 549.34,973.92 549.65,974.77 549.96,975.70 550.27,976.62 550.57,977.45 550.88,978.12 551.19,978.62 551.50,979.13 551.80,979.62 552.11,980.07 552.42,980.42 552.73,980.66 553.03,980.72 553.34,980.48 553.65,979.91 553.96,979.12 554.26,978.21 554.57,977.30 554.88,976.47 555.19,975.84 555.49,975.51 555.80,975.53 556.11,975.82 556.42,976.31 556.72,976.94 557.03,977.67 557.34,978.44 557.65,979.21 557.95,979.91 558.26,980.50 558.57,980.96 558.88,981.42 559.18,981.89 559.49,982.35 559.80,982.78 560.11,983.15 560.41,983.46 560.72,983.67 561.03,983.77 561.34,983.72 561.64,983.45 561.95,983.01 562.26,982.46 562.57,981.85 562.87,981.21 563.18,980.61 563.49,980.10 563.80,979.72 564.10,979.52 564.41,979.53 564.72,979.66 565.03,979.85 565.33,980.09 565.64,980.33 565.95,980.54 566.26,980.68 566.56,980.73 566.87,980.61 567.18,980.34 567.49,979.94 567.79,979.46 568.10,978.92 568.41,978.36 568.72,977.83 569.02,977.35 569.33,976.95 569.64,976.69 569.95,976.58 570.25,976.64 570.56,976.84 570.87,977.14 571.18,977.52 571.48,977.93 571.79,978.36 572.10,978.77 572.41,979.13 572.71,979.40 573.02,979.59 573.33,979.75 573.63,979.91 573.94,980.06 574.25,980.21 574.56,980.34 574.87,980.46 575.17,980.56 575.48,980.64 575.79,980.69 576.10,980.72 576.40,980.73 576.71,980.73 577.02,980.73 577.33,980.73 577.63,980.73 577.94,980.73 578.25,980.73 578.56,980.73 578.86,980.73 579.17,980.73 579.48,980.73 579.79,980.73 580.09,980.73 580.40,980.73 580.71,980.74 581.02,980.78 581.32,980.82 581.63,980.89 581.94,980.96 582.25,981.04 582.55,981.13 582.86,981.23 583.17,981.33 583.48,981.46 583.78,981.66 584.09,981.91 584.40,982.17 584.71,982.43 585.01,982.67 585.32,982.85 585.63,982.96 585.94,983.04 586.24,983.11 586.55,983.17 586.86,983.22 587.17,983.27 587.47,983.32 587.78,983.36 588.09,983.41 588.40,983.45 588.70,983.50 589.01,983.55 589.32,983.61 589.62,983.68 589.93,983.75 590.24,983.82 590.55,983.89 590.86,983.95 591.16,984.01 591.47,984.07 591.78,984.11 592.09,984.13 592.39,984.15 592.70,984.13 593.01,984.06 593.32,983.96 593.62,983.82 593.93,983.66 594.24,983.49 594.55,983.31 594.85,983.13 595.16,982.96 595.47,982.81 595.78,982.69 596.08,982.60 596.39,982.56 596.70,982.57 597.01,982.61 597.31,982.68 597.62,982.78 597.93,982.90 598.24,983.04 598.54,983.19 598.85,983.35 599.16,983.52 599.47,983.68 599.77,983.83 600.08,983.98 600.39,984.11 600.70,984.24 601.00,984.38 601.31,984.53 601.62,984.68 601.93,984.81 602.23,984.92 602.54,984.98 602.85,985.00 603.16,985.00 603.46,985.00 603.77,985.00 604.08,985.00 604.38,985.00 604.69,985.00 605.00,985.00 605.31,985.00 605.62,985.00 605.92,985.00 606.23,985.00 606.54,985.00 606.85,985.00 607.15,985.00 607.46,985.00 607.77,985.00 608.08,985.00 608.38,985.00 608.69,985.00 609.00,985.00 609.31,985.00 609.61,985.00 609.92,985.00 610.23,985.00 610.54,985.00 610.84,985.00 611.15,985.00 611.46,985.00 611.77,985.00 612.07,985.00 612.38,985.00 612.69,985.00 613.00,985.00 613.30,985.00 613.61,985.00 613.92,985.00 614.23,985.00 614.53,985.00 614.84,985.00 615.15,985.00 615.46,985.00 615.76,985.00 616.07,985.00 616.38,985.00 616.69,985.00 616.99,985.00 617.30,985.00 617.61,985.00 617.92,985.00 618.22,985.00 618.53,985.00 618.84,985.00 619.14,985.00 619.45,985.00 619.76,985.00 620.07,985.00 620.38,985.00 620.68,985.00 620.99,985.00 621.30,985.00 621.61,985.00 621.91,985.00 622.22,985.00 622.53,985.00 622.84,985.00 623.14,985.00 623.45,985.00 623.76,985.00 624.07,985.00 624.37,985.00 624.68,985.00 624.99,985.00 625.30,985.00 625.60,985.00 625.91,985.00 626.22,985.00 626.53,985.00 626.83,985.00 627.14,985.00 627.45,985.00 627.76,985.00 628.06,985.00 628.37,985.00 628.68,985.00 628.99,985.00 629.29,985.00 629.60,985.00 629.91,985.00 630.22,985.00 630.52,985.00 630.83,985.00 631.14,985.00 631.45,985.00 631.75,985.00 632.06,985.00 632.37,985.00 632.68,985.00 632.98,985.00 633.29,985.00 633.60,985.00 633.91,985.00 634.21,985.00 634.52,985.00 634.83,985.00 635.13,985.00 635.44,985.00 635.75,985.00 636.06,985.00 636.37,985.00 636.67,985.00 636.98,984.80 637.29,984.04 637.60,982.82 637.90,981.24 638.21,979.41 638.52,977.43 638.83,975.42 639.13,973.45 639.44,971.05 639.75,968.24 640.06,965.27 640.36,962.38 640.67,959.83 640.98,957.64 641.29,955.35 641.59,953.06 641.90,950.90 642.21,949.03 642.52,947.59 642.82,946.73 643.13,946.58 643.44,947.00 643.75,947.86 644.05,949.06 644.36,950.51 644.67,952.11 644.98,953.77 645.28,955.39 645.59,957.09 645.90,959.17 646.21,961.50 646.51,963.93 646.82,966.34 647.13,968.56 647.44,970.47 647.74,971.94 648.05,973.22 648.36,974.42 648.67,975.55 648.97,976.60 649.28,977.56 649.59,978.44 649.89,979.23 650.20,979.94 650.51,980.55 650.82,981.09 651.12,981.60 651.43,982.08 651.74,982.54 652.05,982.95 652.36,983.32 652.66,983.63 652.97,983.89 653.28,984.08 653.59,984.22 653.89,984.34 654.20,984.45 654.51,984.56 654.82,984.66 655.12,984.75 655.43,984.82 655.74,984.89 656.05,984.94 656.35,984.97 656.66,984.99 656.97,985.00 657.28,985.00 657.58,985.00 657.89,985.00 658.20,985.00 658.50,985.00 658.81,985.00 659.12,985.00 659.43,985.00 659.74,985.00 660.04,985.00 660.35,985.00 660.66,985.00 660.97,985.00 661.27,985.00 661.58,985.00 661.89,985.00 662.20,985.00 662.50,985.00 662.81,985.00 663.12,985.00 663.43,985.00 663.73,985.00 664.04,985.00 664.35,985.00 664.65,985.00 664.96,985.00 665.27,985.00 665.58,985.00 665.88,985.00 666.19,985.00 666.50,985.00 666.81,985.00 667.12,985.00 667.42,985.00 667.73,985.00 668.04,985.00 668.35,985.00 668.65,985.00 668.96,985.00 669.27,984.97 669.58,984.88 669.88,984.75 670.19,984.58 670.50,984.38 670.81,984.17 671.11,983.96 671.42,983.75 671.73,983.56 672.04,983.39 672.34,983.27 672.65,983.19 672.96,983.17 673.27,983.21 673.57,983.31 673.88,983.46 674.19,983.63 674.50,983.83 674.80,984.04 675.11,984.26 675.42,984.46 675.73,984.65 676.03,984.80 676.34,984.92 676.65,984.99 676.96,985.00 677.26,985.00 677.57,985.00 677.88,985.00 678.19,985.00 678.49,985.00 678.80,985.00 679.11,985.00 679.42,985.00 679.72,985.00 680.03,985.00 680.34,985.00 680.65,985.00 680.95,985.00 681.26,985.00 681.57,985.00 681.88,985.00 682.18,985.00 682.49,985.00 682.80,985.00 683.11,985.00 683.41,985.00 683.72,985.00 684.03,985.00 684.34,985.00 684.64,985.00 684.95,985.00 685.26,985.00 685.57,985.00 685.87,985.00 686.18,985.00 686.49,985.00 686.80,985.00 687.10,985.00 687.41,985.00 687.72,985.00 688.03,985.00 688.33,985.00 688.64,985.00 688.95,985.00 689.25,985.00 689.56,985.00 689.87,985.00 690.18,985.00 690.49,985.00 690.79,985.00 691.10,985.00 691.41,985.00 691.72,985.00 692.02,985.00 692.33,985.00 692.64,985.00 692.95,985.00 693.25,985.00 693.56,985.00 693.87,985.00 694.18,985.00 694.48,985.00 694.79,985.00 695.10,985.00 695.40,985.00 695.71,985.00 696.02,985.00 696.33,985.00 696.63,985.00 696.94,985.00 697.25,985.00 697.56,985.00 697.87,985.00 698.17,985.00 698.48,985.00 698.79,985.00 699.10,985.00 699.40,985.00 699.71,985.00 700.02,985.00 700.33,985.00 700.63,985.00 700.94,985.00 701.25,985.00 701.56,985.00 701.86,985.00 702.17,985.00 702.48,985.00 702.79,985.00 703.09,985.00 703.40,985.00 703.71,985.00 704.02,985.00 704.32,985.00 704.63,985.00 704.94,985.00 705.25,985.00 705.55,985.00 705.86,985.00 706.17,985.00 706.48,985.00 706.78,985.00 707.09,985.00 707.40,985.00 707.71,985.00 708.01,985.00 708.32,985.00 708.63,985.00 708.94,985.00 709.24,985.00 709.55,985.00 709.86,985.00 710.17,985.00 710.47,985.00 710.78,985.00 711.09,985.00 711.40,985.00 711.70,985.00 712.01,985.00 712.32,985.00 712.62,985.00 712.93,985.00 713.24,985.00 713.55,985.00 713.86,985.00 714.16,985.00 714.47,985.00 714.78,985.00 715.09,985.00 715.39,985.00 715.70,985.00 716.01,985.00 716.32,985.00 716.62,985.00 716.93,985.00 717.24,985.00 717.55,985.00 717.85,985.00 718.16,985.00 718.47,985.00 718.78,985.00 719.08,985.00 719.39,985.00 719.70,985.00 720.01,985.00 720.31,985.00 720.62,985.00 720.93,985.00 721.24,985.00 721.54,985.00 721.85,985.00 722.16,985.00 722.47,985.00 722.77,985.00 723.08,985.00 723.39,985.00 723.70,985.00 724.00,985.00 724.31,985.00 724.62,985.00 724.93,985.00 725.23,985.00 725.54,985.00 725.85,985.00 726.15,985.00 726.46,985.00 726.77,985.00 727.08,985.00 727.38,985.00 727.69,985.00 728.00,985.00 728.31,985.00 728.62,985.00 728.92,985.00 729.23,985.00 729.54,985.00 729.85,985.00 730.15,985.00 730.46,985.00 730.77,985.00 731.08,985.00 731.38,985.00 731.69,985.00 732.00,985.00 732.31,985.00 732.61,985.00 732.92,985.00 733.23,985.00 733.54,985.00 733.84,985.00 734.15,985.00 734.46,985.00 734.77,985.00 735.07,985.00 735.38,985.00 735.69,985.00 736.00,985.00 736.30,985.00 736.61,985.00 736.92,985.00 737.23,985.00 737.53,985.00 737.84,985.00 738.15,985.00 738.46,985.00 738.76,985.00 739.07,985.00 739.38,985.00 739.69,985.00 739.99,985.00 740.30,985.00 740.61,985.00 740.92,985.00 741.22,985.00 741.53,985.00 741.84,985.00 742.15,985.00 742.45,985.00 742.76,985.00 743.07,985.00 743.38,985.00 743.68,985.00 743.99,985.00 744.30,985.00 744.61,985.00 744.91,985.00 745.22,985.00 745.53,985.00 745.84,985.00 746.14,985.00 746.45,985.00 746.76,985.00 747.07,985.00 747.37,985.00 747.68,985.00 747.99,985.00 748.30,985.00 748.60,985.00 748.91,985.00 749.22,985.00 749.53,985.00 749.83,985.00 750.14,985.00 750.45,984.95 750.76,984.80 751.06,984.58 751.37,984.29 751.68,983.97 751.99,983.62 752.29,983.26 752.60,982.91 752.91,982.60 753.22,982.32 753.52,982.11 753.83,981.98 754.14,981.95 754.45,982.01 754.75,982.14 755.06,982.33 755.37,982.58 755.68,982.85 755.98,983.16 756.29,983.47 756.60,983.79 756.90,984.09 757.21,984.37 757.52,984.61 757.83,984.81 758.13,984.94 758.44,985.00 758.75,985.00 759.06,985.00 759.37,985.00 759.67,985.00 759.98,985.00 760.29,985.00 760.60,985.00 760.90,985.00 761.21,985.00 761.52,985.00 761.83,985.00 762.13,985.00 762.44,985.00 762.75,985.00 763.06,985.00 763.36,985.00 763.67,985.00 763.98,985.00 764.29,985.00 764.59,985.00 764.90,985.00 765.21,985.00 765.52,985.00 765.82,985.00 766.13,985.00 766.44,985.00 766.75,985.00 767.05,985.00 767.36,985.00 767.67,985.00 767.98,985.00 768.28,985.00 768.59,985.00 768.90,985.00 769.21,985.00 769.51,985.00 769.82,985.00 770.13,985.00 770.44,985.00 770.74,985.00 771.05,985.00 771.36,985.00 771.67,985.00 771.97,985.00 772.28,985.00 772.59,985.00 772.90,985.00 773.20,985.00 773.51,985.00 773.82,985.00 774.12,985.00 774.43,985.00 774.74,985.00 775.05,985.00 775.36,985.00 775.66,985.00 775.97,985.00 776.28,985.00 776.59,985.00 776.89,985.00 777.20,985.00" fill="none" stroke="#5a5a5a" stroke-width="1.2" stroke-linejoin="round"/><path d="M850.9,814.1V985.0H1096.6M850.9,814.1H855.9M850.9,899.5H855.9M900.0,985.0V979.5M949.2,985.0V979.5M998.3,985.0V979.5M1047.5,985.0V979.5M1096.6,985.0V979.5" fill="none" stroke="#505050" stroke-width="1.2"/><clipPath id="lf5"><polygon points="850.9,985.0 850.90,985.00 851.21,985.00 851.51,985.00 851.82,985.00 852.13,985.00 852.44,984.99 852.74,984.99 853.05,984.99 853.36,984.98 853.66,984.98 853.97,984.98 854.28,984.97 854.59,984.96 854.89,984.96 855.20,984.95 855.51,984.94 855.81,984.94 856.12,984.93 856.43,984.92 856.74,984.91 857.04,984.90 857.35,984.89 857.66,984.88 857.96,984.87 858.27,984.86 858.58,984.85 858.89,984.83 859.19,984.82 859.50,984.81 859.81,984.79 860.11,984.78 860.42,984.77 860.73,984.75 861.04,984.73 861.34,984.72 861.65,984.70 861.96,984.69 862.26,984.67 862.57,984.65 862.88,984.63 863.18,984.61 863.49,984.57 863.80,984.53 864.11,984.48 864.41,984.43 864.72,984.37 865.03,984.30 865.33,984.23 865.64,984.16 865.95,984.08 866.26,984.00 866.56,983.92 866.87,983.84 867.18,983.76 867.48,983.68 867.79,983.60 868.10,983.52 868.41,983.43 868.71,983.34 869.02,983.24 869.33,983.14 869.63,983.04 869.94,982.92 870.25,982.80 870.56,982.67 870.86,982.53 871.17,982.38 871.48,982.21 871.78,982.00 872.09,981.75 872.40,981.46 872.71,981.16 873.01,980.83 873.32,980.50 873.63,980.16 873.93,979.83 874.24,979.52 874.55,979.22 874.86,978.96 875.16,978.68 875.47,978.39 875.78,978.09 876.08,977.79 876.39,977.49 876.70,977.19 877.01,976.91 877.31,976.65 877.62,976.41 877.93,976.21 878.23,976.05 878.54,975.93 878.85,975.86 879.16,975.85 879.46,975.94 879.77,976.13 880.08,976.41 880.38,976.75 880.69,977.14 881.00,977.56 881.31,978.00 881.61,978.44 881.92,978.87 882.23,979.27 882.53,979.62 882.84,979.95 883.15,980.30 883.46,980.66 883.76,981.04 884.07,981.42 884.38,981.79 884.68,982.15 884.99,982.49 885.30,982.81 885.61,983.10 885.91,983.35 886.22,983.55 886.53,983.70 886.83,983.79 887.14,983.86 887.45,983.92 887.75,983.98 888.06,984.03 888.37,984.08 888.68,984.12 888.98,984.16 889.29,984.20 889.60,984.23 889.90,984.26 890.21,984.29 890.52,984.32 890.83,984.35 891.13,984.38 891.44,984.41 891.75,984.44 892.05,984.47 892.36,984.51 892.67,984.55 892.98,984.59 893.28,984.64 893.59,984.69 893.90,984.73 894.20,984.78 894.51,984.82 894.82,984.87 895.13,984.90 895.43,984.94 895.74,984.96 896.05,984.98 896.35,985.00 896.66,985.00 896.97,984.98 897.28,984.93 897.58,984.85 897.89,984.75 898.20,984.63 898.50,984.50 898.81,984.36 899.12,984.21 899.43,984.06 899.73,983.91 900.04,983.76 900.35,983.62 900.65,983.50 900.96,983.39 901.27,983.29 901.58,983.22 901.88,983.18 902.19,983.17 902.50,983.17 902.80,983.19 903.11,983.21 903.42,983.23 903.73,983.26 904.03,983.30 904.34,983.34 904.65,983.38 904.95,983.43 905.26,983.47 905.57,983.52 905.88,983.57 906.18,983.62 906.49,983.66 906.80,983.71 907.10,983.75 907.41,983.79 907.72,983.82 908.03,983.85 908.33,983.87 908.64,983.89 908.95,983.90 909.25,983.90 909.56,983.90 909.87,983.90 910.18,983.90 910.48,983.90 910.79,983.90 911.10,983.90 911.40,983.90 911.71,983.90 912.02,983.90 912.32,983.90 912.63,983.90 912.94,983.90 913.25,983.90 913.55,983.90 913.86,983.90 914.17,983.90 914.47,983.90 914.78,983.90 915.09,983.90 915.40,983.90 915.70,983.90 916.01,983.90 916.32,983.90 916.62,983.90 916.93,983.90 917.24,983.90 917.55,983.90 917.85,983.91 918.16,983.95 918.47,984.02 918.77,984.10 919.08,984.21 919.39,984.32 919.70,984.44 920.00,984.56 920.31,984.68 920.62,984.78 920.92,984.87 921.23,984.94 921.54,984.99 921.85,985.00 922.15,985.00 922.46,985.00 922.77,985.00 923.07,984.99 923.38,984.99 923.69,984.98 924.00,984.97 924.30,984.97 924.61,984.96 924.6,985.0"/></clipPath><polygon points="850.9,985.0 850.90,985.00 851.21,985.00 851.51,985.00 851.82,985.00 852.13,985.00 852.44,984.99 852.74,984.99 853.05,984.99 853.36,984.98 853.66,984.98 853.97,984.98 854.28,984.97 854.59,984.96 854.89,984.96 855.20,984.95 855.51,984.94 855.81,984.94 856.12,984.93 856.43,984.92 856.74,984.91 857.04,984.90 857.35,984.89 857.66,984.88 857.96,984.87 858.27,984.86 858.58,984.85 858.89,984.83 859.19,984.82 859.50,984.81 859.81,984.79 860.11,984.78 860.42,984.77 860.73,984.75 861.04,984.73 861.34,984.72 861.65,984.70 861.96,984.69 862.26,984.67 862.57,984.65 862.88,984.63 863.18,984.61 863.49,984.57 863.80,984.53 864.11,984.48 864.41,984.43 864.72,984.37 865.03,984.30 865.33,984.23 865.64,984.16 865.95,984.08 866.26,984.00 866.56,983.92 866.87,983.84 867.18,983.76 867.48,983.68 867.79,983.60 868.10,983.52 868.41,983.43 868.71,983.34 869.02,983.24 869.33,983.14 869.63,983.04 869.94,982.92 870.25,982.80 870.56,982.67 870.86,982.53 871.17,982.38 871.48,982.21 871.78,982.00 872.09,981.75 872.40,981.46 872.71,981.16 873.01,980.83 873.32,980.50 873.63,980.16 873.93,979.83 874.24,979.52 874.55,979.22 874.86,978.96 875.16,978.68 875.47,978.39 875.78,978.09 876.08,977.79 876.39,977.49 876.70,977.19 877.01,976.91 877.31,976.65 877.62,976.41 877.93,976.21 878.23,976.05 878.54,975.93 878.85,975.86 879.16,975.85 879.46,975.94 879.77,976.13 880.08,976.41 880.38,976.75 880.69,977.14 881.00,977.56 881.31,978.00 881.61,978.44 881.92,978.87 882.23,979.27 882.53,979.62 882.84,979.95 883.15,980.30 883.46,980.66 883.76,981.04 884.07,981.42 884.38,981.79 884.68,982.15 884.99,982.49 885.30,982.81 885.61,983.10 885.91,983.35 886.22,983.55 886.53,983.70 886.83,983.79 887.14,983.86 887.45,983.92 887.75,983.98 888.06,984.03 888.37,984.08 888.68,984.12 888.98,984.16 889.29,984.20 889.60,984.23 889.90,984.26 890.21,984.29 890.52,984.32 890.83,984.35 891.13,984.38 891.44,984.41 891.75,984.44 892.05,984.47 892.36,984.51 892.67,984.55 892.98,984.59 893.28,984.64 893.59,984.69 893.90,984.73 894.20,984.78 894.51,984.82 894.82,984.87 895.13,984.90 895.43,984.94 895.74,984.96 896.05,984.98 896.35,985.00 896.66,985.00 896.97,984.98 897.28,984.93 897.58,984.85 897.89,984.75 898.20,984.63 898.50,984.50 898.81,984.36 899.12,984.21 899.43,984.06 899.73,983.91 900.04,983.76 900.35,983.62 900.65,983.50 900.96,983.39 901.27,983.29 901.58,983.22 901.88,983.18 902.19,983.17 902.50,983.17 902.80,983.19 903.11,983.21 903.42,983.23 903.73,983.26 904.03,983.30 904.34,983.34 904.65,983.38 904.95,983.43 905.26,983.47 905.57,983.52 905.88,983.57 906.18,983.62 906.49,983.66 906.80,983.71 907.10,983.75 907.41,983.79 907.72,983.82 908.03,983.85 908.33,983.87 908.64,983.89 908.95,983.90 909.25,983.90 909.56,983.90 909.87,983.90 910.18,983.90 910.48,983.90 910.79,983.90 911.10,983.90 911.40,983.90 911.71,983.90 912.02,983.90 912.32,983.90 912.63,983.90 912.94,983.90 913.25,983.90 913.55,983.90 913.86,983.90 914.17,983.90 914.47,983.90 914.78,983.90 915.09,983.90 915.40,983.90 915.70,983.90 916.01,983.90 916.32,983.90 916.62,983.90 916.93,983.90 917.24,983.90 917.55,983.90 917.85,983.91 918.16,983.95 918.47,984.02 918.77,984.10 919.08,984.21 919.39,984.32 919.70,984.44 920.00,984.56 920.31,984.68 920.62,984.78 920.92,984.87 921.23,984.94 921.54,984.99 921.85,985.00 922.15,985.00 922.46,985.00 922.77,985.00 923.07,984.99 923.38,984.99 923.69,984.98 924.00,984.97 924.30,984.97 924.61,984.96 924.6,985.0" fill="#111" stroke="#111" stroke-width="0.6"/><path d="M853.9,740.9V984.2M857.6,740.9V984.2M861.3,740.9V984.2M865.0,740.9V984.2M868.7,740.9V984.2M872.4,740.9V984.2M876.1,740.9V984.2M879.8,740.9V984.2M883.5,740.9V984.2M887.2,740.9V984.2M890.9,740.9V984.2M894.6,740.9V984.2M898.3,740.9V984.2M902.0,740.9V984.2M905.7,740.9V984.2M909.4,740.9V984.2M913.1,740.9V984.2M916.8,740.9V984.2M920.5,740.9V984.2" stroke="#c8c8c8" stroke-width="0.9" clip-path="url(#lf5)"/><polyline points="850.90,985.00 851.21,985.00 851.51,985.00 851.82,985.00 852.13,985.00 852.44,984.99 852.74,984.99 853.05,984.99 853.36,984.98 853.66,984.98 853.97,984.98 854.28,984.97 854.59,984.96 854.89,984.96 855.20,984.95 855.51,984.94 855.81,984.94 856.12,984.93 856.43,984.92 856.74,984.91 857.04,984.90 857.35,984.89 857.66,984.88 857.96,984.87 858.27,984.86 858.58,984.85 858.89,984.83 859.19,984.82 859.50,984.81 859.81,984.79 860.11,984.78 860.42,984.77 860.73,984.75 861.04,984.73 861.34,984.72 861.65,984.70 861.96,984.69 862.26,984.67 862.57,984.65 862.88,984.63 863.18,984.61 863.49,984.57 863.80,984.53 864.11,984.48 864.41,984.43 864.72,984.37 865.03,984.30 865.33,984.23 865.64,984.16 865.95,984.08 866.26,984.00 866.56,983.92 866.87,983.84 867.18,983.76 867.48,983.68 867.79,983.60 868.10,983.52 868.41,983.43 868.71,983.34 869.02,983.24 869.33,983.14 869.63,983.04 869.94,982.92 870.25,982.80 870.56,982.67 870.86,982.53 871.17,982.38 871.48,982.21 871.78,982.00 872.09,981.75 872.40,981.46 872.71,981.16 873.01,980.83 873.32,980.50 873.63,980.16 873.93,979.83 874.24,979.52 874.55,979.22 874.86,978.96 875.16,978.68 875.47,978.39 875.78,978.09 876.08,977.79 876.39,977.49 876.70,977.19 877.01,976.91 877.31,976.65 877.62,976.41 877.93,976.21 878.23,976.05 878.54,975.93 878.85,975.86 879.16,975.85 879.46,975.94 879.77,976.13 880.08,976.41 880.38,976.75 880.69,977.14 881.00,977.56 881.31,978.00 881.61,978.44 881.92,978.87 882.23,979.27 882.53,979.62 882.84,979.95 883.15,980.30 883.46,980.66 883.76,981.04 884.07,981.42 884.38,981.79 884.68,982.15 884.99,982.49 885.30,982.81 885.61,983.10 885.91,983.35 886.22,983.55 886.53,983.70 886.83,983.79 887.14,983.86 887.45,983.92 887.75,983.98 888.06,984.03 888.37,984.08 888.68,984.12 888.98,984.16 889.29,984.20 889.60,984.23 889.90,984.26 890.21,984.29 890.52,984.32 890.83,984.35 891.13,984.38 891.44,984.41 891.75,984.44 892.05,984.47 892.36,984.51 892.67,984.55 892.98,984.59 893.28,984.64 893.59,984.69 893.90,984.73 894.20,984.78 894.51,984.82 894.82,984.87 895.13,984.90 895.43,984.94 895.74,984.96 896.05,984.98 896.35,985.00 896.66,985.00 896.97,984.98 897.28,984.93 897.58,984.85 897.89,984.75 898.20,984.63 898.50,984.50 898.81,984.36 899.12,984.21 899.43,984.06 899.73,983.91 900.04,983.76 900.35,983.62 900.65,983.50 900.96,983.39 901.27,983.29 901.58,983.22 901.88,983.18 902.19,983.17 902.50,983.17 902.80,983.19 903.11,983.21 903.42,983.23 903.73,983.26 904.03,983.30 904.34,983.34 904.65,983.38 904.95,983.43 905.26,983.47 905.57,983.52 905.88,983.57 906.18,983.62 906.49,983.66 906.80,983.71 907.10,983.75 907.41,983.79 907.72,983.82 908.03,983.85 908.33,983.87 908.64,983.89 908.95,983.90 909.25,983.90 909.56,983.90 909.87,983.90 910.18,983.90 910.48,983.90 910.79,983.90 911.10,983.90 911.40,983.90 911.71,983.90 912.02,983.90 912.32,983.90 912.63,983.90 912.94,983.90 913.25,983.90 913.55,983.90 913.86,983.90 914.17,983.90 914.47,983.90 914.78,983.90 915.09,983.90 915.40,983.90 915.70,983.90 916.01,983.90 916.32,983.90 916.62,983.90 916.93,983.90 917.24,983.90 917.55,983.90 917.85,983.91 918.16,983.95 918.47,984.02 918.77,984.10 919.08,984.21 919.39,984.32 919.70,984.44 920.00,984.56 920.31,984.68 920.62,984.78 920.92,984.87 921.23,984.94 921.54,984.99 921.85,985.00 922.15,985.00 922.46,985.00 922.77,985.00 923.07,984.99 923.38,984.99 923.69,984.98 924.00,984.97 924.30,984.97 924.61,984.96 924.92,984.95 925.22,984.94 925.53,984.93 925.84,984.92 926.15,984.90 926.45,984.89 926.76,984.87 927.07,984.86 927.37,984.84 927.68,984.82 927.99,984.80 928.30,984.78 928.60,984.76 928.91,984.74 929.22,984.72 929.52,984.69 929.83,984.67 930.14,984.64 930.45,984.61 930.75,984.52 931.06,984.39 931.37,984.22 931.67,984.01 931.98,983.77 932.29,983.51 932.60,983.23 932.90,982.93 933.21,982.63 933.52,982.32 933.82,982.02 934.13,981.72 934.44,981.44 934.75,981.18 935.05,980.95 935.36,980.75 935.67,980.58 935.97,980.46 936.28,980.38 936.59,980.36 936.89,980.40 937.20,980.51 937.51,980.67 937.82,980.87 938.12,981.11 938.43,981.39 938.74,981.68 939.04,981.99 939.35,982.30 939.66,982.61 939.97,982.90 940.27,983.18 940.58,983.43 940.89,983.64 941.19,983.81 941.50,983.93 941.81,984.03 942.12,984.14 942.42,984.24 942.73,984.33 943.04,984.43 943.34,984.52 943.65,984.60 943.96,984.68 944.27,984.75 944.57,984.81 944.88,984.87 945.19,984.91 945.49,984.95 945.80,984.98 946.11,985.00 946.42,985.00 946.72,984.79 947.03,984.31 947.34,983.64 947.64,982.86 947.95,982.04 948.26,981.26 948.57,980.61 948.87,980.16 949.18,980.00 949.49,980.01 949.79,980.04 950.10,980.09 950.41,980.15 950.72,980.23 951.02,980.31 951.33,980.41 951.64,980.51 951.94,980.61 952.25,980.71 952.56,980.81 952.87,980.92 953.17,981.04 953.48,981.19 953.79,981.36 954.09,981.54 954.40,981.73 954.71,981.93 955.02,982.12 955.32,982.31 955.63,982.49 955.94,982.66 956.24,982.81 956.55,982.94 956.86,983.05 957.17,983.12 957.47,983.16 957.78,983.15 958.09,983.03 958.39,982.79 958.70,982.47 959.01,982.06 959.32,981.59 959.62,981.08 959.93,980.53 960.24,979.98 960.54,979.41 960.85,978.61 961.16,977.58 961.46,976.38 961.77,975.07 962.08,973.73 962.39,972.41 962.69,971.18 963.00,970.12 963.31,969.27 963.61,968.72 963.92,968.52 964.23,968.62 964.54,968.89 964.84,969.30 965.15,969.83 965.46,970.43 965.76,971.10 966.07,971.78 966.38,972.45 966.69,973.09 966.99,973.73 967.30,974.47 967.61,975.28 967.91,976.12 968.22,976.96 968.53,977.76 968.84,978.49 969.14,979.11 969.45,979.60 969.76,979.97 970.06,980.32 970.37,980.63 970.68,980.92 970.99,981.19 971.29,981.44 971.60,981.68 971.91,981.90 972.21,982.12 972.52,982.33 972.83,982.53 973.14,982.74 973.44,982.95 973.75,983.17 974.06,983.41 974.36,983.67 974.67,983.93 974.98,984.20 975.29,984.44 975.59,984.66 975.90,984.83 976.21,984.95 976.51,985.00 976.82,985.00 977.13,984.99 977.44,984.99 977.74,984.98 978.05,984.97 978.36,984.95 978.66,984.94 978.97,984.92 979.28,984.90 979.59,984.88 979.89,984.85 980.20,984.83 980.51,984.80 980.81,984.77 981.12,984.74 981.43,984.71 981.74,984.68 982.04,984.64 982.35,984.61 982.66,984.58 982.96,984.54 983.27,984.50 983.58,984.47 983.89,984.43 984.19,984.40 984.50,984.36 984.81,984.32 985.11,984.29 985.42,984.25 985.73,984.21 986.03,984.18 986.34,984.15 986.65,984.11 986.96,984.08 987.26,984.05 987.57,984.02 987.88,983.99 988.18,983.96 988.49,983.94 988.80,983.91 989.11,983.89 989.41,983.87 989.72,983.85 990.03,983.83 990.33,983.82 990.64,983.80 990.95,983.79 991.26,983.79 991.56,983.78 991.87,983.78 992.18,983.78 992.48,983.78 992.79,983.78 993.10,983.79 993.41,983.79 993.71,983.80 994.02,983.81 994.33,983.82 994.63,983.83 994.94,983.84 995.25,983.85 995.56,983.87 995.86,983.88 996.17,983.90 996.48,983.96 996.78,984.12 997.09,984.34 997.40,984.57 997.71,984.78 998.01,984.94 998.32,985.00 998.63,985.00 998.93,985.00 999.24,985.00 999.55,985.00 999.86,985.00 1000.16,985.00 1000.47,985.00 1000.78,985.00 1001.08,985.00 1001.39,985.00 1001.70,985.00 1002.01,985.00 1002.31,985.00 1002.62,985.00 1002.93,985.00 1003.23,985.00 1003.54,985.00 1003.85,985.00 1004.16,985.00 1004.46,985.00 1004.77,985.00 1005.08,985.00 1005.38,985.00 1005.69,985.00 1006.00,985.00 1006.31,985.00 1006.61,985.00 1006.92,985.00 1007.23,985.00 1007.53,985.00 1007.84,985.00 1008.15,985.00 1008.46,985.00 1008.76,985.00 1009.07,985.00 1009.38,985.00 1009.68,985.00 1009.99,985.00 1010.30,985.00 1010.60,985.00 1010.91,985.00 1011.22,985.00 1011.53,985.00 1011.83,985.00 1012.14,985.00 1012.45,985.00 1012.75,985.00 1013.06,985.00 1013.37,985.00 1013.68,985.00 1013.98,985.00 1014.29,985.00 1014.60,985.00 1014.90,985.00 1015.21,985.00 1015.52,985.00 1015.83,985.00 1016.13,985.00 1016.44,985.00 1016.75,985.00 1017.05,985.00 1017.36,985.00 1017.67,985.00 1017.98,985.00 1018.28,985.00 1018.59,985.00 1018.90,985.00 1019.20,985.00 1019.51,985.00 1019.82,985.00 1020.13,985.00 1020.43,985.00 1020.74,985.00 1021.05,985.00 1021.35,985.00 1021.66,985.00 1021.97,985.00 1022.28,985.00 1022.58,985.00 1022.89,985.00 1023.20,985.00 1023.50,985.00 1023.81,985.00 1024.12,985.00 1024.43,985.00 1024.73,985.00 1025.04,985.00 1025.35,985.00 1025.65,985.00 1025.96,985.00 1026.27,985.00 1026.58,985.00 1026.88,985.00 1027.19,985.00 1027.50,985.00 1027.80,985.00 1028.11,985.00 1028.42,985.00 1028.73,985.00 1029.03,985.00 1029.34,985.00 1029.65,985.00 1029.95,985.00 1030.26,985.00 1030.57,985.00 1030.88,985.00 1031.18,985.00 1031.49,985.00 1031.80,985.00 1032.10,985.00 1032.41,985.00 1032.72,985.00 1033.03,985.00 1033.33,985.00 1033.64,985.00 1033.95,985.00 1034.25,985.00 1034.56,985.00 1034.87,985.00 1035.17,985.00 1035.48,985.00 1035.79,985.00 1036.10,985.00 1036.40,985.00 1036.71,985.00 1037.02,985.00 1037.32,985.00 1037.63,985.00 1037.94,985.00 1038.25,985.00 1038.55,985.00 1038.86,985.00 1039.17,985.00 1039.47,985.00 1039.78,985.00 1040.09,985.00 1040.40,985.00 1040.70,985.00 1041.01,985.00 1041.32,985.00 1041.62,985.00 1041.93,985.00 1042.24,985.00 1042.55,985.00 1042.85,985.00 1043.16,985.00 1043.47,985.00 1043.77,985.00 1044.08,985.00 1044.39,985.00 1044.70,985.00 1045.00,985.00 1045.31,985.00 1045.62,985.00 1045.92,985.00 1046.23,985.00 1046.54,985.00 1046.85,985.00 1047.15,985.00 1047.46,985.00 1047.77,985.00 1048.07,985.00 1048.38,985.00 1048.69,985.00 1049.00,985.00 1049.30,985.00 1049.61,985.00 1049.92,985.00 1050.22,985.00 1050.53,985.00 1050.84,985.00 1051.15,985.00 1051.45,985.00 1051.76,985.00 1052.07,985.00 1052.37,985.00 1052.68,985.00 1052.99,985.00 1053.30,985.00 1053.60,985.00 1053.91,985.00 1054.22,985.00 1054.52,985.00 1054.83,985.00 1055.14,985.00 1055.45,985.00 1055.75,985.00 1056.06,985.00 1056.37,985.00 1056.67,985.00 1056.98,985.00 1057.29,985.00 1057.60,985.00 1057.90,985.00 1058.21,985.00 1058.52,985.00 1058.82,985.00 1059.13,985.00 1059.44,985.00 1059.74,985.00 1060.05,985.00 1060.36,985.00 1060.67,985.00 1060.97,985.00 1061.28,985.00 1061.59,985.00 1061.89,985.00 1062.20,985.00 1062.51,985.00 1062.82,985.00 1063.12,985.00 1063.43,985.00 1063.74,985.00 1064.04,985.00 1064.35,985.00 1064.66,985.00 1064.97,985.00 1065.27,985.00 1065.58,985.00 1065.89,985.00 1066.19,985.00 1066.50,985.00 1066.81,985.00 1067.12,985.00 1067.42,985.00 1067.73,985.00 1068.04,985.00 1068.34,985.00 1068.65,985.00 1068.96,985.00 1069.27,985.00 1069.57,985.00 1069.88,985.00 1070.19,985.00 1070.49,985.00 1070.80,985.00 1071.11,985.00 1071.42,985.00 1071.72,985.00 1072.03,985.00 1072.34,985.00 1072.64,985.00 1072.95,985.00 1073.26,985.00 1073.57,985.00 1073.87,985.00 1074.18,985.00 1074.49,985.00 1074.79,985.00 1075.10,985.00 1075.41,985.00 1075.72,985.00 1076.02,985.00 1076.33,985.00 1076.64,985.00 1076.94,985.00 1077.25,985.00 1077.56,985.00 1077.87,985.00 1078.17,985.00 1078.48,985.00 1078.79,985.00 1079.09,985.00 1079.40,985.00 1079.71,985.00 1080.02,985.00 1080.32,985.00 1080.63,985.00 1080.94,985.00 1081.24,985.00 1081.55,985.00 1081.86,985.00 1082.17,985.00 1082.47,985.00 1082.78,985.00 1083.09,985.00 1083.39,985.00 1083.70,985.00 1084.01,985.00 1084.32,985.00 1084.62,984.99 1084.93,984.95 1085.24,984.89 1085.54,984.81 1085.85,984.72 1086.16,984.61 1086.46,984.50 1086.77,984.39 1087.08,984.28 1087.39,984.17 1087.69,984.06 1088.00,983.97 1088.31,983.89 1088.61,983.83 1088.92,983.79 1089.23,983.78 1089.54,983.79 1089.84,983.83 1090.15,983.89 1090.46,983.97 1090.76,984.06 1091.07,984.17 1091.38,984.28 1091.69,984.39 1091.99,984.50 1092.30,984.61 1092.61,984.72 1092.91,984.81 1093.22,984.89 1093.53,984.95 1093.84,984.99 1094.14,985.00 1094.45,985.00 1094.76,985.00 1095.06,985.00 1095.37,985.00 1095.68,985.00 1095.99,985.00 1096.29,985.00 1096.60,985.00" fill="none" stroke="#5a5a5a" stroke-width="1.2" stroke-linejoin="round"/>
<path d="M348.1,341.2L326.2,362.5M335.2,360.6L326.2,362.5L328.4,353.6" fill="none" stroke="#a4825e" stroke-width="1.1"/><path d="M252.7,401.5L230.3,423.6M239.3,421.6L230.3,423.6L232.4,414.6" fill="none" stroke="#a4825e" stroke-width="1.1"/>
<text transform="translate(277.37,54.87) scale(1.0568,1)" font-size="27.84" font-weight="bold" fill="#000" opacity="0.18">Control</text><text transform="translate(276.17,53.67) scale(1.0568,1)" font-size="27.84" font-weight="bold" fill="#1c9428" stroke="#1c9428" stroke-width="0.90" stroke-linejoin="round">Control</text>
<text transform="translate(286.09,86.45) scale(1.0375,1)" font-size="22.90" font-weight="bold" fill="#000" opacity="0.18">MDQ 48</text><text transform="translate(284.89,85.25) scale(1.0375,1)" font-size="22.90" font-weight="bold" fill="#1c9428" stroke="#1c9428" stroke-width="0.90" stroke-linejoin="round">MDQ 48</text>
<text transform="translate(627.40,53.57) scale(1.0426,1)" font-size="28.03" font-weight="bold" fill="#000" opacity="0.18">PMS</text><text transform="translate(626.20,52.37) scale(1.0426,1)" font-size="28.03" font-weight="bold" fill="#0c0c84" stroke="#0c0c84" stroke-width="0.90" stroke-linejoin="round">PMS</text>
<text transform="translate(616.19,84.45) scale(1.0385,1)" font-size="22.90" font-weight="bold" fill="#000" opacity="0.18">MDQ 54</text><text transform="translate(614.99,83.25) scale(1.0385,1)" font-size="22.90" font-weight="bold" fill="#0c0c84" stroke="#0c0c84" stroke-width="0.90" stroke-linejoin="round">MDQ 54</text>
<text transform="translate(930.50,53.75) scale(1.0235,1)" font-size="28.55" font-weight="bold" fill="#000" opacity="0.18">PMDD</text><text transform="translate(929.30,52.55) scale(1.0235,1)" font-size="28.55" font-weight="bold" fill="#dc0c5c" stroke="#dc0c5c" stroke-width="0.90" stroke-linejoin="round">PMDD</text>
<text transform="translate(924.49,84.45) scale(1.0392,1)" font-size="22.75" font-weight="bold" fill="#000" opacity="0.18">MDQ 109</text><text transform="translate(923.29,83.25) scale(1.0392,1)" font-size="22.75" font-weight="bold" fill="#dc0c5c" stroke="#dc0c5c" stroke-width="0.90" stroke-linejoin="round">MDQ 109</text>
<text transform="translate(284.47,576.17) scale(1.0619,1)" font-size="27.70" font-weight="bold" fill="#000" opacity="0.18">Control</text><text transform="translate(283.27,574.97) scale(1.0619,1)" font-size="27.70" font-weight="bold" fill="#1c9428" stroke="#1c9428" stroke-width="0.90" stroke-linejoin="round">Control</text>
<text transform="translate(292.99,607.55) scale(1.0363,1)" font-size="22.90" font-weight="bold" fill="#000" opacity="0.18">MDQ 49</text><text transform="translate(291.79,606.35) scale(1.0363,1)" font-size="22.90" font-weight="bold" fill="#1c9428" stroke="#1c9428" stroke-width="0.90" stroke-linejoin="round">MDQ 49</text>
<text transform="translate(626.40,577.37) scale(1.0479,1)" font-size="27.89" font-weight="bold" fill="#000" opacity="0.18">PMS</text><text transform="translate(625.20,576.17) scale(1.0479,1)" font-size="27.89" font-weight="bold" fill="#0c0c84" stroke="#0c0c84" stroke-width="0.90" stroke-linejoin="round">PMS</text>
<text transform="translate(614.98,608.25) scale(1.0482,1)" font-size="22.75" font-weight="bold" fill="#000" opacity="0.18">MDQ 67</text><text transform="translate(613.78,607.05) scale(1.0482,1)" font-size="22.75" font-weight="bold" fill="#0c0c84" stroke="#0c0c84" stroke-width="0.90" stroke-linejoin="round">MDQ 67</text>
<text transform="translate(929.92,577.55) scale(1.0225,1)" font-size="28.41" font-weight="bold" fill="#000" opacity="0.18">PMDD</text><text transform="translate(928.72,576.35) scale(1.0225,1)" font-size="28.41" font-weight="bold" fill="#dc0c5c" stroke="#dc0c5c" stroke-width="0.90" stroke-linejoin="round">PMDD</text>
<text transform="translate(923.50,608.35) scale(1.0381,1)" font-size="22.75" font-weight="bold" fill="#000" opacity="0.18">MDQ 129</text><text transform="translate(922.30,607.15) scale(1.0381,1)" font-size="22.75" font-weight="bold" fill="#dc0c5c" stroke="#dc0c5c" stroke-width="0.90" stroke-linejoin="round">MDQ 129</text>
<text transform="translate(204.59,74.76) scale(1.0643,1)" font-size="12.34" font-weight="bold" fill="#3c3c3c" stroke="#3c3c3c" stroke-width="0.50" stroke-linejoin="round">(ms)</text>
<text transform="translate(164.40,94.00) scale(1.1023,1)" font-size="14.79" font-weight="bold" fill="#3c3c3c" stroke="#3c3c3c" stroke-width="0.50" stroke-linejoin="round">-100</text>
<text transform="translate(187.53,160.40) scale(1.2466,1)" font-size="14.51" font-weight="bold" fill="#3c3c3c" stroke="#3c3c3c" stroke-width="0.50" stroke-linejoin="round">0</text>
<text transform="translate(164.81,229.20) scale(1.0679,1)" font-size="15.07" font-weight="bold" fill="#3c3c3c" stroke="#3c3c3c" stroke-width="0.50" stroke-linejoin="round">-100</text>
<text transform="translate(521.87,73.71) scale(1.1670,1)" font-size="11.60" font-weight="bold" fill="#3c3c3c" stroke="#3c3c3c" stroke-width="0.50" stroke-linejoin="round">(ms)</text>
<text transform="translate(488.39,93.51) scale(1.1606,1)" font-size="14.23" font-weight="bold" fill="#3c3c3c" stroke="#3c3c3c" stroke-width="0.50" stroke-linejoin="round">-100</text>
<text transform="translate(510.48,160.01) scale(1.3461,1)" font-size="14.23" font-weight="bold" fill="#3c3c3c" stroke="#3c3c3c" stroke-width="0.50" stroke-linejoin="round">0</text>
<text transform="translate(488.39,229.09) scale(1.0561,1)" font-size="15.63" font-weight="bold" fill="#3c3c3c" stroke="#3c3c3c" stroke-width="0.50" stroke-linejoin="round">-100</text>
<text transform="translate(839.07,73.71) scale(1.1670,1)" font-size="11.60" font-weight="bold" fill="#3c3c3c" stroke="#3c3c3c" stroke-width="0.50" stroke-linejoin="round">(ms)</text>
<text transform="translate(810.60,93.51) scale(1.1460,1)" font-size="14.23" font-weight="bold" fill="#3c3c3c" stroke="#3c3c3c" stroke-width="0.50" stroke-linejoin="round">-100</text>
<text transform="translate(826.38,160.01) scale(1.3461,1)" font-size="14.23" font-weight="bold" fill="#3c3c3c" stroke="#3c3c3c" stroke-width="0.50" stroke-linejoin="round">0</text>
<text transform="translate(810.60,229.79) scale(1.0427,1)" font-size="15.63" font-weight="bold" fill="#3c3c3c" stroke="#3c3c3c" stroke-width="0.50" stroke-linejoin="round">-100</text>
<text transform="translate(211.80,598.22) scale(1.2300,1)" font-size="10.64" font-weight="bold" fill="#3c3c3c" stroke="#3c3c3c" stroke-width="0.50" stroke-linejoin="round">(ms)</text>
<text transform="translate(171.91,617.60) scale(1.0610,1)" font-size="15.07" font-weight="bold" fill="#3c3c3c" stroke="#3c3c3c" stroke-width="0.50" stroke-linejoin="round">-100</text>
<text transform="translate(193.54,685.00) scale(1.2173,1)" font-size="14.51" font-weight="bold" fill="#3c3c3c" stroke="#3c3c3c" stroke-width="0.50" stroke-linejoin="round">0</text>
<text transform="translate(171.91,752.30) scale(1.0512,1)" font-size="15.21" font-weight="bold" fill="#3c3c3c" stroke="#3c3c3c" stroke-width="0.50" stroke-linejoin="round">-100</text>
<text transform="translate(528.09,596.64) scale(1.1518,1)" font-size="11.49" font-weight="bold" fill="#3c3c3c" stroke="#3c3c3c" stroke-width="0.50" stroke-linejoin="round">(ms)</text>
<text transform="translate(494.91,616.80) scale(1.0780,1)" font-size="14.93" font-weight="bold" fill="#3c3c3c" stroke="#3c3c3c" stroke-width="0.50" stroke-linejoin="round">-100</text>
<text transform="translate(517.55,684.00) scale(1.1686,1)" font-size="14.93" font-weight="bold" fill="#3c3c3c" stroke="#3c3c3c" stroke-width="0.50" stroke-linejoin="round">0</text>
<text transform="translate(494.91,751.60) scale(1.0483,1)" font-size="15.35" font-weight="bold" fill="#3c3c3c" stroke="#3c3c3c" stroke-width="0.50" stroke-linejoin="round">-100</text>
<text transform="translate(846.18,597.18) scale(1.0899,1)" font-size="12.23" font-weight="bold" fill="#3c3c3c" stroke="#3c3c3c" stroke-width="0.50" stroke-linejoin="round">(ms)</text>
<text transform="translate(817.50,616.49) scale(1.0056,1)" font-size="16.06" font-weight="bold" fill="#3c3c3c" stroke="#3c3c3c" stroke-width="0.50" stroke-linejoin="round">-100</text>
<text transform="translate(832.54,684.59) scale(1.1034,1)" font-size="16.20" font-weight="bold" fill="#3c3c3c" stroke="#3c3c3c" stroke-width="0.50" stroke-linejoin="round">0</text>
<text transform="translate(817.50,751.29) scale(1.0268,1)" font-size="15.77" font-weight="bold" fill="#3c3c3c" stroke="#3c3c3c" stroke-width="0.50" stroke-linejoin="round">-100</text>
<text transform="translate(166.59,278.03) scale(1.0533,1)" font-size="12.45" font-weight="bold" fill="#333333" stroke="#333333" stroke-width="0.50" stroke-linejoin="round">(ms<tspan dy="-0.62em" font-size="0.65em">2</tspan><tspan dy="0.403em">-</tspan> Hz<tspan dy="-0.62em" font-size="0.65em">-1</tspan><tspan dy="0.403em">)</tspan></text>
<text transform="translate(176.46,399.83) rotate(-90) scale(0.8850,1)" font-size="19.00" font-weight="bold" fill="#444444" stroke="#444444" stroke-width="0.50">Power</text>
<text transform="translate(250.26,511.66) scale(1.0454,1)" font-size="20.43" font-weight="bold" fill="#555555" stroke="#555555" stroke-width="0.50" stroke-linejoin="round">Frequency (Hz)</text>
<text transform="translate(179.14,303.65) scale(1.0327,1)" font-size="16.23" font-weight="bold" fill="#3c3c3c" stroke="#3c3c3c" stroke-width="0.50" stroke-linejoin="round">14</text>
<text transform="translate(189.19,385.12) scale(0.9987,1)" font-size="16.62" font-weight="bold" fill="#3c3c3c" stroke="#3c3c3c" stroke-width="0.50" stroke-linejoin="round">7</text>
<text transform="translate(190.32,468.69) scale(1.1396,1)" font-size="16.06" font-weight="bold" fill="#3c3c3c" stroke="#3c3c3c" stroke-width="0.50" stroke-linejoin="round">0</text>
<text transform="translate(486.59,278.03) scale(1.0567,1)" font-size="12.45" font-weight="bold" fill="#333333" stroke="#333333" stroke-width="0.50" stroke-linejoin="round">(ms<tspan dy="-0.62em" font-size="0.65em">2</tspan><tspan dy="0.403em">-</tspan> Hz<tspan dy="-0.62em" font-size="0.65em">-1</tspan><tspan dy="0.403em">)</tspan></text>
<text transform="translate(494.56,399.73) rotate(-90) scale(0.9022,1)" font-size="18.71" font-weight="bold" fill="#444444" stroke="#444444" stroke-width="0.50">Power</text>
<text transform="translate(577.16,511.66) scale(1.0426,1)" font-size="20.43" font-weight="bold" fill="#555555" stroke="#555555" stroke-width="0.50" stroke-linejoin="round">Frequency (Hz)</text>
<text transform="translate(500.47,303.65) scale(1.0370,1)" font-size="15.80" font-weight="bold" fill="#3c3c3c" stroke="#3c3c3c" stroke-width="0.50" stroke-linejoin="round">14</text>
<text transform="translate(509.97,384.72) scale(1.0065,1)" font-size="16.91" font-weight="bold" fill="#3c3c3c" stroke="#3c3c3c" stroke-width="0.50" stroke-linejoin="round">7</text>
<text transform="translate(511.54,468.49) scale(1.1131,1)" font-size="16.06" font-weight="bold" fill="#3c3c3c" stroke="#3c3c3c" stroke-width="0.50" stroke-linejoin="round">0</text>
<text transform="translate(808.30,278.03) scale(1.0466,1)" font-size="12.45" font-weight="bold" fill="#333333" stroke="#333333" stroke-width="0.50" stroke-linejoin="round">(ms<tspan dy="-0.62em" font-size="0.65em">2</tspan><tspan dy="0.403em">-</tspan> Hz<tspan dy="-0.62em" font-size="0.65em">-1</tspan><tspan dy="0.403em">)</tspan></text>
<text transform="translate(811.56,399.42) rotate(-90) scale(0.8899,1)" font-size="18.86" font-weight="bold" fill="#444444" stroke="#444444" stroke-width="0.50">Power</text>
<text transform="translate(892.16,511.66) scale(1.0419,1)" font-size="20.43" font-weight="bold" fill="#555555" stroke="#555555" stroke-width="0.50" stroke-linejoin="round">Frequency (Hz)</text>
<text transform="translate(817.37,303.65) scale(1.0183,1)" font-size="16.09" font-weight="bold" fill="#3c3c3c" stroke="#3c3c3c" stroke-width="0.50" stroke-linejoin="round">14</text>
<text transform="translate(826.76,384.71) scale(1.0464,1)" font-size="16.47" font-weight="bold" fill="#3c3c3c" stroke="#3c3c3c" stroke-width="0.50" stroke-linejoin="round">7</text>
<text transform="translate(827.54,468.49) scale(1.1131,1)" font-size="16.06" font-weight="bold" fill="#3c3c3c" stroke="#3c3c3c" stroke-width="0.50" stroke-linejoin="round">0</text>
<text transform="translate(173.29,802.13) scale(1.0567,1)" font-size="12.45" font-weight="bold" fill="#333333" stroke="#333333" stroke-width="0.50" stroke-linejoin="round">(ms<tspan dy="-0.62em" font-size="0.65em">2</tspan><tspan dy="0.403em">-</tspan> Hz<tspan dy="-0.62em" font-size="0.65em">-1</tspan><tspan dy="0.403em">)</tspan></text>
<text transform="translate(184.15,924.40) rotate(-90) scale(0.8399,1)" font-size="19.57" font-weight="bold" fill="#444444" stroke="#444444" stroke-width="0.50">Power</text>
<text transform="translate(256.36,1035.29) scale(1.0762,1)" font-size="19.79" font-weight="bold" fill="#555555" stroke="#555555" stroke-width="0.50" stroke-linejoin="round">Frequency (Hz)</text>
<text transform="translate(186.36,827.25) scale(1.0242,1)" font-size="16.09" font-weight="bold" fill="#3c3c3c" stroke="#3c3c3c" stroke-width="0.50" stroke-linejoin="round">14</text>
<text transform="translate(195.97,909.41) scale(1.0522,1)" font-size="16.18" font-weight="bold" fill="#3c3c3c" stroke="#3c3c3c" stroke-width="0.50" stroke-linejoin="round">7</text>
<text transform="translate(196.54,992.59) scale(1.0999,1)" font-size="16.06" font-weight="bold" fill="#3c3c3c" stroke="#3c3c3c" stroke-width="0.50" stroke-linejoin="round">0</text>
<text transform="translate(493.29,802.13) scale(1.0567,1)" font-size="12.45" font-weight="bold" fill="#333333" stroke="#333333" stroke-width="0.50" stroke-linejoin="round">(ms<tspan dy="-0.62em" font-size="0.65em">2</tspan><tspan dy="0.403em">-</tspan> Hz<tspan dy="-0.62em" font-size="0.65em">-1</tspan><tspan dy="0.403em">)</tspan></text>
<text transform="translate(500.86,921.89) rotate(-90) scale(0.8692,1)" font-size="18.71" font-weight="bold" fill="#444444" stroke="#444444" stroke-width="0.50">Power</text>
<text transform="translate(584.77,1035.29) scale(1.0713,1)" font-size="19.79" font-weight="bold" fill="#555555" stroke="#555555" stroke-width="0.50" stroke-linejoin="round">Frequency (Hz)</text>
<text transform="translate(508.44,826.65) scale(0.9499,1)" font-size="15.94" font-weight="bold" fill="#3c3c3c" stroke="#3c3c3c" stroke-width="0.50" stroke-linejoin="round">14</text>
<text transform="translate(517.00,908.91) scale(0.9818,1)" font-size="16.47" font-weight="bold" fill="#3c3c3c" stroke="#3c3c3c" stroke-width="0.50" stroke-linejoin="round">7</text>
<text transform="translate(518.09,991.89) scale(1.0521,1)" font-size="15.77" font-weight="bold" fill="#3c3c3c" stroke="#3c3c3c" stroke-width="0.50" stroke-linejoin="round">0</text>
<text transform="translate(815.90,801.93) scale(1.0399,1)" font-size="12.45" font-weight="bold" fill="#333333" stroke="#333333" stroke-width="0.50" stroke-linejoin="round">(ms<tspan dy="-0.62em" font-size="0.65em">2</tspan><tspan dy="0.403em">-</tspan> Hz<tspan dy="-0.62em" font-size="0.65em">-1</tspan><tspan dy="0.403em">)</tspan></text>
<text transform="translate(819.25,921.89) rotate(-90) scale(0.8312,1)" font-size="19.57" font-weight="bold" fill="#444444" stroke="#444444" stroke-width="0.50">Power</text>
<text transform="translate(899.35,1035.29) scale(1.0805,1)" font-size="19.79" font-weight="bold" fill="#555555" stroke="#555555" stroke-width="0.50" stroke-linejoin="round">Frequency (Hz)</text>
<text transform="translate(823.37,826.55) scale(1.0183,1)" font-size="16.09" font-weight="bold" fill="#3c3c3c" stroke="#3c3c3c" stroke-width="0.50" stroke-linejoin="round">14</text>
<text transform="translate(832.74,908.91) scale(1.0722,1)" font-size="16.47" font-weight="bold" fill="#3c3c3c" stroke="#3c3c3c" stroke-width="0.50" stroke-linejoin="round">7</text>
<text transform="translate(834.14,992.49) scale(1.1131,1)" font-size="16.06" font-weight="bold" fill="#3c3c3c" stroke="#3c3c3c" stroke-width="0.50" stroke-linejoin="round">0</text>
<text transform="translate(205.33,483.59) scale(1.1166,1)" font-size="16.20" font-weight="bold" fill="#444444" stroke="#444444" stroke-width="0.50" stroke-linejoin="round">0</text>
<text transform="translate(240.61,483.59) scale(0.9869,1)" font-size="16.20" font-weight="bold" fill="#444444" stroke="#444444" stroke-width="0.50" stroke-linejoin="round">0.1</text>
<text transform="translate(290.51,483.59) scale(0.9944,1)" font-size="16.20" font-weight="bold" fill="#444444" stroke="#444444" stroke-width="0.50" stroke-linejoin="round">0.2</text>
<text transform="translate(344.61,483.59) scale(0.9944,1)" font-size="16.20" font-weight="bold" fill="#444444" stroke="#444444" stroke-width="0.50" stroke-linejoin="round">0.3</text>
<text transform="translate(389.52,483.59) scale(0.9650,1)" font-size="16.20" font-weight="bold" fill="#444444" stroke="#444444" stroke-width="0.50" stroke-linejoin="round">0.4</text>
<text transform="translate(438.61,483.59) scale(0.9869,1)" font-size="16.20" font-weight="bold" fill="#444444" stroke="#444444" stroke-width="0.50" stroke-linejoin="round">0.5</text>
<text transform="translate(525.33,483.59) scale(1.1166,1)" font-size="16.20" font-weight="bold" fill="#444444" stroke="#444444" stroke-width="0.50" stroke-linejoin="round">0</text>
<text transform="translate(560.61,483.59) scale(0.9869,1)" font-size="16.20" font-weight="bold" fill="#444444" stroke="#444444" stroke-width="0.50" stroke-linejoin="round">0.1</text>
<text transform="translate(610.51,483.59) scale(0.9944,1)" font-size="16.20" font-weight="bold" fill="#444444" stroke="#444444" stroke-width="0.50" stroke-linejoin="round">0.2</text>
<text transform="translate(664.61,483.59) scale(0.9944,1)" font-size="16.20" font-weight="bold" fill="#444444" stroke="#444444" stroke-width="0.50" stroke-linejoin="round">0.3</text>
<text transform="translate(709.52,483.59) scale(0.9650,1)" font-size="16.20" font-weight="bold" fill="#444444" stroke="#444444" stroke-width="0.50" stroke-linejoin="round">0.4</text>
<text transform="translate(758.61,483.59) scale(0.9869,1)" font-size="16.20" font-weight="bold" fill="#444444" stroke="#444444" stroke-width="0.50" stroke-linejoin="round">0.5</text>
<text transform="translate(842.33,483.59) scale(1.1166,1)" font-size="16.20" font-weight="bold" fill="#444444" stroke="#444444" stroke-width="0.50" stroke-linejoin="round">0</text>
<text transform="translate(878.11,483.59) scale(0.9869,1)" font-size="16.20" font-weight="bold" fill="#444444" stroke="#444444" stroke-width="0.50" stroke-linejoin="round">0.1</text>
<text transform="translate(927.71,483.59) scale(0.9944,1)" font-size="16.20" font-weight="bold" fill="#444444" stroke="#444444" stroke-width="0.50" stroke-linejoin="round">0.2</text>
<text transform="translate(981.61,483.59) scale(0.9944,1)" font-size="16.20" font-weight="bold" fill="#444444" stroke="#444444" stroke-width="0.50" stroke-linejoin="round">0.3</text>
<text transform="translate(1026.82,483.59) scale(0.9650,1)" font-size="16.20" font-weight="bold" fill="#444444" stroke="#444444" stroke-width="0.50" stroke-linejoin="round">0.4</text>
<text transform="translate(1075.91,483.59) scale(0.9869,1)" font-size="16.20" font-weight="bold" fill="#444444" stroke="#444444" stroke-width="0.50" stroke-linejoin="round">0.5</text>
<text transform="translate(211.43,1006.69) scale(1.1166,1)" font-size="16.20" font-weight="bold" fill="#444444" stroke="#444444" stroke-width="0.50" stroke-linejoin="round">0</text>
<text transform="translate(247.51,1006.69) scale(0.9869,1)" font-size="16.20" font-weight="bold" fill="#444444" stroke="#444444" stroke-width="0.50" stroke-linejoin="round">0.1</text>
<text transform="translate(296.61,1006.69) scale(0.9944,1)" font-size="16.20" font-weight="bold" fill="#444444" stroke="#444444" stroke-width="0.50" stroke-linejoin="round">0.2</text>
<text transform="translate(350.51,1006.69) scale(0.9944,1)" font-size="16.20" font-weight="bold" fill="#444444" stroke="#444444" stroke-width="0.50" stroke-linejoin="round">0.3</text>
<text transform="translate(395.62,1006.69) scale(0.9650,1)" font-size="16.20" font-weight="bold" fill="#444444" stroke="#444444" stroke-width="0.50" stroke-linejoin="round">0.4</text>
<text transform="translate(444.31,1006.69) scale(0.9869,1)" font-size="16.20" font-weight="bold" fill="#444444" stroke="#444444" stroke-width="0.50" stroke-linejoin="round">0.5</text>
<text transform="translate(531.43,1006.69) scale(1.1166,1)" font-size="16.20" font-weight="bold" fill="#444444" stroke="#444444" stroke-width="0.50" stroke-linejoin="round">0</text>
<text transform="translate(567.51,1006.69) scale(0.9869,1)" font-size="16.20" font-weight="bold" fill="#444444" stroke="#444444" stroke-width="0.50" stroke-linejoin="round">0.1</text>
<text transform="translate(616.61,1006.69) scale(0.9944,1)" font-size="16.20" font-weight="bold" fill="#444444" stroke="#444444" stroke-width="0.50" stroke-linejoin="round">0.2</text>
<text transform="translate(670.51,1006.69) scale(0.9944,1)" font-size="16.20" font-weight="bold" fill="#444444" stroke="#444444" stroke-width="0.50" stroke-linejoin="round">0.3</text>
<text transform="translate(715.62,1006.69) scale(0.9650,1)" font-size="16.20" font-weight="bold" fill="#444444" stroke="#444444" stroke-width="0.50" stroke-linejoin="round">0.4</text>
<text transform="translate(764.31,1006.69) scale(0.9869,1)" font-size="16.20" font-weight="bold" fill="#444444" stroke="#444444" stroke-width="0.50" stroke-linejoin="round">0.5</text>
<text transform="translate(849.43,1006.69) scale(1.1166,1)" font-size="16.20" font-weight="bold" fill="#444444" stroke="#444444" stroke-width="0.50" stroke-linejoin="round">0</text>
<text transform="translate(885.21,1006.69) scale(0.9869,1)" font-size="16.20" font-weight="bold" fill="#444444" stroke="#444444" stroke-width="0.50" stroke-linejoin="round">0.1</text>
<text transform="translate(935.01,1006.69) scale(0.9944,1)" font-size="16.20" font-weight="bold" fill="#444444" stroke="#444444" stroke-width="0.50" stroke-linejoin="round">0.2</text>
<text transform="translate(988.91,1006.69) scale(0.9944,1)" font-size="16.20" font-weight="bold" fill="#444444" stroke="#444444" stroke-width="0.50" stroke-linejoin="round">0.3</text>
<text transform="translate(1033.92,1006.69) scale(0.9650,1)" font-size="16.20" font-weight="bold" fill="#444444" stroke="#444444" stroke-width="0.50" stroke-linejoin="round">0.4</text>
<text transform="translate(1082.71,1006.69) scale(0.9869,1)" font-size="16.20" font-weight="bold" fill="#444444" stroke="#444444" stroke-width="0.50" stroke-linejoin="round">0.5</text>
<text transform="translate(351.25,337.25) scale(1.0514,1)" font-size="23.04" font-weight="bold" fill="#85572b" stroke="#85572b" stroke-width="0.50" stroke-linejoin="round">HF</text>
<text transform="translate(255.59,397.55) scale(1.0218,1)" font-size="23.19" font-weight="bold" fill="#85572b" stroke="#85572b" stroke-width="0.50" stroke-linejoin="round">LF</text>
<text transform="translate(10.16,266.01) scale(0.7220,1)" font-size="49.19" font-weight="normal" fill="#9a1208" stroke="#9a1208" stroke-width="2.88" stroke-linejoin="round">Follicular</text><text transform="translate(11.06,267.01) scale(0.7220,1)" font-size="49.19" font-weight="normal" fill="#9a1208" stroke="#9a1208" stroke-width="2.88" stroke-linejoin="round">Follicular</text><text transform="translate(11.96,268.01) scale(0.7220,1)" font-size="49.19" font-weight="normal" fill="#9a1208" stroke="#9a1208" stroke-width="2.88" stroke-linejoin="round">Follicular</text><text transform="translate(12.50,268.61) scale(0.7220,1)" font-size="49.19" font-weight="normal" fill="#9a1208" stroke="#9a1208" stroke-width="2.88" stroke-linejoin="round">Follicular</text><text transform="translate(9.26,265.01) scale(0.7220,1)" font-size="49.19" font-weight="normal" fill="#fff0a8" stroke="#4a2600" stroke-width="1.80" stroke-linejoin="round">Follicular</text>
<text transform="translate(24.87,791.35) scale(0.7698,1)" font-size="50.00" font-weight="normal" fill="#9a1208" stroke="#9a1208" stroke-width="3.04" stroke-linejoin="round">Luteal</text><text transform="translate(25.77,792.35) scale(0.7698,1)" font-size="50.00" font-weight="normal" fill="#9a1208" stroke="#9a1208" stroke-width="3.04" stroke-linejoin="round">Luteal</text><text transform="translate(26.67,793.35) scale(0.7698,1)" font-size="50.00" font-weight="normal" fill="#9a1208" stroke="#9a1208" stroke-width="3.04" stroke-linejoin="round">Luteal</text><text transform="translate(27.21,793.95) scale(0.7698,1)" font-size="50.00" font-weight="normal" fill="#9a1208" stroke="#9a1208" stroke-width="3.04" stroke-linejoin="round">Luteal</text><text transform="translate(23.97,790.35) scale(0.7698,1)" font-size="50.00" font-weight="normal" fill="#fff0a8" stroke="#4a2600" stroke-width="1.90" stroke-linejoin="round">Luteal</text>
</svg></body></html>
